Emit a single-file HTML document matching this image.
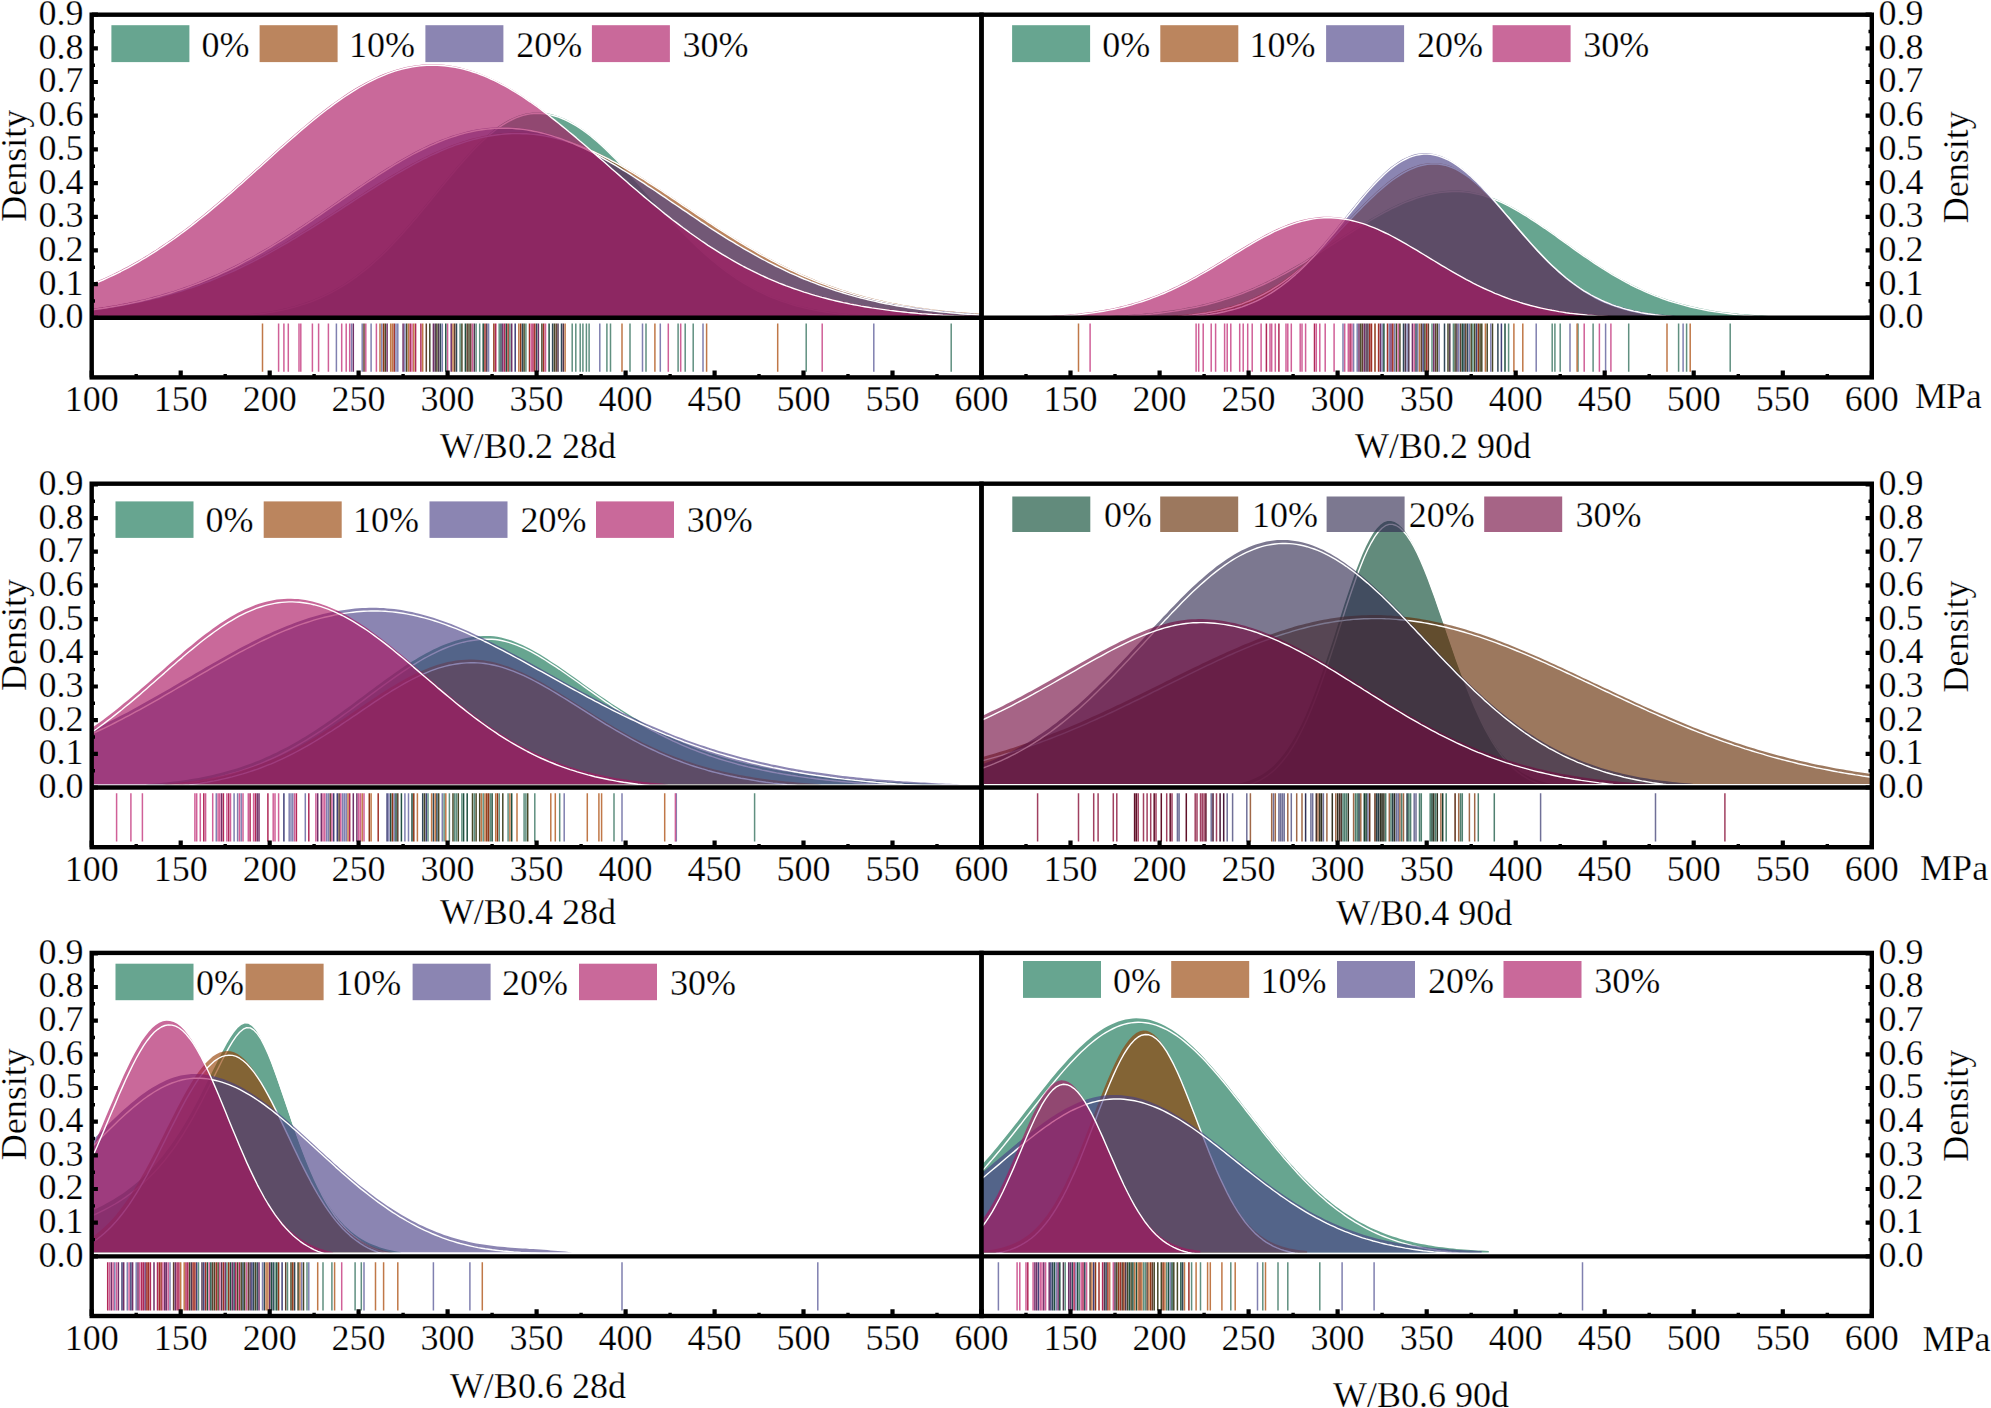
<!DOCTYPE html>
<html lang="en"><head><meta charset="utf-8"><title>Density distributions</title>
<style>html,body{margin:0;padding:0;background:#fff;}svg{display:block;}text{font-family:"Liberation Serif",serif;font-size:36px;fill:#000;stroke:#fff;stroke-width:0.25px;}</style>
</head><body>
<svg width="1991" height="1408" viewBox="0 0 1991 1408">
<rect x="0" y="0" width="1991" height="1408" fill="#fff"/>
<g id="panel1">
<clipPath id="cp0"><rect x="91.7" y="14.7" width="889.8" height="304.1"/></clipPath>
<g clip-path="url(#cp0)" stroke-linejoin="round">
<path d="M216.3 316.8L216.3 316.4L219.8 316.2L223.4 316.1L226.9 315.9L230.5 315.6L234.1 315.4L237.6 315.1L241.2 314.8L244.7 314.5L248.3 314.2L251.9 313.8L255.4 313.4L259 312.9L262.5 312.5L266.1 311.9L269.7 311.4L273.2 310.7L276.8 310.1L280.3 309.4L283.9 308.6L287.5 307.7L291 306.8L294.6 305.9L298.1 304.8L301.7 303.7L305.3 302.6L308.8 301.3L312.4 300L315.9 298.5L319.5 297L323 295.4L326.6 293.7L330.2 291.9L333.7 290L337.3 288L340.8 285.9L344.4 283.7L348 281.3L351.5 278.9L355.1 276.4L358.6 273.7L362.2 270.9L365.8 268.1L369.3 265.1L372.9 262L376.4 258.7L380 255.4L383.6 252L387.1 248.4L390.7 244.8L394.2 241.1L397.8 237.2L401.4 233.3L404.9 229.3L408.5 225.3L412 221.1L415.6 217L419.1 212.7L422.7 208.4L426.3 204.1L429.8 199.7L433.4 195.4L436.9 191L440.5 186.6L444.1 182.3L447.6 178L451.2 173.7L454.7 169.5L458.3 165.3L461.9 161.2L465.4 157.2L469 153.3L472.5 149.5L476.1 145.8L479.7 142.3L483.2 138.9L486.8 135.7L490.3 132.7L493.9 129.8L497.4 127.1L501 124.6L504.6 122.3L508.1 120.3L511.7 118.5L515.2 116.9L518.8 115.5L522.4 114.4L525.9 113.5L529.5 112.9L533 112.5L536.6 112.4L540.2 112.5L543.7 112.8L547.3 113.3L550.8 114.1L554.4 115L558 116.2L561.5 117.5L565.1 119.1L568.6 120.8L572.2 122.8L575.8 124.9L579.3 127.2L582.9 129.6L586.4 132.3L590 135L593.5 138L597.1 141L600.7 144.2L604.2 147.5L607.8 151L611.3 154.5L614.9 158.1L618.5 161.8L622 165.6L625.6 169.4L629.1 173.3L632.7 177.2L636.3 181.2L639.8 185.2L643.4 189.2L646.9 193.2L650.5 197.2L654.1 201.2L657.6 205.2L661.2 209.2L664.7 213.1L668.3 217L671.8 220.9L675.4 224.7L679 228.4L682.5 232.1L686.1 235.7L689.6 239.3L693.2 242.8L696.8 246.2L700.3 249.5L703.9 252.7L707.4 255.8L711 258.9L714.6 261.8L718.1 264.7L721.7 267.5L725.2 270.2L728.8 272.7L732.4 275.2L735.9 277.6L739.5 279.9L743 282.1L746.6 284.2L750.2 286.2L753.7 288.2L757.3 290L760.8 291.7L764.4 293.4L767.9 295L771.5 296.5L775.1 297.9L778.6 299.3L782.2 300.5L785.7 301.7L789.3 302.9L792.9 304L796.4 305L800 305.9L803.5 306.8L807.1 307.6L810.7 308.4L814.2 309.1L817.8 309.8L821.3 310.4L824.9 311L828.5 311.6L832 312.1L835.6 312.6L839.1 313L842.7 313.4L846.3 313.8L849.8 314.1L853.4 314.5L856.9 314.8L860.5 315L864 315.3L867.6 315.5L871.2 315.7L874.7 315.9L878.3 316.1L881.8 316.3L885.4 316.4L885.4 316.8Z" fill="#0f704f" opacity="0.63"/>
<path d="M216.9 317.8L216.9 317.4L220.4 317.2L224 317.1L227.5 316.9L231.1 316.6L234.7 316.4L238.2 316.1L241.8 315.8L245.3 315.5L248.9 315.2L252.5 314.8L256 314.4L259.6 313.9L263.1 313.5L266.7 312.9L270.3 312.4L273.8 311.7L277.4 311.1L280.9 310.4L284.5 309.6L288.1 308.7L291.6 307.8L295.2 306.9L298.7 305.8L302.3 304.7L305.9 303.6L309.4 302.3L313 301L316.5 299.5L320.1 298L323.6 296.4L327.2 294.7L330.8 292.9L334.3 291L337.9 289L341.4 286.9L345 284.7L348.6 282.3L352.1 279.9L355.7 277.4L359.2 274.7L362.8 271.9L366.4 269.1L369.9 266.1L373.5 263L377 259.7L380.6 256.4L384.2 253L387.7 249.4L391.3 245.8L394.8 242.1L398.4 238.2L402 234.3L405.5 230.3L409.1 226.3L412.6 222.1L416.2 218L419.7 213.7L423.3 209.4L426.9 205.1L430.4 200.7L434 196.4L437.5 192L441.1 187.6L444.7 183.3L448.2 179L451.8 174.7L455.3 170.5L458.9 166.3L462.5 162.2L466 158.2L469.6 154.3L473.1 150.5L476.7 146.8L480.3 143.3L483.8 139.9L487.4 136.7L490.9 133.7L494.5 130.8L498 128.1L501.6 125.6L505.2 123.3L508.7 121.3L512.3 119.5L515.8 117.9L519.4 116.5L523 115.4L526.5 114.5L530.1 113.9L533.6 113.5L537.2 113.4L540.8 113.5L544.3 113.8L547.9 114.3L551.4 115.1L555 116L558.6 117.2L562.1 118.5L565.7 120.1L569.2 121.8L572.8 123.8L576.4 125.9L579.9 128.2L583.5 130.6L587 133.3L590.6 136L594.1 139L597.7 142L601.3 145.2L604.8 148.5L608.4 152L611.9 155.5L615.5 159.1L619.1 162.8L622.6 166.6L626.2 170.4L629.7 174.3L633.3 178.2L636.9 182.2L640.4 186.2L644 190.2L647.5 194.2L651.1 198.2L654.7 202.2L658.2 206.2L661.8 210.2L665.3 214.1L668.9 218L672.4 221.9L676 225.7L679.6 229.4L683.1 233.1L686.7 236.7L690.2 240.3L693.8 243.8L697.4 247.2L700.9 250.5L704.5 253.7L708 256.8L711.6 259.9L715.2 262.8L718.7 265.7L722.3 268.5L725.8 271.2L729.4 273.7L733 276.2L736.5 278.6L740.1 280.9L743.6 283.1L747.2 285.2L750.8 287.2L754.3 289.2L757.9 291L761.4 292.7L765 294.4L768.5 296L772.1 297.5L775.7 298.9L779.2 300.3L782.8 301.5L786.3 302.7L789.9 303.9L793.5 305L797 306L800.6 306.9L804.1 307.8L807.7 308.6L811.3 309.4L814.8 310.1L818.4 310.8L821.9 311.4L825.5 312L829.1 312.6L832.6 313.1L836.2 313.6L839.7 314L843.3 314.4L846.9 314.8L850.4 315.1L854 315.5L857.5 315.8L861.1 316L864.6 316.3L868.2 316.5L871.8 316.7L875.3 316.9L878.9 317.1L882.4 317.3L886 317.4L886 317.8" fill="none" stroke="#fff" stroke-width="1.4"/>
<path d="M73.9 316.8L73.9 310.9L77.5 310.6L81 310.2L84.6 309.8L88.1 309.3L91.7 308.9L95.3 308.4L98.8 308L102.4 307.5L105.9 306.9L109.5 306.4L113.1 305.8L116.6 305.2L120.2 304.6L123.7 304L127.3 303.3L130.9 302.6L134.4 301.9L138 301.2L141.5 300.4L145.1 299.6L148.6 298.8L152.2 297.9L155.8 297.1L159.3 296.2L162.9 295.2L166.4 294.2L170 293.2L173.6 292.2L177.1 291.1L180.7 290L184.2 288.9L187.8 287.7L191.4 286.5L194.9 285.3L198.5 284.1L202 282.7L205.6 281.4L209.2 280L212.7 278.6L216.3 277.2L219.8 275.7L223.4 274.2L226.9 272.7L230.5 271.1L234.1 269.5L237.6 267.8L241.2 266.1L244.7 264.4L248.3 262.7L251.9 260.9L255.4 259L259 257.2L262.5 255.3L266.1 253.4L269.7 251.5L273.2 249.5L276.8 247.5L280.3 245.4L283.9 243.4L287.5 241.3L291 239.2L294.6 237.1L298.1 234.9L301.7 232.7L305.3 230.5L308.8 228.3L312.4 226.1L315.9 223.8L319.5 221.6L323 219.3L326.6 217L330.2 214.7L333.7 212.4L337.3 210.1L340.8 207.8L344.4 205.4L348 203.1L351.5 200.8L355.1 198.5L358.6 196.2L362.2 193.9L365.8 191.6L369.3 189.3L372.9 187.1L376.4 184.8L380 182.6L383.6 180.4L387.1 178.2L390.7 176.1L394.2 174L397.8 171.9L401.4 169.8L404.9 167.8L408.5 165.8L412 163.8L415.6 161.9L419.1 160.1L422.7 158.2L426.3 156.5L429.8 154.7L433.4 153.1L436.9 151.5L440.5 149.9L444.1 148.4L447.6 146.9L451.2 145.6L454.7 144.2L458.3 143L461.9 141.8L465.4 140.7L469 139.6L472.5 138.6L476.1 137.7L479.7 136.9L483.2 136.1L486.8 135.4L490.3 134.8L493.9 134.2L497.4 133.7L501 133.4L504.6 133L508.1 132.8L511.7 132.6L515.2 132.6L518.8 132.6L522.4 132.7L525.9 132.8L529.5 133.1L533 133.4L536.6 133.8L540.2 134.3L543.7 134.9L547.3 135.6L550.8 136.3L554.4 137.1L558 138L561.5 139L565.1 140L568.6 141.2L572.2 142.4L575.8 143.6L579.3 145L582.9 146.4L586.4 147.8L590 149.4L593.5 151L597.1 152.6L600.7 154.3L604.2 156.1L607.8 157.9L611.3 159.8L614.9 161.7L618.5 163.7L622 165.7L625.6 167.7L629.1 169.8L632.7 172L636.3 174.1L639.8 176.3L643.4 178.5L646.9 180.8L650.5 183.1L654.1 185.4L657.6 187.7L661.2 190L664.7 192.4L668.3 194.7L671.8 197.1L675.4 199.5L679 201.9L682.5 204.3L686.1 206.6L689.6 209L693.2 211.4L696.8 213.8L700.3 216.2L703.9 218.5L707.4 220.9L711 223.2L714.6 225.6L718.1 227.9L721.7 230.2L725.2 232.4L728.8 234.7L732.4 236.9L735.9 239.1L739.5 241.3L743 243.4L746.6 245.6L750.2 247.7L753.7 249.7L757.3 251.8L760.8 253.8L764.4 255.7L767.9 257.7L771.5 259.6L775.1 261.4L778.6 263.3L782.2 265.1L785.7 266.8L789.3 268.5L792.9 270.2L796.4 271.9L800 273.5L803.5 275.1L807.1 276.6L810.7 278.1L814.2 279.6L817.8 281L821.3 282.4L824.9 283.7L828.5 285.1L832 286.3L835.6 287.6L839.1 288.8L842.7 290L846.3 291.1L849.8 292.2L853.4 293.3L856.9 294.3L860.5 295.3L864 296.3L867.6 297.2L871.2 298.1L874.7 299L878.3 299.8L881.8 300.6L885.4 301.4L889 302.2L892.5 302.9L896.1 303.6L899.6 304.3L903.2 304.9L906.8 305.5L910.3 306.1L913.9 306.7L917.4 307.2L921 307.8L924.6 308.3L928.1 308.8L931.7 309.2L935.2 309.7L938.8 310.1L942.3 310.5L945.9 310.9L949.5 311.2L953 311.6L956.6 311.9L960.1 312.3L963.7 312.6L967.3 312.8L970.8 313.1L974.4 313.4L977.9 313.6L981.5 313.9L985.1 314.1L988.6 314.3L992.2 314.5L995.7 314.7L999.3 314.9L999.3 316.8Z" fill="#933d00" opacity="0.63"/>
<path d="M74.5 317.8L74.5 311.9L78.1 311.6L81.6 311.2L85.2 310.8L88.7 310.3L92.3 309.9L95.9 309.4L99.4 309L103 308.5L106.5 307.9L110.1 307.4L113.7 306.8L117.2 306.2L120.8 305.6L124.3 305L127.9 304.3L131.5 303.6L135 302.9L138.6 302.2L142.1 301.4L145.7 300.6L149.2 299.8L152.8 298.9L156.4 298.1L159.9 297.2L163.5 296.2L167 295.2L170.6 294.2L174.2 293.2L177.7 292.1L181.3 291L184.8 289.9L188.4 288.7L192 287.5L195.5 286.3L199.1 285.1L202.6 283.7L206.2 282.4L209.8 281L213.3 279.6L216.9 278.2L220.4 276.7L224 275.2L227.5 273.7L231.1 272.1L234.7 270.5L238.2 268.8L241.8 267.1L245.3 265.4L248.9 263.7L252.5 261.9L256 260L259.6 258.2L263.1 256.3L266.7 254.4L270.3 252.5L273.8 250.5L277.4 248.5L280.9 246.4L284.5 244.4L288.1 242.3L291.6 240.2L295.2 238.1L298.7 235.9L302.3 233.7L305.9 231.5L309.4 229.3L313 227.1L316.5 224.8L320.1 222.6L323.6 220.3L327.2 218L330.8 215.7L334.3 213.4L337.9 211.1L341.4 208.8L345 206.4L348.6 204.1L352.1 201.8L355.7 199.5L359.2 197.2L362.8 194.9L366.4 192.6L369.9 190.3L373.5 188.1L377 185.8L380.6 183.6L384.2 181.4L387.7 179.2L391.3 177.1L394.8 175L398.4 172.9L402 170.8L405.5 168.8L409.1 166.8L412.6 164.8L416.2 162.9L419.7 161.1L423.3 159.2L426.9 157.5L430.4 155.7L434 154.1L437.5 152.5L441.1 150.9L444.7 149.4L448.2 147.9L451.8 146.6L455.3 145.2L458.9 144L462.5 142.8L466 141.7L469.6 140.6L473.1 139.6L476.7 138.7L480.3 137.9L483.8 137.1L487.4 136.4L490.9 135.8L494.5 135.2L498 134.7L501.6 134.4L505.2 134L508.7 133.8L512.3 133.6L515.8 133.6L519.4 133.6L523 133.7L526.5 133.8L530.1 134.1L533.6 134.4L537.2 134.8L540.8 135.3L544.3 135.9L547.9 136.6L551.4 137.3L555 138.1L558.6 139L562.1 140L565.7 141L569.2 142.2L572.8 143.4L576.4 144.6L579.9 146L583.5 147.4L587 148.8L590.6 150.4L594.1 152L597.7 153.6L601.3 155.3L604.8 157.1L608.4 158.9L611.9 160.8L615.5 162.7L619.1 164.7L622.6 166.7L626.2 168.7L629.7 170.8L633.3 173L636.9 175.1L640.4 177.3L644 179.5L647.5 181.8L651.1 184.1L654.7 186.4L658.2 188.7L661.8 191L665.3 193.4L668.9 195.7L672.4 198.1L676 200.5L679.6 202.9L683.1 205.3L686.7 207.6L690.2 210L693.8 212.4L697.4 214.8L700.9 217.2L704.5 219.5L708 221.9L711.6 224.2L715.2 226.6L718.7 228.9L722.3 231.2L725.8 233.4L729.4 235.7L733 237.9L736.5 240.1L740.1 242.3L743.6 244.4L747.2 246.6L750.8 248.7L754.3 250.7L757.9 252.8L761.4 254.8L765 256.7L768.5 258.7L772.1 260.6L775.7 262.4L779.2 264.3L782.8 266.1L786.3 267.8L789.9 269.5L793.5 271.2L797 272.9L800.6 274.5L804.1 276.1L807.7 277.6L811.3 279.1L814.8 280.6L818.4 282L821.9 283.4L825.5 284.7L829.1 286.1L832.6 287.3L836.2 288.6L839.7 289.8L843.3 291L846.9 292.1L850.4 293.2L854 294.3L857.5 295.3L861.1 296.3L864.6 297.3L868.2 298.2L871.8 299.1L875.3 300L878.9 300.8L882.4 301.6L886 302.4L889.6 303.2L893.1 303.9L896.7 304.6L900.2 305.3L903.8 305.9L907.4 306.5L910.9 307.1L914.5 307.7L918 308.2L921.6 308.8L925.2 309.3L928.7 309.8L932.3 310.2L935.8 310.7L939.4 311.1L942.9 311.5L946.5 311.9L950.1 312.2L953.6 312.6L957.2 312.9L960.7 313.3L964.3 313.6L967.9 313.8L971.4 314.1L975 314.4L978.5 314.6L982.1 314.9L985.7 315.1L989.2 315.3L992.8 315.5L996.3 315.7L999.9 315.9L999.9 317.8" fill="none" stroke="#fff" stroke-width="1.4"/>
<path d="M73.9 316.8L73.9 310.9L77.5 310.5L81 310.1L84.6 309.7L88.1 309.3L91.7 308.8L95.3 308.3L98.8 307.8L102.4 307.3L105.9 306.7L109.5 306.1L113.1 305.5L116.6 304.9L120.2 304.2L123.7 303.6L127.3 302.9L130.9 302.1L134.4 301.4L138 300.6L141.5 299.7L145.1 298.9L148.6 298L152.2 297.1L155.8 296.1L159.3 295.2L162.9 294.1L166.4 293.1L170 292L173.6 290.9L177.1 289.7L180.7 288.5L184.2 287.3L187.8 286L191.4 284.7L194.9 283.4L198.5 282L202 280.6L205.6 279.1L209.2 277.6L212.7 276.1L216.3 274.5L219.8 272.9L223.4 271.2L226.9 269.6L230.5 267.8L234.1 266.1L237.6 264.3L241.2 262.4L244.7 260.5L248.3 258.6L251.9 256.7L255.4 254.7L259 252.6L262.5 250.6L266.1 248.5L269.7 246.4L273.2 244.2L276.8 242L280.3 239.8L283.9 237.6L287.5 235.3L291 233L294.6 230.7L298.1 228.3L301.7 226L305.3 223.6L308.8 221.2L312.4 218.8L315.9 216.3L319.5 213.9L323 211.4L326.6 209L330.2 206.5L333.7 204L337.3 201.6L340.8 199.1L344.4 196.6L348 194.2L351.5 191.7L355.1 189.2L358.6 186.8L362.2 184.4L365.8 182L369.3 179.6L372.9 177.3L376.4 174.9L380 172.6L383.6 170.3L387.1 168.1L390.7 165.9L394.2 163.7L397.8 161.6L401.4 159.5L404.9 157.5L408.5 155.5L412 153.5L415.6 151.6L419.1 149.8L422.7 148L426.3 146.3L429.8 144.6L433.4 143.1L436.9 141.5L440.5 140.1L444.1 138.7L447.6 137.4L451.2 136.1L454.7 135L458.3 133.9L461.9 132.9L465.4 131.9L469 131.1L472.5 130.3L476.1 129.6L479.7 129L483.2 128.5L486.8 128.1L490.3 127.7L493.9 127.4L497.4 127.3L501 127.2L504.6 127.2L508.1 127.3L511.7 127.4L515.2 127.7L518.8 128L522.4 128.4L525.9 128.9L529.5 129.5L533 130.2L536.6 130.9L540.2 131.7L543.7 132.6L547.3 133.6L550.8 134.6L554.4 135.8L558 137L561.5 138.2L565.1 139.6L568.6 141L572.2 142.4L575.8 144L579.3 145.5L582.9 147.2L586.4 148.9L590 150.7L593.5 152.5L597.1 154.4L600.7 156.3L604.2 158.3L607.8 160.3L611.3 162.3L614.9 164.4L618.5 166.6L622 168.8L625.6 171L629.1 173.2L632.7 175.5L636.3 177.8L639.8 180.1L643.4 182.4L646.9 184.8L650.5 187.1L654.1 189.5L657.6 191.9L661.2 194.3L664.7 196.7L668.3 199.2L671.8 201.6L675.4 204L679 206.4L682.5 208.8L686.1 211.2L689.6 213.6L693.2 216L696.8 218.4L700.3 220.8L703.9 223.1L707.4 225.5L711 227.8L714.6 230.1L718.1 232.4L721.7 234.6L725.2 236.9L728.8 239.1L732.4 241.2L735.9 243.4L739.5 245.5L743 247.6L746.6 249.7L750.2 251.7L753.7 253.7L757.3 255.7L760.8 257.6L764.4 259.5L767.9 261.4L771.5 263.2L775.1 265L778.6 266.7L782.2 268.4L785.7 270.1L789.3 271.8L792.9 273.4L796.4 274.9L800 276.5L803.5 278L807.1 279.4L810.7 280.9L814.2 282.2L817.8 283.6L821.3 284.9L824.9 286.2L828.5 287.4L832 288.6L835.6 289.8L839.1 290.9L842.7 292L846.3 293.1L849.8 294.1L853.4 295.1L856.9 296.1L860.5 297L864 297.9L867.6 298.8L871.2 299.6L874.7 300.4L878.3 301.2L881.8 302L885.4 302.7L889 303.4L892.5 304.1L896.1 304.7L899.6 305.3L903.2 305.9L906.8 306.5L910.3 307L913.9 307.6L917.4 308.1L921 308.6L924.6 309L928.1 309.5L931.7 309.9L935.2 310.3L938.8 310.7L942.3 311.1L945.9 311.4L949.5 311.8L953 312.1L956.6 312.4L960.1 312.7L963.7 313L967.3 313.2L970.8 313.5L974.4 313.7L977.9 314L981.5 314.2L985.1 314.4L988.6 314.6L992.2 314.8L995.7 315L999.3 315.1L999.3 316.8Z" fill="#483d85" opacity="0.63"/>
<path d="M74.5 317.8L74.5 311.9L78.1 311.5L81.6 311.1L85.2 310.7L88.7 310.3L92.3 309.8L95.9 309.3L99.4 308.8L103 308.3L106.5 307.7L110.1 307.1L113.7 306.5L117.2 305.9L120.8 305.2L124.3 304.6L127.9 303.9L131.5 303.1L135 302.4L138.6 301.6L142.1 300.7L145.7 299.9L149.2 299L152.8 298.1L156.4 297.1L159.9 296.2L163.5 295.1L167 294.1L170.6 293L174.2 291.9L177.7 290.7L181.3 289.5L184.8 288.3L188.4 287L192 285.7L195.5 284.4L199.1 283L202.6 281.6L206.2 280.1L209.8 278.6L213.3 277.1L216.9 275.5L220.4 273.9L224 272.2L227.5 270.6L231.1 268.8L234.7 267.1L238.2 265.3L241.8 263.4L245.3 261.5L248.9 259.6L252.5 257.7L256 255.7L259.6 253.6L263.1 251.6L266.7 249.5L270.3 247.4L273.8 245.2L277.4 243L280.9 240.8L284.5 238.6L288.1 236.3L291.6 234L295.2 231.7L298.7 229.3L302.3 227L305.9 224.6L309.4 222.2L313 219.8L316.5 217.3L320.1 214.9L323.6 212.4L327.2 210L330.8 207.5L334.3 205L337.9 202.6L341.4 200.1L345 197.6L348.6 195.2L352.1 192.7L355.7 190.2L359.2 187.8L362.8 185.4L366.4 183L369.9 180.6L373.5 178.3L377 175.9L380.6 173.6L384.2 171.3L387.7 169.1L391.3 166.9L394.8 164.7L398.4 162.6L402 160.5L405.5 158.5L409.1 156.5L412.6 154.5L416.2 152.6L419.7 150.8L423.3 149L426.9 147.3L430.4 145.6L434 144.1L437.5 142.5L441.1 141.1L444.7 139.7L448.2 138.4L451.8 137.1L455.3 136L458.9 134.9L462.5 133.9L466 132.9L469.6 132.1L473.1 131.3L476.7 130.6L480.3 130L483.8 129.5L487.4 129.1L490.9 128.7L494.5 128.4L498 128.3L501.6 128.2L505.2 128.2L508.7 128.3L512.3 128.4L515.8 128.7L519.4 129L523 129.4L526.5 129.9L530.1 130.5L533.6 131.2L537.2 131.9L540.8 132.7L544.3 133.6L547.9 134.6L551.4 135.6L555 136.8L558.6 138L562.1 139.2L565.7 140.6L569.2 142L572.8 143.4L576.4 145L579.9 146.5L583.5 148.2L587 149.9L590.6 151.7L594.1 153.5L597.7 155.4L601.3 157.3L604.8 159.3L608.4 161.3L611.9 163.3L615.5 165.4L619.1 167.6L622.6 169.8L626.2 172L629.7 174.2L633.3 176.5L636.9 178.8L640.4 181.1L644 183.4L647.5 185.8L651.1 188.1L654.7 190.5L658.2 192.9L661.8 195.3L665.3 197.7L668.9 200.2L672.4 202.6L676 205L679.6 207.4L683.1 209.8L686.7 212.2L690.2 214.6L693.8 217L697.4 219.4L700.9 221.8L704.5 224.1L708 226.5L711.6 228.8L715.2 231.1L718.7 233.4L722.3 235.6L725.8 237.9L729.4 240.1L733 242.2L736.5 244.4L740.1 246.5L743.6 248.6L747.2 250.7L750.8 252.7L754.3 254.7L757.9 256.7L761.4 258.6L765 260.5L768.5 262.4L772.1 264.2L775.7 266L779.2 267.7L782.8 269.4L786.3 271.1L789.9 272.8L793.5 274.4L797 275.9L800.6 277.5L804.1 279L807.7 280.4L811.3 281.9L814.8 283.2L818.4 284.6L821.9 285.9L825.5 287.2L829.1 288.4L832.6 289.6L836.2 290.8L839.7 291.9L843.3 293L846.9 294.1L850.4 295.1L854 296.1L857.5 297.1L861.1 298L864.6 298.9L868.2 299.8L871.8 300.6L875.3 301.4L878.9 302.2L882.4 303L886 303.7L889.6 304.4L893.1 305.1L896.7 305.7L900.2 306.3L903.8 306.9L907.4 307.5L910.9 308L914.5 308.6L918 309.1L921.6 309.6L925.2 310L928.7 310.5L932.3 310.9L935.8 311.3L939.4 311.7L942.9 312.1L946.5 312.4L950.1 312.8L953.6 313.1L957.2 313.4L960.7 313.7L964.3 314L967.9 314.2L971.4 314.5L975 314.7L978.5 315L982.1 315.2L985.7 315.4L989.2 315.6L992.8 315.8L996.3 316L999.9 316.1L999.9 317.8" fill="none" stroke="#fff" stroke-width="1.4"/>
<path d="M73.9 316.8L73.9 290.1L77.5 288.9L81 287.6L84.6 286.3L88.1 284.9L91.7 283.5L95.3 282L98.8 280.5L102.4 279L105.9 277.4L109.5 275.7L113.1 274L116.6 272.3L120.2 270.5L123.7 268.6L127.3 266.8L130.9 264.8L134.4 262.8L138 260.8L141.5 258.7L145.1 256.6L148.6 254.4L152.2 252.1L155.8 249.9L159.3 247.5L162.9 245.1L166.4 242.7L170 240.2L173.6 237.7L177.1 235.1L180.7 232.5L184.2 229.9L187.8 227.2L191.4 224.4L194.9 221.6L198.5 218.8L202 216L205.6 213.1L209.2 210.1L212.7 207.1L216.3 204.1L219.8 201.1L223.4 198.1L226.9 195L230.5 191.9L234.1 188.7L237.6 185.6L241.2 182.4L244.7 179.2L248.3 176L251.9 172.8L255.4 169.6L259 166.4L262.5 163.2L266.1 160L269.7 156.7L273.2 153.5L276.8 150.3L280.3 147.1L283.9 144L287.5 140.8L291 137.7L294.6 134.6L298.1 131.5L301.7 128.4L305.3 125.4L308.8 122.5L312.4 119.5L315.9 116.6L319.5 113.8L323 111L326.6 108.3L330.2 105.6L333.7 102.9L337.3 100.4L340.8 97.9L344.4 95.5L348 93.1L351.5 90.8L355.1 88.6L358.6 86.5L362.2 84.5L365.8 82.5L369.3 80.7L372.9 78.9L376.4 77.2L380 75.6L383.6 74.1L387.1 72.7L390.7 71.4L394.2 70.2L397.8 69.2L401.4 68.2L404.9 67.3L408.5 66.5L412 65.9L415.6 65.3L419.1 64.9L422.7 64.5L426.3 64.3L429.8 64.2L433.4 64.2L436.9 64.3L440.5 64.5L444.1 64.8L447.6 65.2L451.2 65.8L454.7 66.4L458.3 67.1L461.9 67.9L465.4 68.9L469 69.9L472.5 71L476.1 72.2L479.7 73.5L483.2 74.9L486.8 76.4L490.3 78L493.9 79.7L497.4 81.5L501 83.3L504.6 85.2L508.1 87.2L511.7 89.3L515.2 91.5L518.8 93.7L522.4 96L525.9 98.4L529.5 100.8L533 103.3L536.6 105.8L540.2 108.4L543.7 111.1L547.3 113.8L550.8 116.6L554.4 119.4L558 122.2L561.5 125.1L565.1 128L568.6 131L572.2 133.9L575.8 136.9L579.3 140L582.9 143L586.4 146.1L590 149.2L593.5 152.3L597.1 155.4L600.7 158.5L604.2 161.6L607.8 164.8L611.3 167.9L614.9 171L618.5 174.1L622 177.2L625.6 180.3L629.1 183.4L632.7 186.5L636.3 189.5L639.8 192.5L643.4 195.6L646.9 198.5L650.5 201.5L654.1 204.4L657.6 207.3L661.2 210.2L664.7 213.1L668.3 215.9L671.8 218.7L675.4 221.4L679 224.1L682.5 226.8L686.1 229.4L689.6 232L693.2 234.5L696.8 237L700.3 239.5L703.9 241.9L707.4 244.3L711 246.6L714.6 248.9L718.1 251.1L721.7 253.3L725.2 255.4L728.8 257.5L732.4 259.6L735.9 261.6L739.5 263.6L743 265.5L746.6 267.3L750.2 269.2L753.7 270.9L757.3 272.7L760.8 274.3L764.4 276L767.9 277.6L771.5 279.1L775.1 280.6L778.6 282.1L782.2 283.5L785.7 284.9L789.3 286.2L792.9 287.5L796.4 288.7L800 289.9L803.5 291.1L807.1 292.2L810.7 293.3L814.2 294.4L817.8 295.4L821.3 296.4L824.9 297.3L828.5 298.2L832 299.1L835.6 300L839.1 300.8L842.7 301.6L846.3 302.3L849.8 303.1L853.4 303.8L856.9 304.4L860.5 305.1L864 305.7L867.6 306.3L871.2 306.9L874.7 307.4L878.3 307.9L881.8 308.4L885.4 308.9L889 309.4L892.5 309.8L896.1 310.2L899.6 310.6L903.2 311L906.8 311.4L910.3 311.7L913.9 312L917.4 312.4L921 312.7L924.6 312.9L928.1 313.2L931.7 313.5L935.2 313.7L938.8 313.9L942.3 314.2L945.9 314.4L949.5 314.6L953 314.8L956.6 314.9L960.1 315.1L963.7 315.3L967.3 315.4L970.8 315.6L974.4 315.7L977.9 315.8L981.5 315.9L985.1 316.1L988.6 316.2L992.2 316.3L995.7 316.4L995.7 316.8Z" fill="#a9115f" opacity="0.63"/>
<path d="M74.5 317.8L74.5 291.1L78.1 289.9L81.6 288.6L85.2 287.3L88.7 285.9L92.3 284.5L95.9 283L99.4 281.5L103 280L106.5 278.4L110.1 276.7L113.7 275L117.2 273.3L120.8 271.5L124.3 269.6L127.9 267.8L131.5 265.8L135 263.8L138.6 261.8L142.1 259.7L145.7 257.6L149.2 255.4L152.8 253.1L156.4 250.9L159.9 248.5L163.5 246.1L167 243.7L170.6 241.2L174.2 238.7L177.7 236.1L181.3 233.5L184.8 230.9L188.4 228.2L192 225.4L195.5 222.6L199.1 219.8L202.6 217L206.2 214.1L209.8 211.1L213.3 208.1L216.9 205.1L220.4 202.1L224 199.1L227.5 196L231.1 192.9L234.7 189.7L238.2 186.6L241.8 183.4L245.3 180.2L248.9 177L252.5 173.8L256 170.6L259.6 167.4L263.1 164.2L266.7 161L270.3 157.7L273.8 154.5L277.4 151.3L280.9 148.1L284.5 145L288.1 141.8L291.6 138.7L295.2 135.6L298.7 132.5L302.3 129.4L305.9 126.4L309.4 123.5L313 120.5L316.5 117.6L320.1 114.8L323.6 112L327.2 109.3L330.8 106.6L334.3 103.9L337.9 101.4L341.4 98.9L345 96.5L348.6 94.1L352.1 91.8L355.7 89.6L359.2 87.5L362.8 85.5L366.4 83.5L369.9 81.7L373.5 79.9L377 78.2L380.6 76.6L384.2 75.1L387.7 73.7L391.3 72.4L394.8 71.2L398.4 70.2L402 69.2L405.5 68.3L409.1 67.5L412.6 66.9L416.2 66.3L419.7 65.9L423.3 65.5L426.9 65.3L430.4 65.2L434 65.2L437.5 65.3L441.1 65.5L444.7 65.8L448.2 66.2L451.8 66.8L455.3 67.4L458.9 68.1L462.5 68.9L466 69.9L469.6 70.9L473.1 72L476.7 73.2L480.3 74.5L483.8 75.9L487.4 77.4L490.9 79L494.5 80.7L498 82.5L501.6 84.3L505.2 86.2L508.7 88.2L512.3 90.3L515.8 92.5L519.4 94.7L523 97L526.5 99.4L530.1 101.8L533.6 104.3L537.2 106.8L540.8 109.4L544.3 112.1L547.9 114.8L551.4 117.6L555 120.4L558.6 123.2L562.1 126.1L565.7 129L569.2 132L572.8 134.9L576.4 137.9L579.9 141L583.5 144L587 147.1L590.6 150.2L594.1 153.3L597.7 156.4L601.3 159.5L604.8 162.6L608.4 165.8L611.9 168.9L615.5 172L619.1 175.1L622.6 178.2L626.2 181.3L629.7 184.4L633.3 187.5L636.9 190.5L640.4 193.5L644 196.6L647.5 199.5L651.1 202.5L654.7 205.4L658.2 208.3L661.8 211.2L665.3 214.1L668.9 216.9L672.4 219.7L676 222.4L679.6 225.1L683.1 227.8L686.7 230.4L690.2 233L693.8 235.5L697.4 238L700.9 240.5L704.5 242.9L708 245.3L711.6 247.6L715.2 249.9L718.7 252.1L722.3 254.3L725.8 256.4L729.4 258.5L733 260.6L736.5 262.6L740.1 264.6L743.6 266.5L747.2 268.3L750.8 270.2L754.3 271.9L757.9 273.7L761.4 275.3L765 277L768.5 278.6L772.1 280.1L775.7 281.6L779.2 283.1L782.8 284.5L786.3 285.9L789.9 287.2L793.5 288.5L797 289.7L800.6 290.9L804.1 292.1L807.7 293.2L811.3 294.3L814.8 295.4L818.4 296.4L821.9 297.4L825.5 298.3L829.1 299.2L832.6 300.1L836.2 301L839.7 301.8L843.3 302.6L846.9 303.3L850.4 304.1L854 304.8L857.5 305.4L861.1 306.1L864.6 306.7L868.2 307.3L871.8 307.9L875.3 308.4L878.9 308.9L882.4 309.4L886 309.9L889.6 310.4L893.1 310.8L896.7 311.2L900.2 311.6L903.8 312L907.4 312.4L910.9 312.7L914.5 313L918 313.4L921.6 313.7L925.2 313.9L928.7 314.2L932.3 314.5L935.8 314.7L939.4 314.9L942.9 315.2L946.5 315.4L950.1 315.6L953.6 315.8L957.2 315.9L960.7 316.1L964.3 316.3L967.9 316.4L971.4 316.6L975 316.7L978.5 316.8L982.1 316.9L985.7 317.1L989.2 317.2L992.8 317.3L996.3 317.4L996.3 317.8" fill="none" stroke="#fff" stroke-width="1.4"/>
</g>
<g stroke-width="1.5" fill="none">
<path d="M445.8 323.6V371.8M465.4 323.6V371.8M483.2 323.6V371.8M506.3 323.6V371.8M549.1 323.6V371.8" stroke="#205040"/>
<path d="M440.5 323.6V371.8M456.5 323.6V371.8M501 323.6V371.8M522.4 323.6V371.8M536.6 323.6V371.8M552.6 323.6V371.8M561.5 323.6V371.8" stroke="#304858"/>
<path d="M515.2 323.6V371.8" stroke="#404078"/>
<path d="M385.3 323.6V371.8M406.7 323.6V371.8M429.8 323.6V371.8M436.9 323.6V371.8M461.9 323.6V371.8M469 323.6V371.8M524.1 323.6V371.8M541.9 323.6V371.8M554.4 323.6V371.8" stroke="#484828"/>
<path d="M435.2 323.6V371.8M438.7 323.6V371.8M474.3 323.6V371.8M486.8 323.6V371.8M558 323.6V371.8M563.3 323.6V371.8" stroke="#503850"/>
<path d="M364 323.6V371.8M426.3 323.6V371.8M454.7 323.6V371.8M467.2 323.6V371.8M470.8 323.6V371.8M556.2 323.6V371.8" stroke="#604030"/>
<path d="M460.1 323.6V371.8M476.1 323.6V371.8M479.7 323.6V371.8M499.2 323.6V371.8M509.9 323.6V371.8M525.9 323.6V371.8M572.2 323.6V371.8M575.8 323.6V371.8M580.2 323.6V371.8M582.9 323.6V371.8M586.4 323.6V371.8M589.1 323.6V371.8M606.9 323.6V371.8M610.5 323.6V371.8M630 323.6V371.8M646 323.6V371.8M678.1 323.6V371.8M685.2 323.6V371.8M693.2 323.6V371.8M806.2 323.6V371.8M951.2 323.6V371.8" stroke="#609080"/>
<path d="M353.3 323.6V371.8M387.1 323.6V371.8M403.1 323.6V371.8M433.4 323.6V371.8M451.2 323.6V371.8M502.8 323.6V371.8M511.7 323.6V371.8M538.4 323.6V371.8" stroke="#703068"/>
<path d="M336.4 323.6V371.8M351.5 323.6V371.8M362.2 323.6V371.8M371.1 323.6V371.8M381.8 323.6V371.8M396 323.6V371.8M397.8 323.6V371.8M404.9 323.6V371.8M442.3 323.6V371.8M488.6 323.6V371.8M599.8 323.6V371.8M642.5 323.6V371.8M660.3 323.6V371.8M703 323.6V371.8M873.8 323.6V371.8" stroke="#8080b0"/>
<path d="M383.6 323.6V371.8M493.9 323.6V371.8M520.6 323.6V371.8" stroke="#903818"/>
<path d="M394.2 323.6V371.8M485 323.6V371.8M508.1 323.6V371.8M529.5 323.6V371.8M534.8 323.6V371.8M543.7 323.6V371.8" stroke="#a03028"/>
<path d="M410.2 323.6V371.8M415.6 323.6V371.8M420.9 323.6V371.8M495.7 323.6V371.8M504.6 323.6V371.8M533 323.6V371.8" stroke="#b02858"/>
<path d="M262.5 323.6V371.8M380 323.6V371.8M390.7 323.6V371.8M392.5 323.6V371.8M408.5 323.6V371.8M413.8 323.6V371.8M422.7 323.6V371.8M453 323.6V371.8M518.8 323.6V371.8M565.1 323.6V371.8M622 323.6V371.8M654.9 323.6V371.8M706.6 323.6V371.8M777.7 323.6V371.8" stroke="#c07848"/>
<path d="M278.6 323.6V371.8M283.9 323.6V371.8M288.3 323.6V371.8M299 323.6V371.8M300.8 323.6V371.8M312.4 323.6V371.8M318.6 323.6V371.8M328.4 323.6V371.8M341.7 323.6V371.8M346.2 323.6V371.8M349.7 323.6V371.8M365.8 323.6V371.8M376.4 323.6V371.8M412 323.6V371.8M447.6 323.6V371.8M472.5 323.6V371.8M531.3 323.6V371.8M545.5 323.6V371.8M668.3 323.6V371.8M680.7 323.6V371.8M822.2 323.6V371.8" stroke="#d06098"/>
</g>
<g stroke="#000" fill="none">
<rect x="91.7" y="14.7" width="889.8" height="362.7" stroke-width="4.4"/>
<path d="M91.7 317.8H981.5" stroke-width="4.4"/>
<path d="M91.7 317.8h6.2M91.7 284.1h6.2M91.7 250.4h6.2M91.7 216.8h6.2M91.7 183.1h6.2M91.7 149.4h6.2M91.7 115.7h6.2M91.7 82h6.2M91.7 48.4h6.2M91.7 14.7h6.2M91.7 377.4v-6.8M180.7 377.4v-6.8M269.7 377.4v-6.8M358.6 377.4v-6.8M447.6 377.4v-6.8M536.6 377.4v-6.8M625.6 377.4v-6.8M714.6 377.4v-6.8M803.5 377.4v-6.8M892.5 377.4v-6.8M981.5 377.4v-6.8" stroke-width="4.2"/>
<path d="M91.7 301h3.3M91.7 267.3h3.3M91.7 233.6h3.3M91.7 199.9h3.3M91.7 166.2h3.3M91.7 132.6h3.3M91.7 98.9h3.3M91.7 65.2h3.3M91.7 31.5h3.3M136.2 377.4v-3.3M225.2 377.4v-3.3M314.1 377.4v-3.3M403.1 377.4v-3.3M492.1 377.4v-3.3M581.1 377.4v-3.3M670.1 377.4v-3.3M759 377.4v-3.3M848 377.4v-3.3M937 377.4v-3.3" stroke-width="3.4"/>
</g>
<g>
<text x="83.6" y="328.2" text-anchor="end">0.0</text>
<text x="83.6" y="294.5" text-anchor="end">0.1</text>
<text x="83.6" y="260.8" text-anchor="end">0.2</text>
<text x="83.6" y="227.2" text-anchor="end">0.3</text>
<text x="83.6" y="193.5" text-anchor="end">0.4</text>
<text x="83.6" y="159.8" text-anchor="end">0.5</text>
<text x="83.6" y="126.1" text-anchor="end">0.6</text>
<text x="83.6" y="92.4" text-anchor="end">0.7</text>
<text x="83.6" y="58.8" text-anchor="end">0.8</text>
<text x="83.6" y="25.1" text-anchor="end">0.9</text>
<text x="91.7" y="411.4" text-anchor="middle">100</text>
<text x="180.7" y="411.4" text-anchor="middle">150</text>
<text x="269.7" y="411.4" text-anchor="middle">200</text>
<text x="358.6" y="411.4" text-anchor="middle">250</text>
<text x="447.6" y="411.4" text-anchor="middle">300</text>
<text x="536.6" y="411.4" text-anchor="middle">350</text>
<text x="625.6" y="411.4" text-anchor="middle">400</text>
<text x="714.6" y="411.4" text-anchor="middle">450</text>
<text x="803.5" y="411.4" text-anchor="middle">500</text>
<text x="892.5" y="411.4" text-anchor="middle">550</text>
<text x="981.5" y="411.4" text-anchor="middle">600</text>
<text transform="translate(26.2 165.8) rotate(-90)" text-anchor="middle">Density</text>
<text x="527.9" y="458" text-anchor="middle">W/B0.2 28d</text>
</g>
<g>
<rect x="111.4" y="25.2" width="78" height="36.9" fill="#0f704f" opacity="0.63"/>
<text x="201.5" y="56.7">0%</text>
<rect x="259.6" y="25.2" width="78" height="36.9" fill="#933d00" opacity="0.63"/>
<text x="348.9" y="56.7">10%</text>
<rect x="425.4" y="25.2" width="78" height="36.9" fill="#483d85" opacity="0.63"/>
<text x="516.3" y="56.7">20%</text>
<rect x="591.9" y="25.2" width="78" height="36.9" fill="#a9115f" opacity="0.63"/>
<text x="682.6" y="56.7">30%</text>
</g>
</g>
<g id="panel2">
<clipPath id="cp1"><rect x="981.5" y="14.7" width="890.3" height="304.1"/></clipPath>
<g clip-path="url(#cp1)" stroke-linejoin="round">
<path d="M1099 316.8L1099 316.4L1102.6 316.2L1106.1 316.1L1109.7 315.9L1113.3 315.8L1116.8 315.6L1120.4 315.4L1123.9 315.2L1127.5 315L1131.1 314.7L1134.6 314.5L1138.2 314.2L1141.8 313.9L1145.3 313.6L1148.9 313.2L1152.4 312.9L1156 312.5L1159.6 312L1163.1 311.6L1166.7 311.1L1170.2 310.6L1173.8 310.1L1177.4 309.5L1180.9 308.9L1184.5 308.3L1188 307.6L1191.6 306.9L1195.2 306.2L1198.7 305.4L1202.3 304.6L1205.9 303.7L1209.4 302.8L1213 301.9L1216.5 300.9L1220.1 299.8L1223.7 298.7L1227.2 297.6L1230.8 296.4L1234.3 295.2L1237.9 293.9L1241.5 292.6L1245 291.2L1248.6 289.7L1252.2 288.3L1255.7 286.7L1259.3 285.1L1262.8 283.5L1266.4 281.8L1270 280L1273.5 278.3L1277.1 276.4L1280.6 274.5L1284.2 272.6L1287.8 270.6L1291.3 268.6L1294.9 266.6L1298.4 264.5L1302 262.4L1305.6 260.2L1309.1 258L1312.7 255.8L1316.3 253.5L1319.8 251.3L1323.4 249L1326.9 246.7L1330.5 244.4L1334.1 242.1L1337.6 239.8L1341.2 237.5L1344.7 235.2L1348.3 232.9L1351.9 230.6L1355.4 228.3L1359 226.1L1362.5 223.9L1366.1 221.7L1369.7 219.5L1373.2 217.4L1376.8 215.4L1380.4 213.4L1383.9 211.4L1387.5 209.6L1391 207.7L1394.6 206L1398.2 204.3L1401.7 202.7L1405.3 201.2L1408.8 199.8L1412.4 198.5L1416 197.2L1419.5 196.1L1423.1 195L1426.7 194.1L1430.2 193.3L1433.8 192.5L1437.3 191.9L1440.9 191.4L1444.5 191L1448 190.7L1451.6 190.5L1455.1 190.5L1458.7 190.6L1462.3 190.8L1465.8 191.1L1469.4 191.6L1472.9 192.2L1476.5 193L1480.1 193.9L1483.6 194.9L1487.2 196L1490.8 197.3L1494.3 198.6L1497.9 200.1L1501.4 201.7L1505 203.4L1508.6 205.2L1512.1 207.1L1515.7 209.1L1519.2 211.1L1522.8 213.3L1526.4 215.5L1529.9 217.8L1533.5 220.1L1537 222.4L1540.6 224.9L1544.2 227.3L1547.7 229.8L1551.3 232.3L1554.9 234.8L1558.4 237.4L1562 239.9L1565.5 242.5L1569.1 245L1572.7 247.6L1576.2 250.1L1579.8 252.6L1583.3 255.1L1586.9 257.5L1590.5 260L1594 262.3L1597.6 264.7L1601.1 267L1604.7 269.2L1608.3 271.4L1611.8 273.6L1615.4 275.7L1619 277.7L1622.5 279.7L1626.1 281.6L1629.6 283.5L1633.2 285.3L1636.8 287.1L1640.3 288.7L1643.9 290.4L1647.4 291.9L1651 293.4L1654.6 294.9L1658.1 296.2L1661.7 297.5L1665.3 298.8L1668.8 300L1672.4 301.1L1675.9 302.2L1679.5 303.2L1683.1 304.2L1686.6 305.1L1690.2 306L1693.7 306.8L1697.3 307.6L1700.9 308.4L1704.4 309L1708 309.7L1711.5 310.3L1715.1 310.9L1718.7 311.4L1722.2 311.9L1725.8 312.4L1729.4 312.8L1732.9 313.2L1736.5 313.6L1740 313.9L1743.6 314.3L1747.2 314.6L1750.7 314.8L1754.3 315.1L1757.8 315.3L1761.4 315.6L1765 315.8L1768.5 315.9L1772.1 316.1L1775.6 316.3L1779.2 316.4L1779.2 316.8Z" fill="#0f704f" opacity="0.63"/>
<path d="M1099.6 317.8L1099.6 317.4L1103.2 317.2L1106.7 317.1L1110.3 316.9L1113.9 316.8L1117.4 316.6L1121 316.4L1124.5 316.2L1128.1 316L1131.7 315.7L1135.2 315.5L1138.8 315.2L1142.4 314.9L1145.9 314.6L1149.5 314.2L1153 313.9L1156.6 313.5L1160.2 313L1163.7 312.6L1167.3 312.1L1170.8 311.6L1174.4 311.1L1178 310.5L1181.5 309.9L1185.1 309.3L1188.6 308.6L1192.2 307.9L1195.8 307.2L1199.3 306.4L1202.9 305.6L1206.5 304.7L1210 303.8L1213.6 302.9L1217.1 301.9L1220.7 300.8L1224.3 299.7L1227.8 298.6L1231.4 297.4L1234.9 296.2L1238.5 294.9L1242.1 293.6L1245.6 292.2L1249.2 290.7L1252.8 289.3L1256.3 287.7L1259.9 286.1L1263.4 284.5L1267 282.8L1270.6 281L1274.1 279.3L1277.7 277.4L1281.2 275.5L1284.8 273.6L1288.4 271.6L1291.9 269.6L1295.5 267.6L1299 265.5L1302.6 263.4L1306.2 261.2L1309.7 259L1313.3 256.8L1316.9 254.5L1320.4 252.3L1324 250L1327.5 247.7L1331.1 245.4L1334.7 243.1L1338.2 240.8L1341.8 238.5L1345.3 236.2L1348.9 233.9L1352.5 231.6L1356 229.3L1359.6 227.1L1363.1 224.9L1366.7 222.7L1370.3 220.5L1373.8 218.4L1377.4 216.4L1381 214.4L1384.5 212.4L1388.1 210.6L1391.6 208.7L1395.2 207L1398.8 205.3L1402.3 203.7L1405.9 202.2L1409.4 200.8L1413 199.5L1416.6 198.2L1420.1 197.1L1423.7 196L1427.2 195.1L1430.8 194.3L1434.4 193.5L1437.9 192.9L1441.5 192.4L1445.1 192L1448.6 191.7L1452.2 191.5L1455.7 191.5L1459.3 191.6L1462.9 191.8L1466.4 192.1L1470 192.6L1473.5 193.2L1477.1 194L1480.7 194.9L1484.2 195.9L1487.8 197L1491.4 198.3L1494.9 199.6L1498.5 201.1L1502 202.7L1505.6 204.4L1509.2 206.2L1512.7 208.1L1516.3 210.1L1519.8 212.1L1523.4 214.3L1527 216.5L1530.5 218.8L1534.1 221.1L1537.6 223.4L1541.2 225.9L1544.8 228.3L1548.3 230.8L1551.9 233.3L1555.5 235.8L1559 238.4L1562.6 240.9L1566.1 243.5L1569.7 246L1573.3 248.6L1576.8 251.1L1580.4 253.6L1583.9 256.1L1587.5 258.5L1591.1 261L1594.6 263.3L1598.2 265.7L1601.7 268L1605.3 270.2L1608.9 272.4L1612.4 274.6L1616 276.7L1619.6 278.7L1623.1 280.7L1626.7 282.6L1630.2 284.5L1633.8 286.3L1637.4 288.1L1640.9 289.7L1644.5 291.4L1648 292.9L1651.6 294.4L1655.2 295.9L1658.7 297.2L1662.3 298.5L1665.9 299.8L1669.4 301L1673 302.1L1676.5 303.2L1680.1 304.2L1683.7 305.2L1687.2 306.1L1690.8 307L1694.3 307.8L1697.9 308.6L1701.5 309.4L1705 310L1708.6 310.7L1712.1 311.3L1715.7 311.9L1719.3 312.4L1722.8 312.9L1726.4 313.4L1730 313.8L1733.5 314.2L1737.1 314.6L1740.6 314.9L1744.2 315.3L1747.8 315.6L1751.3 315.8L1754.9 316.1L1758.4 316.3L1762 316.6L1765.6 316.8L1769.1 316.9L1772.7 317.1L1776.2 317.3L1779.8 317.4L1779.8 317.8" fill="none" stroke="#fff" stroke-width="1.4"/>
<path d="M1159.6 316.8L1159.6 316.5L1163.1 316.3L1166.7 316.1L1170.2 315.9L1173.8 315.6L1177.4 315.4L1180.9 315.1L1184.5 314.7L1188 314.4L1191.6 314L1195.2 313.5L1198.7 313L1202.3 312.5L1205.9 312L1209.4 311.3L1213 310.6L1216.5 309.9L1220.1 309.1L1223.7 308.2L1227.2 307.3L1230.8 306.3L1234.3 305.2L1237.9 304L1241.5 302.8L1245 301.4L1248.6 300L1252.2 298.5L1255.7 296.8L1259.3 295.1L1262.8 293.3L1266.4 291.3L1270 289.3L1273.5 287.1L1277.1 284.9L1280.6 282.5L1284.2 280L1287.8 277.4L1291.3 274.7L1294.9 271.9L1298.4 269L1302 266L1305.6 262.9L1309.1 259.7L1312.7 256.4L1316.3 253L1319.8 249.5L1323.4 246L1326.9 242.4L1330.5 238.7L1334.1 235.1L1337.6 231.3L1341.2 227.6L1344.7 223.8L1348.3 220.1L1351.9 216.3L1355.4 212.6L1359 208.9L1362.5 205.3L1366.1 201.7L1369.7 198.2L1373.2 194.9L1376.8 191.6L1380.4 188.4L1383.9 185.4L1387.5 182.5L1391 179.7L1394.6 177.2L1398.2 174.8L1401.7 172.6L1405.3 170.6L1408.8 168.8L1412.4 167.3L1416 165.9L1419.5 164.8L1423.1 164L1426.7 163.4L1430.2 163L1433.8 162.9L1437.3 163L1440.9 163.5L1444.5 164.2L1448 165.3L1451.6 166.6L1455.1 168.2L1458.7 170.1L1462.3 172.3L1465.8 174.7L1469.4 177.3L1472.9 180.2L1476.5 183.2L1480.1 186.5L1483.6 189.9L1487.2 193.5L1490.8 197.2L1494.3 201L1497.9 205L1501.4 209L1505 213.1L1508.6 217.2L1512.1 221.3L1515.7 225.5L1519.2 229.6L1522.8 233.8L1526.4 237.9L1529.9 241.9L1533.5 245.9L1537 249.8L1540.6 253.6L1544.2 257.3L1547.7 260.9L1551.3 264.4L1554.9 267.8L1558.4 271.1L1562 274.2L1565.5 277.2L1569.1 280.1L1572.7 282.8L1576.2 285.4L1579.8 287.9L1583.3 290.2L1586.9 292.4L1590.5 294.5L1594 296.5L1597.6 298.3L1601.1 300L1604.7 301.6L1608.3 303L1611.8 304.4L1615.4 305.7L1619 306.8L1622.5 307.9L1626.1 308.9L1629.6 309.8L1633.2 310.6L1636.8 311.4L1640.3 312L1643.9 312.7L1647.4 313.2L1651 313.7L1654.6 314.2L1658.1 314.6L1661.7 315L1665.3 315.3L1668.8 315.6L1672.4 315.9L1675.9 316.1L1679.5 316.3L1679.5 316.8Z" fill="#933d00" opacity="0.63"/>
<path d="M1160.2 317.8L1160.2 317.5L1163.7 317.3L1167.3 317.1L1170.8 316.9L1174.4 316.6L1178 316.4L1181.5 316.1L1185.1 315.7L1188.6 315.4L1192.2 315L1195.8 314.5L1199.3 314L1202.9 313.5L1206.5 313L1210 312.3L1213.6 311.6L1217.1 310.9L1220.7 310.1L1224.3 309.2L1227.8 308.3L1231.4 307.3L1234.9 306.2L1238.5 305L1242.1 303.8L1245.6 302.4L1249.2 301L1252.8 299.5L1256.3 297.8L1259.9 296.1L1263.4 294.3L1267 292.3L1270.6 290.3L1274.1 288.1L1277.7 285.9L1281.2 283.5L1284.8 281L1288.4 278.4L1291.9 275.7L1295.5 272.9L1299 270L1302.6 267L1306.2 263.9L1309.7 260.7L1313.3 257.4L1316.9 254L1320.4 250.5L1324 247L1327.5 243.4L1331.1 239.7L1334.7 236.1L1338.2 232.3L1341.8 228.6L1345.3 224.8L1348.9 221.1L1352.5 217.3L1356 213.6L1359.6 209.9L1363.1 206.3L1366.7 202.7L1370.3 199.2L1373.8 195.9L1377.4 192.6L1381 189.4L1384.5 186.4L1388.1 183.5L1391.6 180.7L1395.2 178.2L1398.8 175.8L1402.3 173.6L1405.9 171.6L1409.4 169.8L1413 168.3L1416.6 166.9L1420.1 165.8L1423.7 165L1427.2 164.4L1430.8 164L1434.4 163.9L1437.9 164L1441.5 164.5L1445.1 165.2L1448.6 166.3L1452.2 167.6L1455.7 169.2L1459.3 171.1L1462.9 173.3L1466.4 175.7L1470 178.3L1473.5 181.2L1477.1 184.2L1480.7 187.5L1484.2 190.9L1487.8 194.5L1491.4 198.2L1494.9 202L1498.5 206L1502 210L1505.6 214.1L1509.2 218.2L1512.7 222.3L1516.3 226.5L1519.8 230.6L1523.4 234.8L1527 238.9L1530.5 242.9L1534.1 246.9L1537.6 250.8L1541.2 254.6L1544.8 258.3L1548.3 261.9L1551.9 265.4L1555.5 268.8L1559 272.1L1562.6 275.2L1566.1 278.2L1569.7 281.1L1573.3 283.8L1576.8 286.4L1580.4 288.9L1583.9 291.2L1587.5 293.4L1591.1 295.5L1594.6 297.5L1598.2 299.3L1601.7 301L1605.3 302.6L1608.9 304L1612.4 305.4L1616 306.7L1619.6 307.8L1623.1 308.9L1626.7 309.9L1630.2 310.8L1633.8 311.6L1637.4 312.4L1640.9 313L1644.5 313.7L1648 314.2L1651.6 314.7L1655.2 315.2L1658.7 315.6L1662.3 316L1665.9 316.3L1669.4 316.6L1673 316.9L1676.5 317.1L1680.1 317.3L1680.1 317.8" fill="none" stroke="#fff" stroke-width="1.4"/>
<path d="M1177.4 316.8L1177.4 316.4L1180.9 316.2L1184.5 316L1188 315.7L1191.6 315.4L1195.2 315.1L1198.7 314.7L1202.3 314.3L1205.9 313.9L1209.4 313.4L1213 312.8L1216.5 312.2L1220.1 311.5L1223.7 310.8L1227.2 309.9L1230.8 309L1234.3 308.1L1237.9 307L1241.5 305.8L1245 304.5L1248.6 303.2L1252.2 301.7L1255.7 300.1L1259.3 298.3L1262.8 296.5L1266.4 294.5L1270 292.4L1273.5 290.1L1277.1 287.7L1280.6 285.2L1284.2 282.5L1287.8 279.7L1291.3 276.7L1294.9 273.6L1298.4 270.4L1302 267L1305.6 263.4L1309.1 259.8L1312.7 256L1316.3 252.1L1319.8 248.1L1323.4 244L1326.9 239.8L1330.5 235.5L1334.1 231.2L1337.6 226.8L1341.2 222.3L1344.7 217.9L1348.3 213.5L1351.9 209.1L1355.4 204.7L1359 200.3L1362.5 196.1L1366.1 191.9L1369.7 187.9L1373.2 184L1376.8 180.2L1380.4 176.7L1383.9 173.3L1387.5 170.1L1391 167.1L1394.6 164.4L1398.2 162L1401.7 159.8L1405.3 158L1408.8 156.4L1412.4 155.1L1416 154.1L1419.5 153.5L1423.1 153.1L1426.7 153.1L1430.2 153.4L1433.8 154L1437.3 154.9L1440.9 156.1L1444.5 157.5L1448 159.2L1451.6 161.2L1455.1 163.4L1458.7 165.9L1462.3 168.6L1465.8 171.5L1469.4 174.6L1472.9 177.9L1476.5 181.3L1480.1 184.9L1483.6 188.7L1487.2 192.5L1490.8 196.5L1494.3 200.6L1497.9 204.7L1501.4 208.9L1505 213.1L1508.6 217.3L1512.1 221.5L1515.7 225.7L1519.2 229.9L1522.8 234L1526.4 238.1L1529.9 242.1L1533.5 246.1L1537 250L1540.6 253.7L1544.2 257.4L1547.7 261L1551.3 264.4L1554.9 267.7L1558.4 270.9L1562 274L1565.5 277L1569.1 279.8L1572.7 282.5L1576.2 285L1579.8 287.5L1583.3 289.8L1586.9 291.9L1590.5 294L1594 295.9L1597.6 297.7L1601.1 299.4L1604.7 301L1608.3 302.4L1611.8 303.8L1615.4 305.1L1619 306.2L1622.5 307.3L1626.1 308.3L1629.6 309.2L1633.2 310.1L1636.8 310.8L1640.3 311.6L1643.9 312.2L1647.4 312.8L1651 313.3L1654.6 313.8L1658.1 314.2L1661.7 314.6L1665.3 315L1668.8 315.3L1672.4 315.6L1675.9 315.9L1679.5 316.1L1683.1 316.3L1683.1 316.8Z" fill="#483d85" opacity="0.63"/>
<path d="M1178 317.8L1178 317.4L1181.5 317.2L1185.1 317L1188.6 316.7L1192.2 316.4L1195.8 316.1L1199.3 315.7L1202.9 315.3L1206.5 314.9L1210 314.4L1213.6 313.8L1217.1 313.2L1220.7 312.5L1224.3 311.8L1227.8 310.9L1231.4 310L1234.9 309.1L1238.5 308L1242.1 306.8L1245.6 305.5L1249.2 304.2L1252.8 302.7L1256.3 301.1L1259.9 299.3L1263.4 297.5L1267 295.5L1270.6 293.4L1274.1 291.1L1277.7 288.7L1281.2 286.2L1284.8 283.5L1288.4 280.7L1291.9 277.7L1295.5 274.6L1299 271.4L1302.6 268L1306.2 264.4L1309.7 260.8L1313.3 257L1316.9 253.1L1320.4 249.1L1324 245L1327.5 240.8L1331.1 236.5L1334.7 232.2L1338.2 227.8L1341.8 223.3L1345.3 218.9L1348.9 214.5L1352.5 210.1L1356 205.7L1359.6 201.3L1363.1 197.1L1366.7 192.9L1370.3 188.9L1373.8 185L1377.4 181.2L1381 177.7L1384.5 174.3L1388.1 171.1L1391.6 168.1L1395.2 165.4L1398.8 163L1402.3 160.8L1405.9 159L1409.4 157.4L1413 156.1L1416.6 155.1L1420.1 154.5L1423.7 154.1L1427.2 154.1L1430.8 154.4L1434.4 155L1437.9 155.9L1441.5 157.1L1445.1 158.5L1448.6 160.2L1452.2 162.2L1455.7 164.4L1459.3 166.9L1462.9 169.6L1466.4 172.5L1470 175.6L1473.5 178.9L1477.1 182.3L1480.7 185.9L1484.2 189.7L1487.8 193.5L1491.4 197.5L1494.9 201.6L1498.5 205.7L1502 209.9L1505.6 214.1L1509.2 218.3L1512.7 222.5L1516.3 226.7L1519.8 230.9L1523.4 235L1527 239.1L1530.5 243.1L1534.1 247.1L1537.6 251L1541.2 254.7L1544.8 258.4L1548.3 262L1551.9 265.4L1555.5 268.7L1559 271.9L1562.6 275L1566.1 278L1569.7 280.8L1573.3 283.5L1576.8 286L1580.4 288.5L1583.9 290.8L1587.5 292.9L1591.1 295L1594.6 296.9L1598.2 298.7L1601.7 300.4L1605.3 302L1608.9 303.4L1612.4 304.8L1616 306.1L1619.6 307.2L1623.1 308.3L1626.7 309.3L1630.2 310.2L1633.8 311.1L1637.4 311.8L1640.9 312.6L1644.5 313.2L1648 313.8L1651.6 314.3L1655.2 314.8L1658.7 315.2L1662.3 315.6L1665.9 316L1669.4 316.3L1673 316.6L1676.5 316.9L1680.1 317.1L1683.7 317.3L1683.7 317.8" fill="none" stroke="#fff" stroke-width="1.4"/>
<path d="M1038.5 316.8L1038.5 316.4L1042 316.2L1045.6 316.1L1049.2 315.9L1052.7 315.7L1056.3 315.5L1059.8 315.2L1063.4 315L1067 314.7L1070.5 314.4L1074.1 314L1077.7 313.7L1081.2 313.3L1084.8 312.8L1088.3 312.4L1091.9 311.9L1095.5 311.4L1099 310.8L1102.6 310.2L1106.1 309.6L1109.7 308.9L1113.3 308.2L1116.8 307.4L1120.4 306.6L1123.9 305.7L1127.5 304.8L1131.1 303.8L1134.6 302.7L1138.2 301.7L1141.8 300.5L1145.3 299.3L1148.9 298.1L1152.4 296.7L1156 295.4L1159.6 293.9L1163.1 292.5L1166.7 290.9L1170.2 289.3L1173.8 287.6L1177.4 285.9L1180.9 284.1L1184.5 282.3L1188 280.5L1191.6 278.5L1195.2 276.6L1198.7 274.5L1202.3 272.5L1205.9 270.4L1209.4 268.3L1213 266.2L1216.5 264L1220.1 261.8L1223.7 259.6L1227.2 257.4L1230.8 255.2L1234.3 253L1237.9 250.8L1241.5 248.6L1245 246.5L1248.6 244.3L1252.2 242.2L1255.7 240.2L1259.3 238.2L1262.8 236.2L1266.4 234.3L1270 232.5L1273.5 230.7L1277.1 229.1L1280.6 227.5L1284.2 226L1287.8 224.6L1291.3 223.3L1294.9 222.1L1298.4 221L1302 220.1L1305.6 219.2L1309.1 218.5L1312.7 217.9L1316.3 217.4L1319.8 217.1L1323.4 216.8L1326.9 216.8L1330.5 216.8L1334.1 217L1337.6 217.3L1341.2 217.7L1344.7 218.2L1348.3 218.9L1351.9 219.7L1355.4 220.6L1359 221.6L1362.5 222.7L1366.1 223.9L1369.7 225.3L1373.2 226.7L1376.8 228.2L1380.4 229.8L1383.9 231.5L1387.5 233.2L1391 235L1394.6 236.9L1398.2 238.9L1401.7 240.9L1405.3 242.9L1408.8 245L1412.4 247.1L1416 249.2L1419.5 251.3L1423.1 253.5L1426.7 255.6L1430.2 257.8L1433.8 260L1437.3 262.1L1440.9 264.3L1444.5 266.4L1448 268.5L1451.6 270.6L1455.1 272.6L1458.7 274.6L1462.3 276.6L1465.8 278.6L1469.4 280.4L1472.9 282.3L1476.5 284.1L1480.1 285.8L1483.6 287.5L1487.2 289.1L1490.8 290.7L1494.3 292.3L1497.9 293.7L1501.4 295.1L1505 296.5L1508.6 297.8L1512.1 299.1L1515.7 300.2L1519.2 301.4L1522.8 302.5L1526.4 303.5L1529.9 304.5L1533.5 305.4L1537 306.3L1540.6 307.1L1544.2 307.9L1547.7 308.6L1551.3 309.3L1554.9 309.9L1558.4 310.6L1562 311.1L1565.5 311.7L1569.1 312.2L1572.7 312.6L1576.2 313L1579.8 313.4L1583.3 313.8L1586.9 314.2L1590.5 314.5L1594 314.8L1597.6 315.1L1601.1 315.3L1604.7 315.5L1608.3 315.7L1611.8 315.9L1615.4 316.1L1619 316.3L1622.5 316.4L1622.5 316.8Z" fill="#a9115f" opacity="0.63"/>
<path d="M1039.1 317.8L1039.1 317.4L1042.6 317.2L1046.2 317.1L1049.8 316.9L1053.3 316.7L1056.9 316.5L1060.4 316.2L1064 316L1067.6 315.7L1071.1 315.4L1074.7 315L1078.3 314.7L1081.8 314.3L1085.4 313.8L1088.9 313.4L1092.5 312.9L1096.1 312.4L1099.6 311.8L1103.2 311.2L1106.7 310.6L1110.3 309.9L1113.9 309.2L1117.4 308.4L1121 307.6L1124.5 306.7L1128.1 305.8L1131.7 304.8L1135.2 303.7L1138.8 302.7L1142.4 301.5L1145.9 300.3L1149.5 299.1L1153 297.7L1156.6 296.4L1160.2 294.9L1163.7 293.5L1167.3 291.9L1170.8 290.3L1174.4 288.6L1178 286.9L1181.5 285.1L1185.1 283.3L1188.6 281.5L1192.2 279.5L1195.8 277.6L1199.3 275.5L1202.9 273.5L1206.5 271.4L1210 269.3L1213.6 267.2L1217.1 265L1220.7 262.8L1224.3 260.6L1227.8 258.4L1231.4 256.2L1234.9 254L1238.5 251.8L1242.1 249.6L1245.6 247.5L1249.2 245.3L1252.8 243.2L1256.3 241.2L1259.9 239.2L1263.4 237.2L1267 235.3L1270.6 233.5L1274.1 231.7L1277.7 230.1L1281.2 228.5L1284.8 227L1288.4 225.6L1291.9 224.3L1295.5 223.1L1299 222L1302.6 221.1L1306.2 220.2L1309.7 219.5L1313.3 218.9L1316.9 218.4L1320.4 218.1L1324 217.8L1327.5 217.8L1331.1 217.8L1334.7 218L1338.2 218.3L1341.8 218.7L1345.3 219.2L1348.9 219.9L1352.5 220.7L1356 221.6L1359.6 222.6L1363.1 223.7L1366.7 224.9L1370.3 226.3L1373.8 227.7L1377.4 229.2L1381 230.8L1384.5 232.5L1388.1 234.2L1391.6 236L1395.2 237.9L1398.8 239.9L1402.3 241.9L1405.9 243.9L1409.4 246L1413 248.1L1416.6 250.2L1420.1 252.3L1423.7 254.5L1427.2 256.6L1430.8 258.8L1434.4 261L1437.9 263.1L1441.5 265.3L1445.1 267.4L1448.6 269.5L1452.2 271.6L1455.7 273.6L1459.3 275.6L1462.9 277.6L1466.4 279.6L1470 281.4L1473.5 283.3L1477.1 285.1L1480.7 286.8L1484.2 288.5L1487.8 290.1L1491.4 291.7L1494.9 293.3L1498.5 294.7L1502 296.1L1505.6 297.5L1509.2 298.8L1512.7 300.1L1516.3 301.2L1519.8 302.4L1523.4 303.5L1527 304.5L1530.5 305.5L1534.1 306.4L1537.6 307.3L1541.2 308.1L1544.8 308.9L1548.3 309.6L1551.9 310.3L1555.5 310.9L1559 311.6L1562.6 312.1L1566.1 312.7L1569.7 313.2L1573.3 313.6L1576.8 314L1580.4 314.4L1583.9 314.8L1587.5 315.2L1591.1 315.5L1594.6 315.8L1598.2 316.1L1601.7 316.3L1605.3 316.5L1608.9 316.7L1612.4 316.9L1616 317.1L1619.6 317.3L1623.1 317.4L1623.1 317.8" fill="none" stroke="#fff" stroke-width="1.4"/>
</g>
<g stroke-width="1.5" fill="none">
<path d="M1383.9 323.6V371.8M1462.3 323.6V371.8M1505 323.6V371.8" stroke="#205040"/>
<path d="M1403.5 323.6V371.8M1416 323.6V371.8M1444.5 323.6V371.8M1464 323.6V371.8M1467.6 323.6V371.8M1497.9 323.6V371.8" stroke="#304858"/>
<path d="M1423.1 323.6V371.8M1476.5 323.6V371.8M1501.4 323.6V371.8" stroke="#404078"/>
<path d="M1360.8 323.6V371.8M1396.4 323.6V371.8M1399.9 323.6V371.8M1424.9 323.6V371.8M1437.3 323.6V371.8M1448 323.6V371.8M1455.1 323.6V371.8M1471.2 323.6V371.8M1474.7 323.6V371.8M1480.1 323.6V371.8M1481.8 323.6V371.8M1487.2 323.6V371.8M1492.5 323.6V371.8" stroke="#484828"/>
<path d="M1366.1 323.6V371.8M1367.9 323.6V371.8M1405.3 323.6V371.8M1408.8 323.6V371.8M1449.8 323.6V371.8M1456.9 323.6V371.8" stroke="#503850"/>
<path d="M1362.5 323.6V371.8M1421.3 323.6V371.8M1428.4 323.6V371.8M1435.6 323.6V371.8M1460.5 323.6V371.8M1465.8 323.6V371.8" stroke="#604030"/>
<path d="M1432 323.6V371.8M1453.4 323.6V371.8M1472.9 323.6V371.8M1508.6 323.6V371.8M1552.2 323.6V371.8M1554.9 323.6V371.8M1560.2 323.6V371.8M1578 323.6V371.8M1593.1 323.6V371.8M1628.7 323.6V371.8M1678.6 323.6V371.8M1686.6 323.6V371.8M1730.2 323.6V371.8" stroke="#609080"/>
<path d="M1359 323.6V371.8M1364.3 323.6V371.8M1380.4 323.6V371.8M1391 323.6V371.8M1412.4 323.6V371.8M1433.8 323.6V371.8" stroke="#703068"/>
<path d="M1343 323.6V371.8M1353.6 323.6V371.8M1357.2 323.6V371.8M1382.1 323.6V371.8M1389.3 323.6V371.8M1394.6 323.6V371.8M1407.1 323.6V371.8M1417.7 323.6V371.8M1439.1 323.6V371.8M1458.7 323.6V371.8M1469.4 323.6V371.8M1490.8 323.6V371.8M1536.2 323.6V371.8M1570 323.6V371.8M1605.6 323.6V371.8M1683.1 323.6V371.8" stroke="#8080b0"/>
<path d="M1375 323.6V371.8M1478.3 323.6V371.8" stroke="#903818"/>
<path d="M1369.7 323.6V371.8M1371.5 323.6V371.8M1378.6 323.6V371.8M1387.5 323.6V371.8M1392.8 323.6V371.8M1426.7 323.6V371.8" stroke="#a03028"/>
<path d="M1266.4 323.6V371.8M1278.9 323.6V371.8M1314.5 323.6V371.8M1350.1 323.6V371.8" stroke="#b02858"/>
<path d="M1078.5 323.6V371.8M1419.5 323.6V371.8M1485.4 323.6V371.8M1513.9 323.6V371.8M1522.8 323.6V371.8M1577.1 323.6V371.8M1667 323.6V371.8M1690.2 323.6V371.8" stroke="#c07848"/>
<path d="M1090.1 323.6V371.8M1196.1 323.6V371.8M1198.7 323.6V371.8M1203.2 323.6V371.8M1211.2 323.6V371.8M1215.6 323.6V371.8M1224.6 323.6V371.8M1227.2 323.6V371.8M1230.8 323.6V371.8M1239.7 323.6V371.8M1243.2 323.6V371.8M1247.7 323.6V371.8M1252.2 323.6V371.8M1261.1 323.6V371.8M1270 323.6V371.8M1271.7 323.6V371.8M1275.3 323.6V371.8M1286 323.6V371.8M1287.8 323.6V371.8M1291.3 323.6V371.8M1300.2 323.6V371.8M1302 323.6V371.8M1305.6 323.6V371.8M1316.3 323.6V371.8M1319.8 323.6V371.8M1325.2 323.6V371.8M1334.1 323.6V371.8M1344.7 323.6V371.8M1348.3 323.6V371.8M1351.9 323.6V371.8M1398.2 323.6V371.8M1414.2 323.6V371.8M1584.2 323.6V371.8M1599.4 323.6V371.8M1610.9 323.6V371.8" stroke="#d06098"/>
</g>
<g stroke="#000" fill="none">
<rect x="981.5" y="14.7" width="890.3" height="362.7" stroke-width="4.4"/>
<path d="M981.5 317.8H1871.8" stroke-width="4.4"/>
<path d="M1871.8 317.8h-6.2M1871.8 284.1h-6.2M1871.8 250.4h-6.2M1871.8 216.8h-6.2M1871.8 183.1h-6.2M1871.8 149.4h-6.2M1871.8 115.7h-6.2M1871.8 82h-6.2M1871.8 48.4h-6.2M1871.8 14.7h-6.2M981.5 377.4v-6.8M1070.5 377.4v-6.8M1159.6 377.4v-6.8M1248.6 377.4v-6.8M1337.6 377.4v-6.8M1426.7 377.4v-6.8M1515.7 377.4v-6.8M1604.7 377.4v-6.8M1693.7 377.4v-6.8M1782.8 377.4v-6.8M1871.8 377.4v-6.8" stroke-width="4.2"/>
<path d="M1871.8 301h-3.3M1871.8 267.3h-3.3M1871.8 233.6h-3.3M1871.8 199.9h-3.3M1871.8 166.2h-3.3M1871.8 132.6h-3.3M1871.8 98.9h-3.3M1871.8 65.2h-3.3M1871.8 31.5h-3.3M1026 377.4v-3.3M1115 377.4v-3.3M1204.1 377.4v-3.3M1293.1 377.4v-3.3M1382.1 377.4v-3.3M1471.2 377.4v-3.3M1560.2 377.4v-3.3M1649.2 377.4v-3.3M1738.3 377.4v-3.3M1827.3 377.4v-3.3" stroke-width="3.4"/>
</g>
<g>
<text x="1878.4" y="328.2">0.0</text>
<text x="1878.4" y="294.5">0.1</text>
<text x="1878.4" y="260.8">0.2</text>
<text x="1878.4" y="227.2">0.3</text>
<text x="1878.4" y="193.5">0.4</text>
<text x="1878.4" y="159.8">0.5</text>
<text x="1878.4" y="126.1">0.6</text>
<text x="1878.4" y="92.4">0.7</text>
<text x="1878.4" y="58.8">0.8</text>
<text x="1878.4" y="25.1">0.9</text>
<text x="1070.5" y="411.4" text-anchor="middle">150</text>
<text x="1159.6" y="411.4" text-anchor="middle">200</text>
<text x="1248.6" y="411.4" text-anchor="middle">250</text>
<text x="1337.6" y="411.4" text-anchor="middle">300</text>
<text x="1426.7" y="411.4" text-anchor="middle">350</text>
<text x="1515.7" y="411.4" text-anchor="middle">400</text>
<text x="1604.7" y="411.4" text-anchor="middle">450</text>
<text x="1693.7" y="411.4" text-anchor="middle">500</text>
<text x="1782.8" y="411.4" text-anchor="middle">550</text>
<text x="1871.8" y="411.4" text-anchor="middle">600</text>
<text x="1914.9" y="408.4" style="font-size:35.4px">MPa</text>
<text transform="translate(1968.2 167.2) rotate(-90)" text-anchor="middle">Density</text>
<text x="1443.1" y="458" text-anchor="middle">W/B0.2 90d</text>
</g>
<g>
<rect x="1012.1" y="25.2" width="78" height="36.9" fill="#0f704f" opacity="0.63"/>
<text x="1102.2" y="56.7">0%</text>
<rect x="1160.3" y="25.2" width="78" height="36.9" fill="#933d00" opacity="0.63"/>
<text x="1249.6" y="56.7">10%</text>
<rect x="1326.1" y="25.2" width="78" height="36.9" fill="#483d85" opacity="0.63"/>
<text x="1417" y="56.7">20%</text>
<rect x="1492.6" y="25.2" width="78" height="36.9" fill="#a9115f" opacity="0.63"/>
<text x="1583.3" y="56.7">30%</text>
</g>
</g>
<g id="panel3">
<clipPath id="cp2"><rect x="91.7" y="483.7" width="889.8" height="304.8"/></clipPath>
<g clip-path="url(#cp2)" stroke-linejoin="round">
<path d="M109.5 784.3L109.5 784.3L113.1 784.3L116.6 784.3L120.2 784.3L123.7 784.3L127.3 784.3L130.9 784.3L134.4 784.3L138 784.3L141.5 784.3L145.1 784.3L148.6 784.1L152.2 783.8L155.8 783.5L159.3 783.2L162.9 782.8L166.4 782.5L170 782.1L173.6 781.6L177.1 781.2L180.7 780.7L184.2 780.2L187.8 779.7L191.4 779.1L194.9 778.5L198.5 777.9L202 777.2L205.6 776.5L209.2 775.7L212.7 774.9L216.3 774.1L219.8 773.2L223.4 772.3L226.9 771.3L230.5 770.3L234.1 769.3L237.6 768.2L241.2 767L244.7 765.8L248.3 764.5L251.9 763.2L255.4 761.8L259 760.4L262.5 758.9L266.1 757.3L269.7 755.8L273.2 754.1L276.8 752.4L280.3 750.6L283.9 748.8L287.5 746.9L291 745L294.6 743L298.1 740.9L301.7 738.8L305.3 736.7L308.8 734.5L312.4 732.2L315.9 729.9L319.5 727.6L323 725.2L326.6 722.8L330.2 720.3L333.7 717.8L337.3 715.3L340.8 712.7L344.4 710.1L348 707.5L351.5 704.9L355.1 702.2L358.6 699.6L362.2 696.9L365.8 694.2L369.3 691.6L372.9 688.9L376.4 686.3L380 683.7L383.6 681L387.1 678.5L390.7 675.9L394.2 673.4L397.8 670.9L401.4 668.5L404.9 666.1L408.5 663.8L412 661.6L415.6 659.4L419.1 657.3L422.7 655.2L426.3 653.3L429.8 651.4L433.4 649.6L436.9 647.9L440.5 646.3L444.1 644.8L447.6 643.5L451.2 642.2L454.7 641L458.3 640L461.9 639L465.4 638.2L469 637.5L472.5 637L476.1 636.5L479.7 636.2L483.2 636L486.8 635.9L490.3 636L493.9 636.3L497.4 636.8L501 637.5L504.6 638.4L508.1 639.4L511.7 640.6L515.2 641.9L518.8 643.4L522.4 645L525.9 646.7L529.5 648.5L533 650.5L536.6 652.5L540.2 654.6L543.7 656.8L547.3 659.1L550.8 661.4L554.4 663.7L558 666.1L561.5 668.6L565.1 671.1L568.6 673.6L572.2 676.1L575.8 678.6L579.3 681.1L582.9 683.7L586.4 686.2L590 688.7L593.5 691.2L597.1 693.7L600.7 696.2L604.2 698.6L607.8 701L611.3 703.4L614.9 705.7L618.5 708.1L622 710.3L625.6 712.6L629.1 714.8L632.7 717L636.3 719.1L639.8 721.2L643.4 723.2L646.9 725.2L650.5 727.1L654.1 729L657.6 730.9L661.2 732.7L664.7 734.5L668.3 736.2L671.8 737.9L675.4 739.5L679 741.1L682.5 742.6L686.1 744.1L689.6 745.6L693.2 747L696.8 748.4L700.3 749.7L703.9 751L707.4 752.3L711 753.5L714.6 754.6L718.1 755.8L721.7 756.9L725.2 758L728.8 759L732.4 760L735.9 761L739.5 761.9L743 762.8L746.6 763.7L750.2 764.5L753.7 765.3L757.3 766.1L760.8 766.9L764.4 767.6L767.9 768.3L771.5 769L775.1 769.7L778.6 770.3L782.2 770.9L785.7 771.5L789.3 772.1L792.9 772.6L796.4 773.2L800 773.7L803.5 774.2L807.1 774.7L810.7 775.1L814.2 775.6L817.8 776L821.3 776.4L824.9 776.8L828.5 777.2L832 777.6L835.6 777.9L839.1 778.3L842.7 778.6L846.3 778.9L849.8 779.2L853.4 779.5L856.9 779.8L860.5 780.1L864 780.3L867.6 780.6L871.2 780.8L874.7 781.1L878.3 781.3L881.8 781.5L885.4 781.7L889 781.9L892.5 782.1L896.1 782.3L899.6 782.5L903.2 782.7L906.8 782.9L910.3 783L913.9 783.2L917.4 783.3L921 783.5L924.6 783.6L928.1 783.7L931.7 783.9L935.2 784L938.8 784.1L942.3 784.2L945.9 784.3L949.5 784.3L953 784.3L956.6 784.3L960.1 784.3L963.7 784.3L967.3 784.3L970.8 784.3L974.4 784.3L977.9 784.3L981.5 784.3L985.1 784.3L988.6 784.3L992.2 784.3L995.7 784.3L999.3 784.3L999.3 784.3Z" fill="#0f704f" opacity="0.63"/>
<path d="M111 787.5L111 787.5L114.6 787.5L118.1 787.5L121.7 787.5L125.2 787.5L128.8 787.5L132.4 787.5L135.9 787.5L139.5 787.5L143 787.5L146.6 787.5L150.1 787.3L153.7 787L157.3 786.7L160.8 786.4L164.4 786L167.9 785.7L171.5 785.3L175.1 784.8L178.6 784.4L182.2 783.9L185.7 783.4L189.3 782.9L192.9 782.3L196.4 781.7L200 781.1L203.5 780.4L207.1 779.7L210.7 778.9L214.2 778.1L217.8 777.3L221.3 776.4L224.9 775.5L228.4 774.5L232 773.5L235.6 772.5L239.1 771.4L242.7 770.2L246.2 769L249.8 767.7L253.4 766.4L256.9 765L260.5 763.6L264 762.1L267.6 760.5L271.2 759L274.7 757.3L278.3 755.6L281.8 753.8L285.4 752L289 750.1L292.5 748.2L296.1 746.2L299.6 744.1L303.2 742L306.8 739.9L310.3 737.7L313.9 735.4L317.4 733.1L321 730.8L324.5 728.4L328.1 726L331.7 723.5L335.2 721L338.8 718.5L342.3 715.9L345.9 713.3L349.5 710.7L353 708.1L356.6 705.4L360.1 702.8L363.7 700.1L367.3 697.4L370.8 694.8L374.4 692.1L377.9 689.5L381.5 686.9L385.1 684.2L388.6 681.7L392.2 679.1L395.7 676.6L399.3 674.1L402.9 671.7L406.4 669.3L410 667L413.5 664.8L417.1 662.6L420.6 660.5L424.2 658.4L427.8 656.5L431.3 654.6L434.9 652.8L438.4 651.1L442 649.5L445.6 648L449.1 646.7L452.7 645.4L456.2 644.2L459.8 643.2L463.4 642.2L466.9 641.4L470.5 640.7L474 640.2L477.6 639.7L481.2 639.4L484.7 639.2L488.3 639.1L491.8 639.2L495.4 639.5L498.9 640L502.5 640.7L506.1 641.6L509.6 642.6L513.2 643.8L516.7 645.1L520.3 646.6L523.9 648.2L527.4 649.9L531 651.7L534.5 653.7L538.1 655.7L541.7 657.8L545.2 660L548.8 662.3L552.3 664.6L555.9 666.9L559.5 669.3L563 671.8L566.6 674.3L570.1 676.8L573.7 679.3L577.3 681.8L580.8 684.3L584.4 686.9L587.9 689.4L591.5 691.9L595 694.4L598.6 696.9L602.2 699.4L605.7 701.8L609.3 704.2L612.8 706.6L616.4 708.9L620 711.3L623.5 713.5L627.1 715.8L630.6 718L634.2 720.2L637.8 722.3L641.3 724.4L644.9 726.4L648.4 728.4L652 730.3L655.6 732.2L659.1 734.1L662.7 735.9L666.2 737.7L669.8 739.4L673.3 741.1L676.9 742.7L680.5 744.3L684 745.8L687.6 747.3L691.1 748.8L694.7 750.2L698.3 751.6L701.8 752.9L705.4 754.2L708.9 755.5L712.5 756.7L716.1 757.8L719.6 759L723.2 760.1L726.7 761.2L730.3 762.2L733.9 763.2L737.4 764.2L741 765.1L744.5 766L748.1 766.9L751.7 767.7L755.2 768.5L758.8 769.3L762.3 770.1L765.9 770.8L769.4 771.5L773 772.2L776.6 772.9L780.1 773.5L783.7 774.1L787.2 774.7L790.8 775.3L794.4 775.8L797.9 776.4L801.5 776.9L805 777.4L808.6 777.9L812.2 778.3L815.7 778.8L819.3 779.2L822.8 779.6L826.4 780L830 780.4L833.5 780.8L837.1 781.1L840.6 781.5L844.2 781.8L847.8 782.1L851.3 782.4L854.9 782.7L858.4 783L862 783.3L865.5 783.5L869.1 783.8L872.7 784L876.2 784.3L879.8 784.5L883.3 784.7L886.9 784.9L890.5 785.1L894 785.3L897.6 785.5L901.1 785.7L904.7 785.9L908.3 786.1L911.8 786.2L915.4 786.4L918.9 786.5L922.5 786.7L926.1 786.8L929.6 786.9L933.2 787.1L936.7 787.2L940.3 787.3L943.8 787.4L947.4 787.5L951 787.5L954.5 787.5L958.1 787.5L961.6 787.5L965.2 787.5L968.8 787.5L972.3 787.5L975.9 787.5L979.4 787.5L983 787.5L986.6 787.5L990.1 787.5L993.7 787.5L997.2 787.5L1000.8 787.5L1000.8 787.5" fill="none" stroke="#fff" stroke-width="1.4"/>
<path d="M127.3 784.3L127.3 784.3L130.9 784.3L134.4 784.3L138 784.3L141.5 784.3L145.1 784.3L148.6 784.3L152.2 784.3L155.8 784.3L159.3 784.3L162.9 784.2L166.4 783.9L170 783.6L173.6 783.2L177.1 782.9L180.7 782.5L184.2 782.1L187.8 781.7L191.4 781.2L194.9 780.7L198.5 780.2L202 779.6L205.6 779L209.2 778.3L212.7 777.7L216.3 777L219.8 776.2L223.4 775.4L226.9 774.6L230.5 773.7L234.1 772.7L237.6 771.7L241.2 770.7L244.7 769.6L248.3 768.5L251.9 767.3L255.4 766.1L259 764.8L262.5 763.4L266.1 762L269.7 760.6L273.2 759.1L276.8 757.5L280.3 755.9L283.9 754.2L287.5 752.4L291 750.7L294.6 748.8L298.1 746.9L301.7 745L305.3 743L308.8 740.9L312.4 738.8L315.9 736.7L319.5 734.5L323 732.3L326.6 730L330.2 727.8L333.7 725.4L337.3 723.1L340.8 720.7L344.4 718.3L348 715.9L351.5 713.5L355.1 711.1L358.6 708.7L362.2 706.2L365.8 703.8L369.3 701.4L372.9 699L376.4 696.7L380 694.3L383.6 692L387.1 689.8L390.7 687.5L394.2 685.4L397.8 683.3L401.4 681.2L404.9 679.2L408.5 677.3L412 675.4L415.6 673.7L419.1 672L422.7 670.4L426.3 668.9L429.8 667.5L433.4 666.2L436.9 665L440.5 664L444.1 663L447.6 662.1L451.2 661.4L454.7 660.8L458.3 660.3L461.9 659.9L465.4 659.7L469 659.5L472.5 659.5L476.1 659.7L479.7 659.9L483.2 660.3L486.8 660.9L490.3 661.5L493.9 662.3L497.4 663.2L501 664.2L504.6 665.4L508.1 666.6L511.7 667.9L515.2 669.4L518.8 670.9L522.4 672.5L525.9 674.2L529.5 675.9L533 677.8L536.6 679.7L540.2 681.6L543.7 683.6L547.3 685.7L550.8 687.8L554.4 689.9L558 692.1L561.5 694.3L565.1 696.5L568.6 698.7L572.2 701L575.8 703.2L579.3 705.5L582.9 707.7L586.4 710L590 712.2L593.5 714.5L597.1 716.7L600.7 718.9L604.2 721.1L607.8 723.2L611.3 725.3L614.9 727.4L618.5 729.5L622 731.5L625.6 733.5L629.1 735.5L632.7 737.4L636.3 739.3L639.8 741.1L643.4 742.9L646.9 744.6L650.5 746.3L654.1 748L657.6 749.6L661.2 751.2L664.7 752.7L668.3 754.2L671.8 755.6L675.4 757L679 758.3L682.5 759.6L686.1 760.9L689.6 762.1L693.2 763.3L696.8 764.4L700.3 765.5L703.9 766.5L707.4 767.6L711 768.5L714.6 769.4L718.1 770.3L721.7 771.2L725.2 772L728.8 772.8L732.4 773.5L735.9 774.3L739.5 775L743 775.6L746.6 776.2L750.2 776.8L753.7 777.4L757.3 778L760.8 778.5L764.4 779L767.9 779.4L771.5 779.9L775.1 780.3L778.6 780.7L782.2 781.1L785.7 781.5L789.3 781.8L792.9 782.1L796.4 782.4L800 782.7L803.5 783L807.1 783.3L810.7 783.5L814.2 783.8L817.8 784L821.3 784.2L824.9 784.3L828.5 784.3L832 784.3L835.6 784.3L839.1 784.3L842.7 784.3L846.3 784.3L849.8 784.3L853.4 784.3L856.9 784.3L860.5 784.3L864 784.3L867.6 784.3L867.6 784.3Z" fill="#933d00" opacity="0.63"/>
<path d="M128.8 787.5L128.8 787.5L132.4 787.5L135.9 787.5L139.5 787.5L143 787.5L146.6 787.5L150.1 787.5L153.7 787.5L157.3 787.5L160.8 787.5L164.4 787.4L167.9 787.1L171.5 786.8L175.1 786.4L178.6 786.1L182.2 785.7L185.7 785.3L189.3 784.9L192.9 784.4L196.4 783.9L200 783.4L203.5 782.8L207.1 782.2L210.7 781.5L214.2 780.9L217.8 780.2L221.3 779.4L224.9 778.6L228.4 777.8L232 776.9L235.6 775.9L239.1 774.9L242.7 773.9L246.2 772.8L249.8 771.7L253.4 770.5L256.9 769.3L260.5 768L264 766.6L267.6 765.2L271.2 763.8L274.7 762.3L278.3 760.7L281.8 759.1L285.4 757.4L289 755.6L292.5 753.9L296.1 752L299.6 750.1L303.2 748.2L306.8 746.2L310.3 744.1L313.9 742L317.4 739.9L321 737.7L324.5 735.5L328.1 733.2L331.7 731L335.2 728.6L338.8 726.3L342.3 723.9L345.9 721.5L349.5 719.1L353 716.7L356.6 714.3L360.1 711.9L363.7 709.4L367.3 707L370.8 704.6L374.4 702.2L377.9 699.9L381.5 697.5L385.1 695.2L388.6 693L392.2 690.7L395.7 688.6L399.3 686.5L402.9 684.4L406.4 682.4L410 680.5L413.5 678.6L417.1 676.9L420.6 675.2L424.2 673.6L427.8 672.1L431.3 670.7L434.9 669.4L438.4 668.2L442 667.2L445.6 666.2L449.1 665.3L452.7 664.6L456.2 664L459.8 663.5L463.4 663.1L466.9 662.9L470.5 662.7L474 662.7L477.6 662.9L481.2 663.1L484.7 663.5L488.3 664.1L491.8 664.7L495.4 665.5L498.9 666.4L502.5 667.4L506.1 668.6L509.6 669.8L513.2 671.1L516.7 672.6L520.3 674.1L523.9 675.7L527.4 677.4L531 679.1L534.5 681L538.1 682.9L541.7 684.8L545.2 686.8L548.8 688.9L552.3 691L555.9 693.1L559.5 695.3L563 697.5L566.6 699.7L570.1 701.9L573.7 704.2L577.3 706.4L580.8 708.7L584.4 710.9L587.9 713.2L591.5 715.4L595 717.7L598.6 719.9L602.2 722.1L605.7 724.3L609.3 726.4L612.8 728.5L616.4 730.6L620 732.7L623.5 734.7L627.1 736.7L630.6 738.7L634.2 740.6L637.8 742.5L641.3 744.3L644.9 746.1L648.4 747.8L652 749.5L655.6 751.2L659.1 752.8L662.7 754.4L666.2 755.9L669.8 757.4L673.3 758.8L676.9 760.2L680.5 761.5L684 762.8L687.6 764.1L691.1 765.3L694.7 766.5L698.3 767.6L701.8 768.7L705.4 769.7L708.9 770.8L712.5 771.7L716.1 772.6L719.6 773.5L723.2 774.4L726.7 775.2L730.3 776L733.9 776.7L737.4 777.5L741 778.2L744.5 778.8L748.1 779.4L751.7 780L755.2 780.6L758.8 781.2L762.3 781.7L765.9 782.2L769.4 782.6L773 783.1L776.6 783.5L780.1 783.9L783.7 784.3L787.2 784.7L790.8 785L794.4 785.3L797.9 785.6L801.5 785.9L805 786.2L808.6 786.5L812.2 786.7L815.7 787L819.3 787.2L822.8 787.4L826.4 787.5L830 787.5L833.5 787.5L837.1 787.5L840.6 787.5L844.2 787.5L847.8 787.5L851.3 787.5L854.9 787.5L858.4 787.5L862 787.5L865.5 787.5L869.1 787.5L869.1 787.5" fill="none" stroke="#fff" stroke-width="1.4"/>
<path d="M73.9 784.3L73.9 738.1L77.5 736.6L81 735L84.6 733.5L88.1 731.8L91.7 730.2L95.3 728.5L98.8 726.8L102.4 725.1L105.9 723.4L109.5 721.6L113.1 719.8L116.6 718L120.2 716.1L123.7 714.2L127.3 712.4L130.9 710.4L134.4 708.5L138 706.6L141.5 704.6L145.1 702.6L148.6 700.6L152.2 698.6L155.8 696.6L159.3 694.6L162.9 692.5L166.4 690.4L170 688.4L173.6 686.3L177.1 684.2L180.7 682.1L184.2 680.1L187.8 678L191.4 675.9L194.9 673.8L198.5 671.7L202 669.7L205.6 667.6L209.2 665.5L212.7 663.5L216.3 661.4L219.8 659.4L223.4 657.4L226.9 655.4L230.5 653.4L234.1 651.5L237.6 649.5L241.2 647.6L244.7 645.8L248.3 643.9L251.9 642.1L255.4 640.3L259 638.5L262.5 636.8L266.1 635.1L269.7 633.4L273.2 631.8L276.8 630.2L280.3 628.7L283.9 627.2L287.5 625.8L291 624.4L294.6 623L298.1 621.7L301.7 620.5L305.3 619.3L308.8 618.1L312.4 617L315.9 616L319.5 615L323 614.1L326.6 613.3L330.2 612.5L333.7 611.7L337.3 611L340.8 610.4L344.4 609.9L348 609.4L351.5 609L355.1 608.6L358.6 608.3L362.2 608.1L365.8 607.9L369.3 607.8L372.9 607.8L376.4 607.8L380 607.9L383.6 608.1L387.1 608.4L390.7 608.7L394.2 609.1L397.8 609.6L401.4 610.1L404.9 610.7L408.5 611.4L412 612.1L415.6 612.9L419.1 613.8L422.7 614.7L426.3 615.7L429.8 616.7L433.4 617.8L436.9 619L440.5 620.2L444.1 621.5L447.6 622.8L451.2 624.1L454.7 625.5L458.3 627L461.9 628.5L465.4 630L469 631.6L472.5 633.2L476.1 634.9L479.7 636.5L483.2 638.3L486.8 640L490.3 641.8L493.9 643.6L497.4 645.4L501 647.2L504.6 649.1L508.1 651L511.7 652.9L515.2 654.8L518.8 656.7L522.4 658.7L525.9 660.6L529.5 662.6L533 664.6L536.6 666.6L540.2 668.5L543.7 670.5L547.3 672.5L550.8 674.5L554.4 676.5L558 678.5L561.5 680.5L565.1 682.4L568.6 684.4L572.2 686.4L575.8 688.3L579.3 690.2L582.9 692.2L586.4 694.1L590 696L593.5 697.9L597.1 699.7L600.7 701.6L604.2 703.4L607.8 705.3L611.3 707.1L614.9 708.9L618.5 710.6L622 712.4L625.6 714.1L629.1 715.8L632.7 717.5L636.3 719.1L639.8 720.8L643.4 722.4L646.9 724L650.5 725.6L654.1 727.1L657.6 728.6L661.2 730.1L664.7 731.6L668.3 733L671.8 734.5L675.4 735.9L679 737.2L682.5 738.6L686.1 739.9L689.6 741.2L693.2 742.5L696.8 743.7L700.3 744.9L703.9 746.1L707.4 747.3L711 748.4L714.6 749.6L718.1 750.7L721.7 751.7L725.2 752.8L728.8 753.8L732.4 754.8L735.9 755.8L739.5 756.7L743 757.7L746.6 758.6L750.2 759.5L753.7 760.3L757.3 761.2L760.8 762L764.4 762.8L767.9 763.6L771.5 764.4L775.1 765.1L778.6 765.8L782.2 766.5L785.7 767.2L789.3 767.9L792.9 768.5L796.4 769.2L800 769.8L803.5 770.4L807.1 771L810.7 771.5L814.2 772.1L817.8 772.6L821.3 773.1L824.9 773.6L828.5 774.1L832 774.5L835.6 775L839.1 775.4L842.7 775.9L846.3 776.3L849.8 776.7L853.4 777.1L856.9 777.4L860.5 777.8L864 778.2L867.6 778.5L871.2 778.8L874.7 779.2L878.3 779.5L881.8 779.8L885.4 780.1L889 780.3L892.5 780.6L896.1 780.9L899.6 781.1L903.2 781.4L906.8 781.6L910.3 781.8L913.9 782L917.4 782.2L921 782.4L924.6 782.6L928.1 782.8L931.7 783L935.2 783.2L938.8 783.4L942.3 783.5L945.9 783.7L949.5 783.8L953 784L956.6 784.1L960.1 784.3L963.7 784.3L967.3 784.3L970.8 784.3L974.4 784.3L977.9 784.3L981.5 784.3L985.1 784.3L988.6 784.3L992.2 784.3L995.7 784.3L999.3 784.3L999.3 784.3Z" fill="#483d85" opacity="0.63"/>
<path d="M75.4 787.5L75.4 741.3L79 739.8L82.5 738.2L86.1 736.7L89.6 735L93.2 733.4L96.8 731.7L100.3 730L103.9 728.3L107.4 726.6L111 724.8L114.6 723L118.1 721.2L121.7 719.3L125.2 717.4L128.8 715.6L132.4 713.6L135.9 711.7L139.5 709.8L143 707.8L146.6 705.8L150.1 703.8L153.7 701.8L157.3 699.8L160.8 697.8L164.4 695.7L167.9 693.6L171.5 691.6L175.1 689.5L178.6 687.4L182.2 685.3L185.7 683.3L189.3 681.2L192.9 679.1L196.4 677L200 674.9L203.5 672.9L207.1 670.8L210.7 668.7L214.2 666.7L217.8 664.6L221.3 662.6L224.9 660.6L228.4 658.6L232 656.6L235.6 654.7L239.1 652.7L242.7 650.8L246.2 649L249.8 647.1L253.4 645.3L256.9 643.5L260.5 641.7L264 640L267.6 638.3L271.2 636.6L274.7 635L278.3 633.4L281.8 631.9L285.4 630.4L289 629L292.5 627.6L296.1 626.2L299.6 624.9L303.2 623.7L306.8 622.5L310.3 621.3L313.9 620.2L317.4 619.2L321 618.2L324.5 617.3L328.1 616.5L331.7 615.7L335.2 614.9L338.8 614.2L342.3 613.6L345.9 613.1L349.5 612.6L353 612.2L356.6 611.8L360.1 611.5L363.7 611.3L367.3 611.1L370.8 611L374.4 611L377.9 611L381.5 611.1L385.1 611.3L388.6 611.6L392.2 611.9L395.7 612.3L399.3 612.8L402.9 613.3L406.4 613.9L410 614.6L413.5 615.3L417.1 616.1L420.6 617L424.2 617.9L427.8 618.9L431.3 619.9L434.9 621L438.4 622.2L442 623.4L445.6 624.7L449.1 626L452.7 627.3L456.2 628.7L459.8 630.2L463.4 631.7L466.9 633.2L470.5 634.8L474 636.4L477.6 638.1L481.2 639.7L484.7 641.5L488.3 643.2L491.8 645L495.4 646.8L498.9 648.6L502.5 650.4L506.1 652.3L509.6 654.2L513.2 656.1L516.7 658L520.3 659.9L523.9 661.9L527.4 663.8L531 665.8L534.5 667.8L538.1 669.8L541.7 671.7L545.2 673.7L548.8 675.7L552.3 677.7L555.9 679.7L559.5 681.7L563 683.7L566.6 685.6L570.1 687.6L573.7 689.6L577.3 691.5L580.8 693.4L584.4 695.4L587.9 697.3L591.5 699.2L595 701.1L598.6 702.9L602.2 704.8L605.7 706.6L609.3 708.5L612.8 710.3L616.4 712.1L620 713.8L623.5 715.6L627.1 717.3L630.6 719L634.2 720.7L637.8 722.3L641.3 724L644.9 725.6L648.4 727.2L652 728.8L655.6 730.3L659.1 731.8L662.7 733.3L666.2 734.8L669.8 736.2L673.3 737.7L676.9 739.1L680.5 740.4L684 741.8L687.6 743.1L691.1 744.4L694.7 745.7L698.3 746.9L701.8 748.1L705.4 749.3L708.9 750.5L712.5 751.6L716.1 752.8L719.6 753.9L723.2 754.9L726.7 756L730.3 757L733.9 758L737.4 759L741 759.9L744.5 760.9L748.1 761.8L751.7 762.7L755.2 763.5L758.8 764.4L762.3 765.2L765.9 766L769.4 766.8L773 767.6L776.6 768.3L780.1 769L783.7 769.7L787.2 770.4L790.8 771.1L794.4 771.7L797.9 772.4L801.5 773L805 773.6L808.6 774.2L812.2 774.7L815.7 775.3L819.3 775.8L822.8 776.3L826.4 776.8L830 777.3L833.5 777.7L837.1 778.2L840.6 778.6L844.2 779.1L847.8 779.5L851.3 779.9L854.9 780.3L858.4 780.6L862 781L865.5 781.4L869.1 781.7L872.7 782L876.2 782.4L879.8 782.7L883.3 783L886.9 783.3L890.5 783.5L894 783.8L897.6 784.1L901.1 784.3L904.7 784.6L908.3 784.8L911.8 785L915.4 785.2L918.9 785.4L922.5 785.6L926.1 785.8L929.6 786L933.2 786.2L936.7 786.4L940.3 786.6L943.8 786.7L947.4 786.9L951 787L954.5 787.2L958.1 787.3L961.6 787.5L965.2 787.5L968.8 787.5L972.3 787.5L975.9 787.5L979.4 787.5L983 787.5L986.6 787.5L990.1 787.5L993.7 787.5L997.2 787.5L1000.8 787.5L1000.8 787.5" fill="none" stroke="#fff" stroke-width="1.4"/>
<path d="M73.9 784.3L73.9 739.7L77.5 737.5L81 735.2L84.6 732.9L88.1 730.5L91.7 728.1L95.3 725.6L98.8 723L102.4 720.4L105.9 717.7L109.5 715L113.1 712.2L116.6 709.4L120.2 706.6L123.7 703.6L127.3 700.7L130.9 697.7L134.4 694.7L138 691.7L141.5 688.6L145.1 685.5L148.6 682.4L152.2 679.3L155.8 676.1L159.3 673L162.9 669.9L166.4 666.7L170 663.6L173.6 660.5L177.1 657.4L180.7 654.4L184.2 651.3L187.8 648.3L191.4 645.4L194.9 642.5L198.5 639.6L202 636.8L205.6 634.1L209.2 631.4L212.7 628.8L216.3 626.3L219.8 623.8L223.4 621.5L226.9 619.2L230.5 617.1L234.1 615L237.6 613L241.2 611.2L244.7 609.5L248.3 607.9L251.9 606.4L255.4 605L259 603.8L262.5 602.7L266.1 601.7L269.7 600.9L273.2 600.2L276.8 599.6L280.3 599.2L283.9 598.9L287.5 598.7L291 598.7L294.6 598.9L298.1 599.1L301.7 599.5L305.3 600.1L308.8 600.7L312.4 601.5L315.9 602.5L319.5 603.5L323 604.7L326.6 606L330.2 607.4L333.7 608.9L337.3 610.6L340.8 612.3L344.4 614.2L348 616.1L351.5 618.2L355.1 620.4L358.6 622.6L362.2 624.9L365.8 627.3L369.3 629.8L372.9 632.4L376.4 635L380 637.7L383.6 640.4L387.1 643.2L390.7 646.1L394.2 649L397.8 651.9L401.4 654.8L404.9 657.8L408.5 660.8L412 663.9L415.6 666.9L419.1 669.9L422.7 673L426.3 676.1L429.8 679.1L433.4 682.1L436.9 685.2L440.5 688.2L444.1 691.2L447.6 694.1L451.2 697.1L454.7 700L458.3 702.9L461.9 705.7L465.4 708.5L469 711.3L472.5 714L476.1 716.7L479.7 719.3L483.2 721.8L486.8 724.4L490.3 726.8L493.9 729.2L497.4 731.6L501 733.9L504.6 736.1L508.1 738.3L511.7 740.4L515.2 742.5L518.8 744.5L522.4 746.4L525.9 748.3L529.5 750.1L533 751.9L536.6 753.6L540.2 755.3L543.7 756.8L547.3 758.4L550.8 759.8L554.4 761.3L558 762.6L561.5 763.9L565.1 765.2L568.6 766.4L572.2 767.5L575.8 768.7L579.3 769.7L582.9 770.7L586.4 771.7L590 772.6L593.5 773.5L597.1 774.3L600.7 775.1L604.2 775.8L607.8 776.6L611.3 777.2L614.9 777.9L618.5 778.5L622 779.1L625.6 779.6L629.1 780.1L632.7 780.6L636.3 781.1L639.8 781.5L643.4 781.9L646.9 782.3L650.5 782.7L654.1 783L657.6 783.3L661.2 783.6L664.7 783.9L668.3 784.2L671.8 784.3L675.4 784.3L679 784.3L682.5 784.3L686.1 784.3L689.6 784.3L693.2 784.3L696.8 784.3L700.3 784.3L703.9 784.3L707.4 784.3L707.4 784.3Z" fill="#a9115f" opacity="0.63"/>
<path d="M75.4 787.5L75.4 742.9L79 740.7L82.5 738.4L86.1 736.1L89.6 733.7L93.2 731.3L96.8 728.8L100.3 726.2L103.9 723.6L107.4 720.9L111 718.2L114.6 715.4L118.1 712.6L121.7 709.8L125.2 706.8L128.8 703.9L132.4 700.9L135.9 697.9L139.5 694.9L143 691.8L146.6 688.7L150.1 685.6L153.7 682.5L157.3 679.3L160.8 676.2L164.4 673.1L167.9 669.9L171.5 666.8L175.1 663.7L178.6 660.6L182.2 657.6L185.7 654.5L189.3 651.5L192.9 648.6L196.4 645.7L200 642.8L203.5 640L207.1 637.3L210.7 634.6L214.2 632L217.8 629.5L221.3 627L224.9 624.7L228.4 622.4L232 620.3L235.6 618.2L239.1 616.2L242.7 614.4L246.2 612.7L249.8 611.1L253.4 609.6L256.9 608.2L260.5 607L264 605.9L267.6 604.9L271.2 604.1L274.7 603.4L278.3 602.8L281.8 602.4L285.4 602.1L289 601.9L292.5 601.9L296.1 602.1L299.6 602.3L303.2 602.7L306.8 603.3L310.3 603.9L313.9 604.7L317.4 605.7L321 606.7L324.5 607.9L328.1 609.2L331.7 610.6L335.2 612.1L338.8 613.8L342.3 615.5L345.9 617.4L349.5 619.3L353 621.4L356.6 623.6L360.1 625.8L363.7 628.1L367.3 630.5L370.8 633L374.4 635.6L377.9 638.2L381.5 640.9L385.1 643.6L388.6 646.4L392.2 649.3L395.7 652.2L399.3 655.1L402.9 658L406.4 661L410 664L413.5 667.1L417.1 670.1L420.6 673.1L424.2 676.2L427.8 679.3L431.3 682.3L434.9 685.3L438.4 688.4L442 691.4L445.6 694.4L449.1 697.3L452.7 700.3L456.2 703.2L459.8 706.1L463.4 708.9L466.9 711.7L470.5 714.5L474 717.2L477.6 719.9L481.2 722.5L484.7 725L488.3 727.6L491.8 730L495.4 732.4L498.9 734.8L502.5 737.1L506.1 739.3L509.6 741.5L513.2 743.6L516.7 745.7L520.3 747.7L523.9 749.6L527.4 751.5L531 753.3L534.5 755.1L538.1 756.8L541.7 758.5L545.2 760L548.8 761.6L552.3 763L555.9 764.5L559.5 765.8L563 767.1L566.6 768.4L570.1 769.6L573.7 770.7L577.3 771.9L580.8 772.9L584.4 773.9L587.9 774.9L591.5 775.8L595 776.7L598.6 777.5L602.2 778.3L605.7 779L609.3 779.8L612.8 780.4L616.4 781.1L620 781.7L623.5 782.3L627.1 782.8L630.6 783.3L634.2 783.8L637.8 784.3L641.3 784.7L644.9 785.1L648.4 785.5L652 785.9L655.6 786.2L659.1 786.5L662.7 786.8L666.2 787.1L669.8 787.4L673.3 787.5L676.9 787.5L680.5 787.5L684 787.5L687.6 787.5L691.1 787.5L694.7 787.5L698.3 787.5L701.8 787.5L705.4 787.5L708.9 787.5L708.9 787.5" fill="none" stroke="#fff" stroke-width="1.4"/>
</g>
<g stroke-width="1.5" fill="none">
<path d="M390.7 793.3V841.6M396 793.3V841.6M401.4 793.3V841.6M412 793.3V841.6M463.6 793.3V841.6M467.2 793.3V841.6M492.1 793.3V841.6M511.7 793.3V841.6" stroke="#205040"/>
<path d="M422.7 793.3V841.6M433.4 793.3V841.6M436.9 793.3V841.6" stroke="#304858"/>
<path d="M283.9 793.3V841.6M333.7 793.3V841.6M337.3 793.3V841.6M387.1 793.3V841.6M426.3 793.3V841.6" stroke="#404078"/>
<path d="M424.5 793.3V841.6M438.7 793.3V841.6M453 793.3V841.6M458.3 793.3V841.6M472.5 793.3V841.6M476.1 793.3V841.6M479.7 793.3V841.6M502.8 793.3V841.6M527.7 793.3V841.6" stroke="#484828"/>
<path d="M330.2 793.3V841.6M339.1 793.3V841.6M397.8 793.3V841.6" stroke="#604030"/>
<path d="M428 793.3V841.6M444.1 793.3V841.6M449.4 793.3V841.6M454.7 793.3V841.6M456.5 793.3V841.6M461.9 793.3V841.6M474.3 793.3V841.6M483.2 793.3V841.6M490.3 793.3V841.6M499.2 793.3V841.6M508.1 793.3V841.6M524.1 793.3V841.6M525.9 793.3V841.6M534.8 793.3V841.6M559.7 793.3V841.6M614 793.3V841.6M754.6 793.3V841.6" stroke="#609080"/>
<path d="M221.6 793.3V841.6M257.2 793.3V841.6M259 793.3V841.6M317.7 793.3V841.6M321.3 793.3V841.6M353.3 793.3V841.6M356.9 793.3V841.6" stroke="#703068"/>
<path d="M216.3 793.3V841.6M234.1 793.3V841.6M237.6 793.3V841.6M241.2 793.3V841.6M289.2 793.3V841.6M291 793.3V841.6M292.8 793.3V841.6M305.3 793.3V841.6M326.6 793.3V841.6M328.4 793.3V841.6M342.6 793.3V841.6M344.4 793.3V841.6M346.2 793.3V841.6M388.9 793.3V841.6M394.2 793.3V841.6M404.9 793.3V841.6M408.5 793.3V841.6M442.3 793.3V841.6M564.2 793.3V841.6M622 793.3V841.6M676.3 793.3V841.6" stroke="#8080b0"/>
<path d="M369.3 793.3V841.6M392.5 793.3V841.6M413.8 793.3V841.6M486.8 793.3V841.6M488.6 793.3V841.6M497.4 793.3V841.6" stroke="#903818"/>
<path d="M378.2 793.3V841.6" stroke="#a03028"/>
<path d="M203.8 793.3V841.6M223.4 793.3V841.6M228.7 793.3V841.6M250.1 793.3V841.6M255.4 793.3V841.6M267.9 793.3V841.6M296.4 793.3V841.6M308.8 793.3V841.6M349.7 793.3V841.6" stroke="#b02858"/>
<path d="M348 793.3V841.6M362.2 793.3V841.6M371.1 793.3V841.6M417.4 793.3V841.6M431.6 793.3V841.6M435.2 793.3V841.6M445.8 793.3V841.6M481.4 793.3V841.6M485 793.3V841.6M495.7 793.3V841.6M509.9 793.3V841.6M517 793.3V841.6M550.8 793.3V841.6M555.3 793.3V841.6M587.3 793.3V841.6M598.9 793.3V841.6M601.6 793.3V841.6M664.7 793.3V841.6" stroke="#c07848"/>
<path d="M116.6 793.3V841.6M130.9 793.3V841.6M142.4 793.3V841.6M194.9 793.3V841.6M196.7 793.3V841.6M200.3 793.3V841.6M205.6 793.3V841.6M212.7 793.3V841.6M218.1 793.3V841.6M219.8 793.3V841.6M226.9 793.3V841.6M230.5 793.3V841.6M239.4 793.3V841.6M243 793.3V841.6M248.3 793.3V841.6M253.6 793.3V841.6M273.2 793.3V841.6M275 793.3V841.6M278.6 793.3V841.6M294.6 793.3V841.6M315.9 793.3V841.6M323 793.3V841.6M324.8 793.3V841.6M331.9 793.3V841.6M340.8 793.3V841.6M358.6 793.3V841.6M360.4 793.3V841.6M364 793.3V841.6M675.4 793.3V841.6" stroke="#d06098"/>
</g>
<g stroke="#000" fill="none">
<rect x="91.7" y="483.7" width="889.8" height="363.5" stroke-width="4.4"/>
<path d="M91.7 787.5H981.5" stroke-width="4.4"/>
<path d="M91.7 787.5h6.2M91.7 753.8h6.2M91.7 720.1h6.2M91.7 686.5h6.2M91.7 652.8h6.2M91.7 619.1h6.2M91.7 585.4h6.2M91.7 551.7h6.2M91.7 518.1h6.2M91.7 484.4h6.2M91.7 847.2v-6.8M180.7 847.2v-6.8M269.7 847.2v-6.8M358.6 847.2v-6.8M447.6 847.2v-6.8M536.6 847.2v-6.8M625.6 847.2v-6.8M714.6 847.2v-6.8M803.5 847.2v-6.8M892.5 847.2v-6.8M981.5 847.2v-6.8" stroke-width="4.2"/>
<path d="M91.7 770.7h3.3M91.7 737h3.3M91.7 703.3h3.3M91.7 669.6h3.3M91.7 635.9h3.3M91.7 602.3h3.3M91.7 568.6h3.3M91.7 534.9h3.3M91.7 501.2h3.3M136.2 847.2v-3.3M225.2 847.2v-3.3M314.1 847.2v-3.3M403.1 847.2v-3.3M492.1 847.2v-3.3M581.1 847.2v-3.3M670.1 847.2v-3.3M759 847.2v-3.3M848 847.2v-3.3M937 847.2v-3.3" stroke-width="3.4"/>
</g>
<g>
<text x="83.6" y="797.9" text-anchor="end">0.0</text>
<text x="83.6" y="764.2" text-anchor="end">0.1</text>
<text x="83.6" y="730.5" text-anchor="end">0.2</text>
<text x="83.6" y="696.9" text-anchor="end">0.3</text>
<text x="83.6" y="663.2" text-anchor="end">0.4</text>
<text x="83.6" y="629.5" text-anchor="end">0.5</text>
<text x="83.6" y="595.8" text-anchor="end">0.6</text>
<text x="83.6" y="562.1" text-anchor="end">0.7</text>
<text x="83.6" y="528.5" text-anchor="end">0.8</text>
<text x="83.6" y="494.8" text-anchor="end">0.9</text>
<text x="91.7" y="881.2" text-anchor="middle">100</text>
<text x="180.7" y="881.2" text-anchor="middle">150</text>
<text x="269.7" y="881.2" text-anchor="middle">200</text>
<text x="358.6" y="881.2" text-anchor="middle">250</text>
<text x="447.6" y="881.2" text-anchor="middle">300</text>
<text x="536.6" y="881.2" text-anchor="middle">350</text>
<text x="625.6" y="881.2" text-anchor="middle">400</text>
<text x="714.6" y="881.2" text-anchor="middle">450</text>
<text x="803.5" y="881.2" text-anchor="middle">500</text>
<text x="892.5" y="881.2" text-anchor="middle">550</text>
<text x="981.5" y="881.2" text-anchor="middle">600</text>
<text transform="translate(26.2 635.1) rotate(-90)" text-anchor="middle">Density</text>
<text x="527.9" y="924" text-anchor="middle">W/B0.4 28d</text>
</g>
<g>
<rect x="115.5" y="501.4" width="78" height="36.5" fill="#0f704f" opacity="0.63"/>
<text x="205.6" y="532.1">0%</text>
<rect x="263.7" y="501.4" width="78" height="36.5" fill="#933d00" opacity="0.63"/>
<text x="353" y="532.1">10%</text>
<rect x="429.5" y="501.4" width="78" height="36.5" fill="#483d85" opacity="0.63"/>
<text x="520.4" y="532.1">20%</text>
<rect x="596" y="501.4" width="78" height="36.5" fill="#a9115f" opacity="0.63"/>
<text x="686.7" y="532.1">30%</text>
</g>
</g>
<g id="panel4">
<clipPath id="cp3"><rect x="981.5" y="483.7" width="890.3" height="304.8"/></clipPath>
<g clip-path="url(#cp3)" stroke-linejoin="round">
<path d="M1223.7 784L1223.7 784L1227.2 784L1230.8 784L1234.3 784L1237.9 783.9L1241.5 783.1L1245 782.1L1248.6 781L1252.2 779.6L1255.7 778.1L1259.3 776.3L1262.8 774.2L1266.4 771.8L1270 769L1273.5 765.9L1277.1 762.3L1280.6 758.3L1284.2 753.8L1287.8 748.8L1291.3 743.3L1294.9 737.3L1298.4 730.7L1302 723.5L1305.6 715.8L1309.1 707.5L1312.7 698.6L1316.3 689.3L1319.8 679.5L1323.4 669.3L1326.9 658.7L1330.5 647.9L1334.1 636.9L1337.6 625.7L1341.2 614.6L1344.7 603.5L1348.3 592.7L1351.9 582.3L1355.4 572.3L1359 562.9L1362.5 554.2L1366.1 546.3L1369.7 539.3L1373.2 533.3L1376.8 528.4L1380.4 524.7L1383.9 522.2L1387.5 520.9L1391 520.9L1394.6 522L1398.2 524.2L1401.7 527.5L1405.3 531.8L1408.8 537L1412.4 543.2L1416 550.2L1419.5 558L1423.1 566.4L1426.7 575.4L1430.2 584.9L1433.8 594.8L1437.3 605L1440.9 615.3L1444.5 625.7L1448 636.1L1451.6 646.5L1455.1 656.7L1458.7 666.6L1462.3 676.3L1465.8 685.6L1469.4 694.5L1472.9 703L1476.5 711L1480.1 718.6L1483.6 725.6L1487.2 732.2L1490.8 738.3L1494.3 743.9L1497.9 749L1501.4 753.7L1505 757.9L1508.6 761.7L1512.1 765.1L1515.7 768.1L1519.2 770.8L1522.8 773.2L1526.4 775.3L1529.9 777.1L1533.5 778.7L1537 780.1L1540.6 781.3L1544.2 782.3L1547.7 783.2L1551.3 783.9L1554.9 784L1558.4 784L1562 784L1565.5 784L1565.5 784Z" fill="#06482f" opacity="0.63"/>
<path d="M1225.2 787.5L1225.2 787.5L1228.7 787.5L1232.3 787.5L1235.8 787.5L1239.4 787.4L1243 786.6L1246.5 785.6L1250.1 784.5L1253.7 783.1L1257.2 781.6L1260.8 779.8L1264.3 777.7L1267.9 775.3L1271.5 772.5L1275 769.4L1278.6 765.8L1282.1 761.8L1285.7 757.3L1289.3 752.3L1292.8 746.8L1296.4 740.8L1299.9 734.2L1303.5 727L1307.1 719.3L1310.6 711L1314.2 702.1L1317.8 692.8L1321.3 683L1324.9 672.8L1328.4 662.2L1332 651.4L1335.6 640.4L1339.1 629.2L1342.7 618.1L1346.2 607L1349.8 596.2L1353.4 585.8L1356.9 575.8L1360.5 566.4L1364 557.7L1367.6 549.8L1371.2 542.8L1374.7 536.8L1378.3 531.9L1381.9 528.2L1385.4 525.7L1389 524.4L1392.5 524.4L1396.1 525.5L1399.7 527.7L1403.2 531L1406.8 535.3L1410.3 540.5L1413.9 546.7L1417.5 553.7L1421 561.5L1424.6 569.9L1428.2 578.9L1431.7 588.4L1435.3 598.3L1438.8 608.5L1442.4 618.8L1446 629.2L1449.5 639.6L1453.1 650L1456.6 660.2L1460.2 670.1L1463.8 679.8L1467.3 689.1L1470.9 698L1474.4 706.5L1478 714.5L1481.6 722.1L1485.1 729.1L1488.7 735.7L1492.3 741.8L1495.8 747.4L1499.4 752.5L1502.9 757.2L1506.5 761.4L1510.1 765.2L1513.6 768.6L1517.2 771.6L1520.7 774.3L1524.3 776.7L1527.9 778.8L1531.4 780.6L1535 782.2L1538.5 783.6L1542.1 784.8L1545.7 785.8L1549.2 786.7L1552.8 787.4L1556.4 787.5L1559.9 787.5L1563.5 787.5L1567 787.5L1567 787.5" fill="none" stroke="#fff" stroke-width="1.4"/>
<path d="M963.7 784L963.7 761.7L967.3 760.8L970.8 760L974.4 759L977.9 758.1L981.5 757.2L985.1 756.2L988.6 755.2L992.2 754.2L995.7 753.2L999.3 752.1L1002.9 751L1006.4 749.9L1010 748.8L1013.6 747.7L1017.1 746.5L1020.7 745.3L1024.2 744.1L1027.8 742.9L1031.4 741.6L1034.9 740.3L1038.5 739L1042 737.7L1045.6 736.4L1049.2 735L1052.7 733.6L1056.3 732.2L1059.8 730.8L1063.4 729.4L1067 727.9L1070.5 726.4L1074.1 724.9L1077.7 723.4L1081.2 721.9L1084.8 720.3L1088.3 718.7L1091.9 717.1L1095.5 715.5L1099 713.9L1102.6 712.3L1106.1 710.6L1109.7 709L1113.3 707.3L1116.8 705.6L1120.4 703.9L1123.9 702.2L1127.5 700.5L1131.1 698.7L1134.6 697L1138.2 695.3L1141.8 693.5L1145.3 691.8L1148.9 690L1152.4 688.2L1156 686.5L1159.6 684.7L1163.1 682.9L1166.7 681.1L1170.2 679.4L1173.8 677.6L1177.4 675.8L1180.9 674.1L1184.5 672.3L1188 670.6L1191.6 668.8L1195.2 667.1L1198.7 665.4L1202.3 663.6L1205.9 661.9L1209.4 660.3L1213 658.6L1216.5 656.9L1220.1 655.3L1223.7 653.7L1227.2 652L1230.8 650.5L1234.3 648.9L1237.9 647.4L1241.5 645.8L1245 644.3L1248.6 642.9L1252.2 641.4L1255.7 640L1259.3 638.6L1262.8 637.3L1266.4 636L1270 634.7L1273.5 633.4L1277.1 632.2L1280.6 631L1284.2 629.9L1287.8 628.8L1291.3 627.7L1294.9 626.6L1298.4 625.6L1302 624.7L1305.6 623.8L1309.1 622.9L1312.7 622.1L1316.3 621.3L1319.8 620.5L1323.4 619.8L1326.9 619.2L1330.5 618.6L1334.1 618L1337.6 617.5L1341.2 617.1L1344.7 616.6L1348.3 616.3L1351.9 615.9L1355.4 615.7L1359 615.5L1362.5 615.3L1366.1 615.2L1369.7 615.1L1373.2 615.1L1376.8 615.1L1380.4 615.1L1383.9 615.3L1387.5 615.4L1391 615.6L1394.6 615.9L1398.2 616.2L1401.7 616.5L1405.3 616.9L1408.8 617.3L1412.4 617.8L1416 618.3L1419.5 618.8L1423.1 619.4L1426.7 620L1430.2 620.7L1433.8 621.4L1437.3 622.2L1440.9 623L1444.5 623.8L1448 624.7L1451.6 625.6L1455.1 626.5L1458.7 627.5L1462.3 628.5L1465.8 629.6L1469.4 630.7L1472.9 631.8L1476.5 632.9L1480.1 634.1L1483.6 635.3L1487.2 636.6L1490.8 637.8L1494.3 639.1L1497.9 640.5L1501.4 641.8L1505 643.2L1508.6 644.6L1512.1 646L1515.7 647.5L1519.2 648.9L1522.8 650.4L1526.4 651.9L1529.9 653.4L1533.5 655L1537 656.5L1540.6 658.1L1544.2 659.7L1547.7 661.3L1551.3 662.9L1554.9 664.6L1558.4 666.2L1562 667.8L1565.5 669.5L1569.1 671.2L1572.7 672.8L1576.2 674.5L1579.8 676.2L1583.3 677.9L1586.9 679.5L1590.5 681.2L1594 682.9L1597.6 684.6L1601.1 686.3L1604.7 688L1608.3 689.6L1611.8 691.3L1615.4 693L1619 694.7L1622.5 696.3L1626.1 698L1629.6 699.6L1633.2 701.3L1636.8 702.9L1640.3 704.5L1643.9 706.2L1647.4 707.8L1651 709.3L1654.6 710.9L1658.1 712.5L1661.7 714L1665.3 715.6L1668.8 717.1L1672.4 718.6L1675.9 720.1L1679.5 721.6L1683.1 723.1L1686.6 724.5L1690.2 726L1693.7 727.4L1697.3 728.8L1700.9 730.2L1704.4 731.5L1708 732.9L1711.5 734.2L1715.1 735.5L1718.7 736.8L1722.2 738.1L1725.8 739.3L1729.4 740.5L1732.9 741.8L1736.5 742.9L1740 744.1L1743.6 745.3L1747.2 746.4L1750.7 747.5L1754.3 748.6L1757.8 749.7L1761.4 750.7L1765 751.8L1768.5 752.8L1772.1 753.8L1775.6 754.7L1779.2 755.7L1782.8 756.6L1786.3 757.5L1789.9 758.4L1793.5 759.3L1797 760.2L1800.6 761L1804.1 761.8L1807.7 762.6L1811.3 763.4L1814.8 764.2L1818.4 764.9L1821.9 765.6L1825.5 766.3L1829.1 767L1832.6 767.7L1836.2 768.4L1839.7 769L1843.3 769.6L1846.9 770.2L1850.4 770.8L1854 771.4L1857.6 771.9L1861.1 772.5L1864.7 773L1868.2 773.5L1871.8 774L1875.4 774.5L1878.9 775L1882.5 775.4L1886 775.9L1889.6 776.3L1889.6 784Z" fill="#622900" opacity="0.63"/>
<path d="M965.2 787.5L965.2 765.2L968.8 764.3L972.3 763.5L975.9 762.5L979.4 761.6L983 760.7L986.6 759.7L990.1 758.7L993.7 757.7L997.2 756.7L1000.8 755.6L1004.4 754.5L1007.9 753.4L1011.5 752.3L1015.1 751.2L1018.6 750L1022.2 748.8L1025.7 747.6L1029.3 746.4L1032.9 745.1L1036.4 743.8L1040 742.5L1043.5 741.2L1047.1 739.9L1050.7 738.5L1054.2 737.1L1057.8 735.7L1061.3 734.3L1064.9 732.9L1068.5 731.4L1072 729.9L1075.6 728.4L1079.2 726.9L1082.7 725.4L1086.3 723.8L1089.8 722.2L1093.4 720.6L1097 719L1100.5 717.4L1104.1 715.8L1107.6 714.1L1111.2 712.5L1114.8 710.8L1118.3 709.1L1121.9 707.4L1125.4 705.7L1129 704L1132.6 702.2L1136.1 700.5L1139.7 698.8L1143.3 697L1146.8 695.3L1150.4 693.5L1153.9 691.7L1157.5 690L1161.1 688.2L1164.6 686.4L1168.2 684.6L1171.7 682.9L1175.3 681.1L1178.9 679.3L1182.4 677.6L1186 675.8L1189.5 674.1L1193.1 672.3L1196.7 670.6L1200.2 668.9L1203.8 667.1L1207.4 665.4L1210.9 663.8L1214.5 662.1L1218 660.4L1221.6 658.8L1225.2 657.2L1228.7 655.5L1232.3 654L1235.8 652.4L1239.4 650.9L1243 649.3L1246.5 647.8L1250.1 646.4L1253.7 644.9L1257.2 643.5L1260.8 642.1L1264.3 640.8L1267.9 639.5L1271.5 638.2L1275 636.9L1278.6 635.7L1282.1 634.5L1285.7 633.4L1289.3 632.3L1292.8 631.2L1296.4 630.1L1299.9 629.1L1303.5 628.2L1307.1 627.3L1310.6 626.4L1314.2 625.6L1317.8 624.8L1321.3 624L1324.9 623.3L1328.4 622.7L1332 622.1L1335.6 621.5L1339.1 621L1342.7 620.6L1346.2 620.1L1349.8 619.8L1353.4 619.4L1356.9 619.2L1360.5 619L1364 618.8L1367.6 618.7L1371.2 618.6L1374.7 618.6L1378.3 618.6L1381.9 618.6L1385.4 618.8L1389 618.9L1392.5 619.1L1396.1 619.4L1399.7 619.7L1403.2 620L1406.8 620.4L1410.3 620.8L1413.9 621.3L1417.5 621.8L1421 622.3L1424.6 622.9L1428.2 623.5L1431.7 624.2L1435.3 624.9L1438.8 625.7L1442.4 626.5L1446 627.3L1449.5 628.2L1453.1 629.1L1456.6 630L1460.2 631L1463.8 632L1467.3 633.1L1470.9 634.2L1474.4 635.3L1478 636.4L1481.6 637.6L1485.1 638.8L1488.7 640.1L1492.3 641.3L1495.8 642.6L1499.4 644L1502.9 645.3L1506.5 646.7L1510.1 648.1L1513.6 649.5L1517.2 651L1520.7 652.4L1524.3 653.9L1527.9 655.4L1531.4 656.9L1535 658.5L1538.5 660L1542.1 661.6L1545.7 663.2L1549.2 664.8L1552.8 666.4L1556.4 668.1L1559.9 669.7L1563.5 671.3L1567 673L1570.6 674.7L1574.2 676.3L1577.7 678L1581.3 679.7L1584.8 681.4L1588.4 683L1592 684.7L1595.5 686.4L1599.1 688.1L1602.6 689.8L1606.2 691.5L1609.8 693.1L1613.3 694.8L1616.9 696.5L1620.5 698.2L1624 699.8L1627.6 701.5L1631.1 703.1L1634.7 704.8L1638.3 706.4L1641.8 708L1645.4 709.7L1648.9 711.3L1652.5 712.8L1656.1 714.4L1659.6 716L1663.2 717.5L1666.8 719.1L1670.3 720.6L1673.9 722.1L1677.4 723.6L1681 725.1L1684.6 726.6L1688.1 728L1691.7 729.5L1695.2 730.9L1698.8 732.3L1702.4 733.7L1705.9 735L1709.5 736.4L1713 737.7L1716.6 739L1720.2 740.3L1723.7 741.6L1727.3 742.8L1730.9 744L1734.4 745.3L1738 746.4L1741.5 747.6L1745.1 748.8L1748.7 749.9L1752.2 751L1755.8 752.1L1759.3 753.2L1762.9 754.2L1766.5 755.3L1770 756.3L1773.6 757.3L1777.1 758.2L1780.7 759.2L1784.3 760.1L1787.8 761L1791.4 761.9L1795 762.8L1798.5 763.7L1802.1 764.5L1805.6 765.3L1809.2 766.1L1812.8 766.9L1816.3 767.7L1819.9 768.4L1823.4 769.1L1827 769.8L1830.6 770.5L1834.1 771.2L1837.7 771.9L1841.2 772.5L1844.8 773.1L1848.4 773.7L1851.9 774.3L1855.5 774.9L1859.1 775.4L1862.6 776L1866.2 776.5L1869.7 777L1873.3 777.5L1876.9 778L1880.4 778.5L1884 778.9L1887.5 779.4L1891.1 779.8L1891.1 787.5" fill="none" stroke="#fff" stroke-width="1.4"/>
<path d="M963.7 784L963.7 770.3L967.3 769.3L970.8 768.2L974.4 767L977.9 765.8L981.5 764.5L985.1 763.2L988.6 761.8L992.2 760.4L995.7 758.9L999.3 757.3L1002.9 755.7L1006.4 754L1010 752.2L1013.6 750.4L1017.1 748.5L1020.7 746.5L1024.2 744.5L1027.8 742.4L1031.4 740.2L1034.9 737.9L1038.5 735.6L1042 733.2L1045.6 730.7L1049.2 728.2L1052.7 725.6L1056.3 722.9L1059.8 720.1L1063.4 717.2L1067 714.3L1070.5 711.3L1074.1 708.3L1077.7 705.2L1081.2 702L1084.8 698.7L1088.3 695.4L1091.9 692.1L1095.5 688.6L1099 685.1L1102.6 681.6L1106.1 678L1109.7 674.4L1113.3 670.7L1116.8 667L1120.4 663.3L1123.9 659.5L1127.5 655.7L1131.1 651.8L1134.6 648L1138.2 644.1L1141.8 640.3L1145.3 636.4L1148.9 632.5L1152.4 628.6L1156 624.8L1159.6 621L1163.1 617.1L1166.7 613.4L1170.2 609.6L1173.8 605.9L1177.4 602.2L1180.9 598.6L1184.5 595.1L1188 591.6L1191.6 588.1L1195.2 584.8L1198.7 581.5L1202.3 578.4L1205.9 575.3L1209.4 572.3L1213 569.4L1216.5 566.6L1220.1 564L1223.7 561.4L1227.2 559L1230.8 556.7L1234.3 554.5L1237.9 552.5L1241.5 550.6L1245 548.9L1248.6 547.3L1252.2 545.8L1255.7 544.5L1259.3 543.4L1262.8 542.4L1266.4 541.6L1270 541L1273.5 540.5L1277.1 540.1L1280.6 540L1284.2 540L1287.8 540.1L1291.3 540.4L1294.9 540.9L1298.4 541.5L1302 542.3L1305.6 543.2L1309.1 544.3L1312.7 545.5L1316.3 546.9L1319.8 548.4L1323.4 550.1L1326.9 551.9L1330.5 553.8L1334.1 555.9L1337.6 558.1L1341.2 560.4L1344.7 562.8L1348.3 565.4L1351.9 568L1355.4 570.8L1359 573.6L1362.5 576.6L1366.1 579.6L1369.7 582.8L1373.2 586L1376.8 589.3L1380.4 592.6L1383.9 596.1L1387.5 599.5L1391 603.1L1394.6 606.7L1398.2 610.3L1401.7 613.9L1405.3 617.6L1408.8 621.4L1412.4 625.1L1416 628.9L1419.5 632.6L1423.1 636.4L1426.7 640.2L1430.2 644L1433.8 647.7L1437.3 651.5L1440.9 655.2L1444.5 658.9L1448 662.6L1451.6 666.3L1455.1 669.9L1458.7 673.5L1462.3 677L1465.8 680.6L1469.4 684L1472.9 687.4L1476.5 690.8L1480.1 694.1L1483.6 697.4L1487.2 700.5L1490.8 703.7L1494.3 706.8L1497.9 709.8L1501.4 712.7L1505 715.6L1508.6 718.4L1512.1 721.1L1515.7 723.8L1519.2 726.4L1522.8 729L1526.4 731.4L1529.9 733.8L1533.5 736.1L1537 738.4L1540.6 740.6L1544.2 742.7L1547.7 744.8L1551.3 746.7L1554.9 748.7L1558.4 750.5L1562 752.3L1565.5 754L1569.1 755.7L1572.7 757.2L1576.2 758.8L1579.8 760.2L1583.3 761.7L1586.9 763L1590.5 764.3L1594 765.5L1597.6 766.7L1601.1 767.9L1604.7 769L1608.3 770L1611.8 771L1615.4 771.9L1619 772.8L1622.5 773.7L1626.1 774.5L1629.6 775.3L1633.2 776L1636.8 776.7L1640.3 777.4L1643.9 778L1647.4 778.6L1651 779.2L1654.6 779.7L1658.1 780.2L1661.7 780.7L1665.3 781.1L1668.8 781.5L1672.4 781.9L1675.9 782.3L1679.5 782.7L1683.1 783L1686.6 783.3L1690.2 783.6L1693.7 783.9L1697.3 784L1700.9 784L1704.4 784L1708 784L1711.5 784L1715.1 784L1718.7 784L1722.2 784L1725.8 784L1729.4 784L1732.9 784L1736.5 784L1736.5 784Z" fill="#2f294f" opacity="0.63"/>
<path d="M965.2 787.5L965.2 773.8L968.8 772.8L972.3 771.7L975.9 770.5L979.4 769.3L983 768L986.6 766.7L990.1 765.3L993.7 763.9L997.2 762.4L1000.8 760.8L1004.4 759.2L1007.9 757.5L1011.5 755.7L1015.1 753.9L1018.6 752L1022.2 750L1025.7 748L1029.3 745.9L1032.9 743.7L1036.4 741.4L1040 739.1L1043.5 736.7L1047.1 734.2L1050.7 731.7L1054.2 729.1L1057.8 726.4L1061.3 723.6L1064.9 720.7L1068.5 717.8L1072 714.8L1075.6 711.8L1079.2 708.7L1082.7 705.5L1086.3 702.2L1089.8 698.9L1093.4 695.6L1097 692.1L1100.5 688.6L1104.1 685.1L1107.6 681.5L1111.2 677.9L1114.8 674.2L1118.3 670.5L1121.9 666.8L1125.4 663L1129 659.2L1132.6 655.3L1136.1 651.5L1139.7 647.6L1143.3 643.8L1146.8 639.9L1150.4 636L1153.9 632.1L1157.5 628.3L1161.1 624.5L1164.6 620.6L1168.2 616.9L1171.7 613.1L1175.3 609.4L1178.9 605.7L1182.4 602.1L1186 598.6L1189.5 595.1L1193.1 591.6L1196.7 588.3L1200.2 585L1203.8 581.9L1207.4 578.8L1210.9 575.8L1214.5 572.9L1218 570.1L1221.6 567.5L1225.2 564.9L1228.7 562.5L1232.3 560.2L1235.8 558L1239.4 556L1243 554.1L1246.5 552.4L1250.1 550.8L1253.7 549.3L1257.2 548L1260.8 546.9L1264.3 545.9L1267.9 545.1L1271.5 544.5L1275 544L1278.6 543.6L1282.1 543.5L1285.7 543.5L1289.3 543.6L1292.8 543.9L1296.4 544.4L1299.9 545L1303.5 545.8L1307.1 546.7L1310.6 547.8L1314.2 549L1317.8 550.4L1321.3 551.9L1324.9 553.6L1328.4 555.4L1332 557.3L1335.6 559.4L1339.1 561.6L1342.7 563.9L1346.2 566.3L1349.8 568.9L1353.4 571.5L1356.9 574.3L1360.5 577.1L1364 580.1L1367.6 583.1L1371.2 586.3L1374.7 589.5L1378.3 592.8L1381.9 596.1L1385.4 599.6L1389 603L1392.5 606.6L1396.1 610.2L1399.7 613.8L1403.2 617.4L1406.8 621.1L1410.3 624.9L1413.9 628.6L1417.5 632.4L1421 636.1L1424.6 639.9L1428.2 643.7L1431.7 647.5L1435.3 651.2L1438.8 655L1442.4 658.7L1446 662.4L1449.5 666.1L1453.1 669.8L1456.6 673.4L1460.2 677L1463.8 680.5L1467.3 684.1L1470.9 687.5L1474.4 690.9L1478 694.3L1481.6 697.6L1485.1 700.9L1488.7 704L1492.3 707.2L1495.8 710.3L1499.4 713.3L1502.9 716.2L1506.5 719.1L1510.1 721.9L1513.6 724.6L1517.2 727.3L1520.7 729.9L1524.3 732.5L1527.9 734.9L1531.4 737.3L1535 739.6L1538.5 741.9L1542.1 744.1L1545.7 746.2L1549.2 748.3L1552.8 750.2L1556.4 752.2L1559.9 754L1563.5 755.8L1567 757.5L1570.6 759.2L1574.2 760.7L1577.7 762.3L1581.3 763.7L1584.8 765.2L1588.4 766.5L1592 767.8L1595.5 769L1599.1 770.2L1602.6 771.4L1606.2 772.5L1609.8 773.5L1613.3 774.5L1616.9 775.4L1620.5 776.3L1624 777.2L1627.6 778L1631.1 778.8L1634.7 779.5L1638.3 780.2L1641.8 780.9L1645.4 781.5L1648.9 782.1L1652.5 782.7L1656.1 783.2L1659.6 783.7L1663.2 784.2L1666.8 784.6L1670.3 785L1673.9 785.4L1677.4 785.8L1681 786.2L1684.6 786.5L1688.1 786.8L1691.7 787.1L1695.2 787.4L1698.8 787.5L1702.4 787.5L1705.9 787.5L1709.5 787.5L1713 787.5L1716.6 787.5L1720.2 787.5L1723.7 787.5L1727.3 787.5L1730.9 787.5L1734.4 787.5L1738 787.5L1738 787.5" fill="none" stroke="#fff" stroke-width="1.4"/>
<path d="M963.7 784L963.7 724L967.3 722.5L970.8 721L974.4 719.4L977.9 717.8L981.5 716.2L985.1 714.5L988.6 712.8L992.2 711.1L995.7 709.4L999.3 707.7L1002.9 705.9L1006.4 704.1L1010 702.3L1013.6 700.4L1017.1 698.5L1020.7 696.7L1024.2 694.8L1027.8 692.8L1031.4 690.9L1034.9 688.9L1038.5 687L1042 685L1045.6 683L1049.2 681L1052.7 679L1056.3 676.9L1059.8 674.9L1063.4 672.9L1067 670.8L1070.5 668.8L1074.1 666.8L1077.7 664.7L1081.2 662.7L1084.8 660.7L1088.3 658.7L1091.9 656.7L1095.5 654.7L1099 652.8L1102.6 650.8L1106.1 648.9L1109.7 647L1113.3 645.2L1116.8 643.4L1120.4 641.6L1123.9 639.9L1127.5 638.2L1131.1 636.5L1134.6 634.9L1138.2 633.4L1141.8 631.9L1145.3 630.5L1148.9 629.1L1152.4 627.8L1156 626.6L1159.6 625.5L1163.1 624.4L1166.7 623.5L1170.2 622.6L1173.8 621.8L1177.4 621.1L1180.9 620.5L1184.5 620L1188 619.6L1191.6 619.3L1195.2 619.2L1198.7 619.1L1202.3 619.1L1205.9 619.3L1209.4 619.5L1213 619.7L1216.5 620.1L1220.1 620.6L1223.7 621.1L1227.2 621.7L1230.8 622.4L1234.3 623.1L1237.9 624L1241.5 624.9L1245 625.8L1248.6 626.9L1252.2 628L1255.7 629.2L1259.3 630.5L1262.8 631.8L1266.4 633.2L1270 634.6L1273.5 636.1L1277.1 637.7L1280.6 639.3L1284.2 641L1287.8 642.7L1291.3 644.5L1294.9 646.3L1298.4 648.1L1302 650.1L1305.6 652L1309.1 654L1312.7 656L1316.3 658L1319.8 660.1L1323.4 662.2L1326.9 664.4L1330.5 666.5L1334.1 668.7L1337.6 670.9L1341.2 673.1L1344.7 675.3L1348.3 677.5L1351.9 679.8L1355.4 682L1359 684.2L1362.5 686.5L1366.1 688.7L1369.7 691L1373.2 693.2L1376.8 695.4L1380.4 697.6L1383.9 699.9L1387.5 702.1L1391 704.2L1394.6 706.4L1398.2 708.5L1401.7 710.7L1405.3 712.8L1408.8 714.9L1412.4 716.9L1416 718.9L1419.5 721L1423.1 722.9L1426.7 724.9L1430.2 726.8L1433.8 728.7L1437.3 730.6L1440.9 732.4L1444.5 734.2L1448 735.9L1451.6 737.7L1455.1 739.4L1458.7 741L1462.3 742.6L1465.8 744.2L1469.4 745.8L1472.9 747.3L1476.5 748.8L1480.1 750.2L1483.6 751.6L1487.2 753L1490.8 754.3L1494.3 755.6L1497.9 756.9L1501.4 758.1L1505 759.3L1508.6 760.4L1512.1 761.6L1515.7 762.6L1519.2 763.7L1522.8 764.7L1526.4 765.7L1529.9 766.6L1533.5 767.6L1537 768.5L1540.6 769.3L1544.2 770.1L1547.7 770.9L1551.3 771.7L1554.9 772.5L1558.4 773.2L1562 773.9L1565.5 774.5L1569.1 775.1L1572.7 775.8L1576.2 776.3L1579.8 776.9L1583.3 777.4L1586.9 777.9L1590.5 778.4L1594 778.9L1597.6 779.4L1601.1 779.8L1604.7 780.2L1608.3 780.6L1611.8 781L1615.4 781.3L1619 781.7L1622.5 782L1626.1 782.3L1629.6 782.6L1633.2 782.9L1636.8 783.1L1640.3 783.4L1643.9 783.6L1647.4 783.9L1651 784L1654.6 784L1658.1 784L1661.7 784L1665.3 784L1668.8 784L1672.4 784L1675.9 784L1679.5 784L1683.1 784L1686.6 784L1690.2 784L1693.7 784L1697.3 784L1700.9 784L1700.9 784Z" fill="#72093f" opacity="0.63"/>
<path d="M965.2 787.5L965.2 727.5L968.8 726L972.3 724.5L975.9 722.9L979.4 721.3L983 719.7L986.6 718L990.1 716.3L993.7 714.6L997.2 712.9L1000.8 711.2L1004.4 709.4L1007.9 707.6L1011.5 705.8L1015.1 703.9L1018.6 702L1022.2 700.2L1025.7 698.3L1029.3 696.3L1032.9 694.4L1036.4 692.4L1040 690.5L1043.5 688.5L1047.1 686.5L1050.7 684.5L1054.2 682.5L1057.8 680.4L1061.3 678.4L1064.9 676.4L1068.5 674.3L1072 672.3L1075.6 670.3L1079.2 668.2L1082.7 666.2L1086.3 664.2L1089.8 662.2L1093.4 660.2L1097 658.2L1100.5 656.3L1104.1 654.3L1107.6 652.4L1111.2 650.5L1114.8 648.7L1118.3 646.9L1121.9 645.1L1125.4 643.4L1129 641.7L1132.6 640L1136.1 638.4L1139.7 636.9L1143.3 635.4L1146.8 634L1150.4 632.6L1153.9 631.3L1157.5 630.1L1161.1 629L1164.6 627.9L1168.2 627L1171.7 626.1L1175.3 625.3L1178.9 624.6L1182.4 624L1186 623.5L1189.5 623.1L1193.1 622.8L1196.7 622.7L1200.2 622.6L1203.8 622.6L1207.4 622.8L1210.9 623L1214.5 623.2L1218 623.6L1221.6 624.1L1225.2 624.6L1228.7 625.2L1232.3 625.9L1235.8 626.6L1239.4 627.5L1243 628.4L1246.5 629.3L1250.1 630.4L1253.7 631.5L1257.2 632.7L1260.8 634L1264.3 635.3L1267.9 636.7L1271.5 638.1L1275 639.6L1278.6 641.2L1282.1 642.8L1285.7 644.5L1289.3 646.2L1292.8 648L1296.4 649.8L1299.9 651.6L1303.5 653.6L1307.1 655.5L1310.6 657.5L1314.2 659.5L1317.8 661.5L1321.3 663.6L1324.9 665.7L1328.4 667.9L1332 670L1335.6 672.2L1339.1 674.4L1342.7 676.6L1346.2 678.8L1349.8 681L1353.4 683.3L1356.9 685.5L1360.5 687.7L1364 690L1367.6 692.2L1371.2 694.5L1374.7 696.7L1378.3 698.9L1381.9 701.1L1385.4 703.4L1389 705.6L1392.5 707.7L1396.1 709.9L1399.7 712L1403.2 714.2L1406.8 716.3L1410.3 718.4L1413.9 720.4L1417.5 722.4L1421 724.5L1424.6 726.4L1428.2 728.4L1431.7 730.3L1435.3 732.2L1438.8 734.1L1442.4 735.9L1446 737.7L1449.5 739.4L1453.1 741.2L1456.6 742.9L1460.2 744.5L1463.8 746.1L1467.3 747.7L1470.9 749.3L1474.4 750.8L1478 752.3L1481.6 753.7L1485.1 755.1L1488.7 756.5L1492.3 757.8L1495.8 759.1L1499.4 760.4L1502.9 761.6L1506.5 762.8L1510.1 763.9L1513.6 765.1L1517.2 766.1L1520.7 767.2L1524.3 768.2L1527.9 769.2L1531.4 770.1L1535 771.1L1538.5 772L1542.1 772.8L1545.7 773.6L1549.2 774.4L1552.8 775.2L1556.4 776L1559.9 776.7L1563.5 777.4L1567 778L1570.6 778.6L1574.2 779.3L1577.7 779.8L1581.3 780.4L1584.8 780.9L1588.4 781.4L1592 781.9L1595.5 782.4L1599.1 782.9L1602.6 783.3L1606.2 783.7L1609.8 784.1L1613.3 784.5L1616.9 784.8L1620.5 785.2L1624 785.5L1627.6 785.8L1631.1 786.1L1634.7 786.4L1638.3 786.6L1641.8 786.9L1645.4 787.1L1648.9 787.4L1652.5 787.5L1656.1 787.5L1659.6 787.5L1663.2 787.5L1666.8 787.5L1670.3 787.5L1673.9 787.5L1677.4 787.5L1681 787.5L1684.6 787.5L1688.1 787.5L1691.7 787.5L1695.2 787.5L1698.8 787.5L1702.4 787.5L1702.4 787.5" fill="none" stroke="#fff" stroke-width="1.4"/>
</g>
<g stroke-width="1.5" fill="none">
<path d="M1364.3 793.3V841.6M1366.1 793.3V841.6M1432 793.3V841.6M1442.7 793.3V841.6" stroke="#184030"/>
<path d="M1359 793.3V841.6M1376.8 793.3V841.6M1378.6 793.3V841.6M1392.8 793.3V841.6M1407.1 793.3V841.6" stroke="#203840"/>
<path d="M1319.8 793.3V841.6M1321.6 793.3V841.6M1332.3 793.3V841.6M1337.6 793.3V841.6M1348.3 793.3V841.6M1380.4 793.3V841.6M1382.1 793.3V841.6M1383.9 793.3V841.6M1394.6 793.3V841.6M1433.8 793.3V841.6M1437.3 793.3V841.6" stroke="#303020"/>
<path d="M1305.6 793.3V841.6" stroke="#303058"/>
<path d="M1213 793.3V841.6M1220.1 793.3V841.6M1223.7 793.3V841.6" stroke="#481838"/>
<path d="M1316.3 793.3V841.6M1339.4 793.3V841.6M1341.2 793.3V841.6" stroke="#483028"/>
<path d="M1343 793.3V841.6M1344.7 793.3V841.6M1346.5 793.3V841.6M1355.4 793.3V841.6M1357.2 793.3V841.6M1385.7 793.3V841.6M1391 793.3V841.6M1401.7 793.3V841.6M1408.8 793.3V841.6M1410.6 793.3V841.6M1419.5 793.3V841.6M1421.3 793.3V841.6M1430.2 793.3V841.6M1435.6 793.3V841.6M1446.2 793.3V841.6M1460.5 793.3V841.6M1462.3 793.3V841.6M1478.3 793.3V841.6M1494.3 793.3V841.6" stroke="#508070"/>
<path d="M1134.6 793.3V841.6M1136.4 793.3V841.6M1154.2 793.3V841.6M1161.3 793.3V841.6M1170.2 793.3V841.6M1186.3 793.3V841.6M1205.9 793.3V841.6" stroke="#601028"/>
<path d="M1369.7 793.3V841.6M1375 793.3V841.6M1455.1 793.3V841.6" stroke="#603018"/>
<path d="M1177.4 793.3V841.6M1179.1 793.3V841.6M1211.2 793.3V841.6M1227.2 793.3V841.6M1232.6 793.3V841.6M1246.8 793.3V841.6M1273.5 793.3V841.6M1278.9 793.3V841.6M1280.6 793.3V841.6M1282.4 793.3V841.6M1284.2 793.3V841.6M1291.3 793.3V841.6M1310.9 793.3V841.6M1312.7 793.3V841.6M1323.4 793.3V841.6M1367.9 793.3V841.6M1396.4 793.3V841.6M1398.2 793.3V841.6M1414.2 793.3V841.6M1416 793.3V841.6M1540.6 793.3V841.6M1655.5 793.3V841.6" stroke="#707098"/>
<path d="M1037.6 793.3V841.6M1078.5 793.3V841.6M1093.7 793.3V841.6M1098.1 793.3V841.6M1113.3 793.3V841.6M1116.8 793.3V841.6M1138.2 793.3V841.6M1143.5 793.3V841.6M1147.1 793.3V841.6M1150.7 793.3V841.6M1156 793.3V841.6M1166.7 793.3V841.6M1172 793.3V841.6M1195.2 793.3V841.6M1197 793.3V841.6M1200.5 793.3V841.6M1202.3 793.3V841.6M1204.1 793.3V841.6M1216.5 793.3V841.6M1724.9 793.3V841.6" stroke="#a04060"/>
<path d="M1250.4 793.3V841.6M1271.7 793.3V841.6M1275.3 793.3V841.6M1287.8 793.3V841.6M1296.7 793.3V841.6M1302 793.3V841.6M1318 793.3V841.6M1326.9 793.3V841.6M1335.8 793.3V841.6M1353.6 793.3V841.6M1360.8 793.3V841.6M1389.3 793.3V841.6M1399.9 793.3V841.6M1403.5 793.3V841.6M1440.9 793.3V841.6M1458.7 793.3V841.6M1469.4 793.3V841.6M1474.7 793.3V841.6" stroke="#a06848"/>
</g>
<g stroke="#000" fill="none">
<rect x="981.5" y="483.7" width="890.3" height="363.5" stroke-width="4.4"/>
<path d="M981.5 787.5H1871.8" stroke-width="4.4"/>
<path d="M1871.8 787.5h-6.2M1871.8 753.8h-6.2M1871.8 720.1h-6.2M1871.8 686.5h-6.2M1871.8 652.8h-6.2M1871.8 619.1h-6.2M1871.8 585.4h-6.2M1871.8 551.7h-6.2M1871.8 518.1h-6.2M1871.8 484.4h-6.2M981.5 847.2v-6.8M1070.5 847.2v-6.8M1159.6 847.2v-6.8M1248.6 847.2v-6.8M1337.6 847.2v-6.8M1426.7 847.2v-6.8M1515.7 847.2v-6.8M1604.7 847.2v-6.8M1693.7 847.2v-6.8M1782.8 847.2v-6.8M1871.8 847.2v-6.8" stroke-width="4.2"/>
<path d="M1871.8 770.7h-3.3M1871.8 737h-3.3M1871.8 703.3h-3.3M1871.8 669.6h-3.3M1871.8 635.9h-3.3M1871.8 602.3h-3.3M1871.8 568.6h-3.3M1871.8 534.9h-3.3M1871.8 501.2h-3.3M1026 847.2v-3.3M1115 847.2v-3.3M1204.1 847.2v-3.3M1293.1 847.2v-3.3M1382.1 847.2v-3.3M1471.2 847.2v-3.3M1560.2 847.2v-3.3M1649.2 847.2v-3.3M1738.3 847.2v-3.3M1827.3 847.2v-3.3" stroke-width="3.4"/>
</g>
<g>
<text x="1878.4" y="797.9">0.0</text>
<text x="1878.4" y="764.2">0.1</text>
<text x="1878.4" y="730.5">0.2</text>
<text x="1878.4" y="696.9">0.3</text>
<text x="1878.4" y="663.2">0.4</text>
<text x="1878.4" y="629.5">0.5</text>
<text x="1878.4" y="595.8">0.6</text>
<text x="1878.4" y="562.1">0.7</text>
<text x="1878.4" y="528.5">0.8</text>
<text x="1878.4" y="494.8">0.9</text>
<text x="1070.5" y="881.2" text-anchor="middle">150</text>
<text x="1159.6" y="881.2" text-anchor="middle">200</text>
<text x="1248.6" y="881.2" text-anchor="middle">250</text>
<text x="1337.6" y="881.2" text-anchor="middle">300</text>
<text x="1426.7" y="881.2" text-anchor="middle">350</text>
<text x="1515.7" y="881.2" text-anchor="middle">400</text>
<text x="1604.7" y="881.2" text-anchor="middle">450</text>
<text x="1693.7" y="881.2" text-anchor="middle">500</text>
<text x="1782.8" y="881.2" text-anchor="middle">550</text>
<text x="1871.8" y="881.2" text-anchor="middle">600</text>
<text x="1920.1" y="879.6" style="font-size:36px">MPa</text>
<text transform="translate(1968.2 636.6) rotate(-90)" text-anchor="middle">Density</text>
<text x="1424.2" y="924.7" text-anchor="middle">W/B0.4 90d</text>
</g>
<g>
<rect x="1012.3" y="496.5" width="78" height="35.5" fill="#06482f" opacity="0.63"/>
<text x="1103.9" y="527.4">0%</text>
<rect x="1160.2" y="496.5" width="78" height="35.5" fill="#622900" opacity="0.63"/>
<text x="1252.1" y="527.4">10%</text>
<rect x="1326.6" y="496.5" width="78" height="35.5" fill="#2f294f" opacity="0.63"/>
<text x="1408.7" y="527.4">20%</text>
<rect x="1484.2" y="496.5" width="78" height="35.5" fill="#72093f" opacity="0.63"/>
<text x="1575.6" y="527.4">30%</text>
</g>
</g>
<g id="panel5">
<clipPath id="cp4"><rect x="91.7" y="952.9" width="889.8" height="304.5"/></clipPath>
<g clip-path="url(#cp4)" stroke-linejoin="round">
<path d="M73.9 1252.2L73.9 1217.8L77.5 1216.5L81 1215.2L84.6 1213.8L88.1 1212.3L91.7 1210.8L95.3 1209.2L98.8 1207.5L102.4 1205.7L105.9 1203.8L109.5 1201.8L113.1 1199.8L116.6 1197.6L120.2 1195.3L123.7 1192.9L127.3 1190.3L130.9 1187.6L134.4 1184.8L138 1181.8L141.5 1178.7L145.1 1175.4L148.6 1171.9L152.2 1168.2L155.8 1164.3L159.3 1160.2L162.9 1155.9L166.4 1151.3L170 1146.6L173.6 1141.6L177.1 1136.3L180.7 1130.8L184.2 1125L187.8 1119L191.4 1112.7L194.9 1106.2L198.5 1099.5L202 1092.6L205.6 1085.5L209.2 1078.3L212.7 1071.1L216.3 1063.9L219.8 1056.8L223.4 1049.9L226.9 1043.4L230.5 1037.5L234.1 1032.2L237.6 1028L241.2 1025L244.7 1023.5L248.3 1023.7L251.9 1025.9L255.4 1029.7L259 1035L262.5 1041.7L266.1 1049.6L269.7 1058.3L273.2 1067.7L276.8 1077.7L280.3 1088L283.9 1098.5L287.5 1109.1L291 1119.5L294.6 1129.7L298.1 1139.6L301.7 1149.1L305.3 1158.2L308.8 1166.8L312.4 1174.9L315.9 1182.5L319.5 1189.6L323 1196.1L326.6 1202.2L330.2 1207.7L333.7 1212.8L337.3 1217.4L340.8 1221.6L344.4 1225.4L348 1228.8L351.5 1231.9L355.1 1234.7L358.6 1237.2L362.2 1239.4L365.8 1241.4L369.3 1243.2L372.9 1244.7L376.4 1246.1L380 1247.4L383.6 1248.5L387.1 1249.4L390.7 1250.3L394.2 1251L397.8 1251.7L401.4 1252.2L404.9 1252.2L408.5 1252.2L412 1252.2L415.6 1252.2L419.1 1252.2L422.7 1252.2L426.3 1252.2L429.8 1252.2L429.8 1252.2Z" fill="#0f704f" opacity="0.63"/>
<path d="M75.9 1256.4L75.9 1222L79.5 1220.7L83 1219.4L86.6 1218L90.1 1216.5L93.7 1215L97.3 1213.4L100.8 1211.7L104.4 1209.9L107.9 1208L111.5 1206L115.1 1204L118.6 1201.8L122.2 1199.5L125.7 1197.1L129.3 1194.5L132.9 1191.8L136.4 1189L140 1186L143.5 1182.9L147.1 1179.6L150.6 1176.1L154.2 1172.4L157.8 1168.5L161.3 1164.4L164.9 1160.1L168.4 1155.5L172 1150.8L175.6 1145.8L179.1 1140.5L182.7 1135L186.2 1129.2L189.8 1123.2L193.4 1116.9L196.9 1110.4L200.5 1103.7L204 1096.8L207.6 1089.7L211.2 1082.5L214.7 1075.3L218.3 1068.1L221.8 1061L225.4 1054.1L228.9 1047.6L232.5 1041.7L236.1 1036.4L239.6 1032.2L243.2 1029.2L246.7 1027.7L250.3 1027.9L253.9 1030.1L257.4 1033.9L261 1039.2L264.5 1045.9L268.1 1053.8L271.7 1062.5L275.2 1071.9L278.8 1081.9L282.3 1092.2L285.9 1102.7L289.5 1113.3L293 1123.7L296.6 1133.9L300.1 1143.8L303.7 1153.3L307.3 1162.4L310.8 1171L314.4 1179.1L317.9 1186.7L321.5 1193.8L325 1200.3L328.6 1206.4L332.2 1211.9L335.7 1217L339.3 1221.6L342.8 1225.8L346.4 1229.6L350 1233L353.5 1236.1L357.1 1238.9L360.6 1241.4L364.2 1243.6L367.8 1245.6L371.3 1247.4L374.9 1248.9L378.4 1250.3L382 1251.6L385.6 1252.7L389.1 1253.6L392.7 1254.5L396.2 1255.2L399.8 1255.9L403.4 1256.4L406.9 1256.4L410.5 1256.4L414 1256.4L417.6 1256.4L421.1 1256.4L424.7 1256.4L428.3 1256.4L431.8 1256.4L431.8 1256.4" fill="none" stroke="#fff" stroke-width="1.4"/>
<path d="M73.9 1252.2L73.9 1246.6L77.5 1245.1L81 1243.5L84.6 1241.6L88.1 1239.6L91.7 1237.3L95.3 1234.8L98.8 1232.1L102.4 1229.1L105.9 1225.8L109.5 1222.2L113.1 1218.4L116.6 1214.3L120.2 1209.8L123.7 1205.1L127.3 1200.1L130.9 1194.7L134.4 1189.1L138 1183.3L141.5 1177.1L145.1 1170.8L148.6 1164.2L152.2 1157.4L155.8 1150.5L159.3 1143.5L162.9 1136.4L166.4 1129.3L170 1122.2L173.6 1115.2L177.1 1108.2L180.7 1101.5L184.2 1095L187.8 1088.7L191.4 1082.8L194.9 1077.2L198.5 1072.1L202 1067.4L205.6 1063.3L209.2 1059.7L212.7 1056.6L216.3 1054.3L219.8 1052.5L223.4 1051.4L226.9 1051L230.5 1051.2L234.1 1052.2L237.6 1054L241.2 1056.5L244.7 1059.6L248.3 1063.5L251.9 1067.9L255.4 1072.9L259 1078.5L262.5 1084.5L266.1 1090.9L269.7 1097.7L273.2 1104.7L276.8 1112L280.3 1119.4L283.9 1126.9L287.5 1134.4L291 1142L294.6 1149.4L298.1 1156.8L301.7 1163.9L305.3 1170.9L308.8 1177.6L312.4 1184.1L315.9 1190.3L319.5 1196.2L323 1201.7L326.6 1207L330.2 1211.9L333.7 1216.4L337.3 1220.6L340.8 1224.5L344.4 1228.1L348 1231.4L351.5 1234.3L355.1 1237L358.6 1239.4L362.2 1241.6L365.8 1243.6L369.3 1245.3L372.9 1246.8L376.4 1248.2L380 1249.3L383.6 1250.4L387.1 1251.3L390.7 1252.1L394.2 1252.2L397.8 1252.2L401.4 1252.2L404.9 1252.2L408.5 1252.2L412 1252.2L412 1252.2Z" fill="#933d00" opacity="0.63"/>
<path d="M75.9 1256.4L75.9 1250.8L79.5 1249.3L83 1247.7L86.6 1245.8L90.1 1243.8L93.7 1241.5L97.3 1239L100.8 1236.3L104.4 1233.3L107.9 1230L111.5 1226.4L115.1 1222.6L118.6 1218.5L122.2 1214L125.7 1209.3L129.3 1204.3L132.9 1198.9L136.4 1193.3L140 1187.5L143.5 1181.3L147.1 1175L150.6 1168.4L154.2 1161.6L157.8 1154.7L161.3 1147.7L164.9 1140.6L168.4 1133.5L172 1126.4L175.6 1119.4L179.1 1112.4L182.7 1105.7L186.2 1099.2L189.8 1092.9L193.4 1087L196.9 1081.4L200.5 1076.3L204 1071.6L207.6 1067.5L211.2 1063.9L214.7 1060.8L218.3 1058.5L221.8 1056.7L225.4 1055.6L228.9 1055.2L232.5 1055.4L236.1 1056.4L239.6 1058.2L243.2 1060.7L246.7 1063.8L250.3 1067.7L253.9 1072.1L257.4 1077.1L261 1082.7L264.5 1088.7L268.1 1095.1L271.7 1101.9L275.2 1108.9L278.8 1116.2L282.3 1123.6L285.9 1131.1L289.5 1138.6L293 1146.2L296.6 1153.6L300.1 1161L303.7 1168.1L307.3 1175.1L310.8 1181.8L314.4 1188.3L317.9 1194.5L321.5 1200.4L325 1205.9L328.6 1211.2L332.2 1216.1L335.7 1220.6L339.3 1224.8L342.8 1228.7L346.4 1232.3L350 1235.6L353.5 1238.5L357.1 1241.2L360.6 1243.6L364.2 1245.8L367.8 1247.8L371.3 1249.5L374.9 1251L378.4 1252.4L382 1253.5L385.6 1254.6L389.1 1255.5L392.7 1256.3L396.2 1256.4L399.8 1256.4L403.4 1256.4L406.9 1256.4L410.5 1256.4L414 1256.4L414 1256.4" fill="none" stroke="#fff" stroke-width="1.4"/>
<path d="M73.9 1252.2L73.9 1159.4L77.5 1155.8L81 1152.2L84.6 1148.5L88.1 1144.9L91.7 1141.2L95.3 1137.6L98.8 1133.9L102.4 1130.3L105.9 1126.8L109.5 1123.3L113.1 1119.8L116.6 1116.4L120.2 1113.1L123.7 1109.8L127.3 1106.7L130.9 1103.6L134.4 1100.7L138 1097.8L141.5 1095.1L145.1 1092.5L148.6 1090.1L152.2 1087.8L155.8 1085.7L159.3 1083.7L162.9 1081.9L166.4 1080.3L170 1078.8L173.6 1077.6L177.1 1076.5L180.7 1075.6L184.2 1074.9L187.8 1074.4L191.4 1074.1L194.9 1074L198.5 1074.1L202 1074.3L205.6 1074.7L209.2 1075.3L212.7 1076L216.3 1076.9L219.8 1077.9L223.4 1079.1L226.9 1080.4L230.5 1081.9L234.1 1083.5L237.6 1085.2L241.2 1087.1L244.7 1089.1L248.3 1091.2L251.9 1093.4L255.4 1095.8L259 1098.2L262.5 1100.7L266.1 1103.4L269.7 1106.1L273.2 1108.9L276.8 1111.8L280.3 1114.8L283.9 1117.8L287.5 1120.8L291 1124L294.6 1127.1L298.1 1130.3L301.7 1133.5L305.3 1136.8L308.8 1140.1L312.4 1143.3L315.9 1146.6L319.5 1149.9L323 1153.1L326.6 1156.4L330.2 1159.6L333.7 1162.9L337.3 1166L340.8 1169.2L344.4 1172.3L348 1175.4L351.5 1178.4L355.1 1181.4L358.6 1184.4L362.2 1187.2L365.8 1190.1L369.3 1192.8L372.9 1195.5L376.4 1198.2L380 1200.7L383.6 1203.2L387.1 1205.7L390.7 1208.1L394.2 1210.3L397.8 1212.6L401.4 1214.7L404.9 1216.8L408.5 1218.8L412 1220.7L415.6 1222.6L419.1 1224.4L422.7 1226.1L426.3 1227.7L429.8 1229.3L433.4 1230.8L436.9 1232.2L440.5 1233.6L444.1 1234.9L447.6 1236.1L451.2 1237.2L454.7 1238.3L458.3 1239.3L461.9 1240.2L465.4 1241.1L469 1241.9L472.5 1242.7L476.1 1243.4L479.7 1244L483.2 1244.6L486.8 1245.1L490.3 1245.6L493.9 1246L497.4 1246.4L501 1246.8L504.6 1247.1L508.1 1247.4L511.7 1247.7L515.2 1247.9L518.8 1248.2L522.4 1248.4L525.9 1248.6L529.5 1248.9L533 1249.1L536.6 1249.3L540.2 1249.6L543.7 1249.8L547.3 1250.1L550.8 1250.4L554.4 1250.7L558 1251L561.5 1251.3L565.1 1251.6L568.6 1251.9L572.2 1252.2L575.8 1252.2L579.3 1252.2L582.9 1252.2L586.4 1252.2L590 1252.2L593.5 1252.2L597.1 1252.2L600.7 1252.2L604.2 1252.2L607.8 1252.2L611.3 1252.2L611.3 1252.2Z" fill="#483d85" opacity="0.63"/>
<path d="M75.9 1256.4L75.9 1163.6L79.5 1160L83 1156.4L86.6 1152.7L90.1 1149.1L93.7 1145.4L97.3 1141.8L100.8 1138.1L104.4 1134.5L107.9 1131L111.5 1127.5L115.1 1124L118.6 1120.6L122.2 1117.3L125.7 1114L129.3 1110.9L132.9 1107.8L136.4 1104.9L140 1102L143.5 1099.3L147.1 1096.7L150.6 1094.3L154.2 1092L157.8 1089.9L161.3 1087.9L164.9 1086.1L168.4 1084.5L172 1083L175.6 1081.8L179.1 1080.7L182.7 1079.8L186.2 1079.1L189.8 1078.6L193.4 1078.3L196.9 1078.2L200.5 1078.3L204 1078.5L207.6 1078.9L211.2 1079.5L214.7 1080.2L218.3 1081.1L221.8 1082.1L225.4 1083.3L228.9 1084.6L232.5 1086.1L236.1 1087.7L239.6 1089.4L243.2 1091.3L246.7 1093.3L250.3 1095.4L253.9 1097.6L257.4 1100L261 1102.4L264.5 1104.9L268.1 1107.6L271.7 1110.3L275.2 1113.1L278.8 1116L282.3 1119L285.9 1122L289.5 1125L293 1128.2L296.6 1131.3L300.1 1134.5L303.7 1137.7L307.3 1141L310.8 1144.3L314.4 1147.5L317.9 1150.8L321.5 1154.1L325 1157.3L328.6 1160.6L332.2 1163.8L335.7 1167.1L339.3 1170.2L342.8 1173.4L346.4 1176.5L350 1179.6L353.5 1182.6L357.1 1185.6L360.6 1188.6L364.2 1191.4L367.8 1194.3L371.3 1197L374.9 1199.7L378.4 1202.4L382 1204.9L385.6 1207.4L389.1 1209.9L392.7 1212.3L396.2 1214.5L399.8 1216.8L403.4 1218.9L406.9 1221L410.5 1223L414 1224.9L417.6 1226.8L421.1 1228.6L424.7 1230.3L428.3 1231.9L431.8 1233.5L435.4 1235L438.9 1236.4L442.5 1237.8L446.1 1239.1L449.6 1240.3L453.2 1241.4L456.7 1242.5L460.3 1243.5L463.9 1244.4L467.4 1245.3L471 1246.1L474.5 1246.9L478.1 1247.6L481.7 1248.2L485.2 1248.8L488.8 1249.3L492.3 1249.8L495.9 1250.2L499.4 1250.6L503 1251L506.6 1251.3L510.1 1251.6L513.7 1251.9L517.2 1252.1L520.8 1252.4L524.4 1252.6L527.9 1252.8L531.5 1253.1L535 1253.3L538.6 1253.5L542.2 1253.8L545.7 1254L549.3 1254.3L552.8 1254.6L556.4 1254.9L560 1255.2L563.5 1255.5L567.1 1255.8L570.6 1256.1L574.2 1256.4L577.8 1256.4L581.3 1256.4L584.9 1256.4L588.4 1256.4L592 1256.4L595.5 1256.4L599.1 1256.4L602.7 1256.4L606.2 1256.4L609.8 1256.4L613.3 1256.4L613.3 1256.4" fill="none" stroke="#fff" stroke-width="1.4"/>
<path d="M73.9 1252.2L73.9 1186.2L77.5 1179.5L81 1172.5L84.6 1165.3L88.1 1157.7L91.7 1149.9L95.3 1141.8L98.8 1133.6L102.4 1125.2L105.9 1116.8L109.5 1108.3L113.1 1099.9L116.6 1091.6L120.2 1083.4L123.7 1075.5L127.3 1067.9L130.9 1060.6L134.4 1053.8L138 1047.4L141.5 1041.6L145.1 1036.5L148.6 1032L152.2 1028.1L155.8 1025.1L159.3 1022.8L162.9 1021.3L166.4 1020.7L170 1020.9L173.6 1021.9L177.1 1023.8L180.7 1026.6L184.2 1030.1L187.8 1034.5L191.4 1039.5L194.9 1045.2L198.5 1051.6L202 1058.5L205.6 1065.8L209.2 1073.6L212.7 1081.7L216.3 1090.1L219.8 1098.6L223.4 1107.3L226.9 1116L230.5 1124.7L234.1 1133.3L237.6 1141.8L241.2 1150.1L244.7 1158.2L248.3 1165.9L251.9 1173.4L255.4 1180.6L259 1187.3L262.5 1193.8L266.1 1199.8L269.7 1205.4L273.2 1210.7L276.8 1215.5L280.3 1220L283.9 1224.1L287.5 1227.9L291 1231.3L294.6 1234.3L298.1 1237.1L301.7 1239.6L305.3 1241.8L308.8 1243.8L312.4 1245.6L315.9 1247.1L319.5 1248.4L323 1249.6L326.6 1250.7L330.2 1251.5L333.7 1252.2L337.3 1252.2L340.8 1252.2L344.4 1252.2L348 1252.2L351.5 1252.2L355.1 1252.2L355.1 1252.2Z" fill="#a9115f" opacity="0.63"/>
<path d="M75.9 1256.4L75.9 1190.4L79.5 1183.7L83 1176.7L86.6 1169.5L90.1 1161.9L93.7 1154.1L97.3 1146L100.8 1137.8L104.4 1129.4L107.9 1121L111.5 1112.5L115.1 1104.1L118.6 1095.8L122.2 1087.6L125.7 1079.7L129.3 1072.1L132.9 1064.8L136.4 1058L140 1051.6L143.5 1045.8L147.1 1040.7L150.6 1036.2L154.2 1032.3L157.8 1029.3L161.3 1027L164.9 1025.5L168.4 1024.9L172 1025.1L175.6 1026.1L179.1 1028L182.7 1030.8L186.2 1034.3L189.8 1038.7L193.4 1043.7L196.9 1049.4L200.5 1055.8L204 1062.7L207.6 1070L211.2 1077.8L214.7 1085.9L218.3 1094.3L221.8 1102.8L225.4 1111.5L228.9 1120.2L232.5 1128.9L236.1 1137.5L239.6 1146L243.2 1154.3L246.7 1162.4L250.3 1170.1L253.9 1177.6L257.4 1184.8L261 1191.5L264.5 1198L268.1 1204L271.7 1209.6L275.2 1214.9L278.8 1219.7L282.3 1224.2L285.9 1228.3L289.5 1232.1L293 1235.5L296.6 1238.5L300.1 1241.3L303.7 1243.8L307.3 1246L310.8 1248L314.4 1249.8L317.9 1251.3L321.5 1252.6L325 1253.8L328.6 1254.9L332.2 1255.7L335.7 1256.4L339.3 1256.4L342.8 1256.4L346.4 1256.4L350 1256.4L353.5 1256.4L357.1 1256.4L357.1 1256.4" fill="none" stroke="#fff" stroke-width="1.4"/>
</g>
<g stroke-width="1.5" fill="none">
<path d="M207.4 1262.2V1310.4M210.9 1262.2V1310.4M230.5 1262.2V1310.4M271.4 1262.2V1310.4M276.8 1262.2V1310.4" stroke="#205040"/>
<path d="M234.1 1262.2V1310.4M243 1262.2V1310.4M253.6 1262.2V1310.4M257.2 1262.2V1310.4M264.3 1262.2V1310.4M273.2 1262.2V1310.4M294.6 1262.2V1310.4" stroke="#304858"/>
<path d="M122 1262.2V1310.4M130.9 1262.2V1310.4M196.7 1262.2V1310.4M203.8 1262.2V1310.4M251.9 1262.2V1310.4M282.1 1262.2V1310.4" stroke="#404078"/>
<path d="M189.6 1262.2V1310.4M214.5 1262.2V1310.4M218.1 1262.2V1310.4M237.6 1262.2V1310.4M241.2 1262.2V1310.4M244.7 1262.2V1310.4M255.4 1262.2V1310.4M291 1262.2V1310.4M298.1 1262.2V1310.4M303.5 1262.2V1310.4" stroke="#484828"/>
<path d="M191.4 1262.2V1310.4M202 1262.2V1310.4M221.6 1262.2V1310.4M250.1 1262.2V1310.4" stroke="#503850"/>
<path d="M173.6 1262.2V1310.4M212.7 1262.2V1310.4M248.3 1262.2V1310.4M285.7 1262.2V1310.4" stroke="#604030"/>
<path d="M198.5 1262.2V1310.4M226.9 1262.2V1310.4M275 1262.2V1310.4M287.5 1262.2V1310.4M307 1262.2V1310.4M323 1262.2V1310.4M331.9 1262.2V1310.4M355.1 1262.2V1310.4M361.3 1262.2V1310.4" stroke="#609080"/>
<path d="M111.3 1262.2V1310.4M118.4 1262.2V1310.4M123.7 1262.2V1310.4M132.6 1262.2V1310.4M138 1262.2V1310.4M145.1 1262.2V1310.4M154 1262.2V1310.4M164.7 1262.2V1310.4M166.4 1262.2V1310.4M175.3 1262.2V1310.4M225.2 1262.2V1310.4M232.3 1262.2V1310.4M259 1262.2V1310.4M269.7 1262.2V1310.4" stroke="#703068"/>
<path d="M114.8 1262.2V1310.4M127.3 1262.2V1310.4M136.2 1262.2V1310.4M170 1262.2V1310.4M262.5 1262.2V1310.4M301.7 1262.2V1310.4M308.8 1262.2V1310.4M364 1262.2V1310.4M433.4 1262.2V1310.4M469.9 1262.2V1310.4M622 1262.2V1310.4M817.8 1262.2V1310.4" stroke="#8080b0"/>
<path d="M228.7 1262.2V1310.4M278.6 1262.2V1310.4M292.8 1262.2V1310.4" stroke="#903818"/>
<path d="M146.9 1262.2V1310.4M148.6 1262.2V1310.4M159.3 1262.2V1310.4M161.1 1262.2V1310.4M193.1 1262.2V1310.4M194.9 1262.2V1310.4M205.6 1262.2V1310.4M216.3 1262.2V1310.4M223.4 1262.2V1310.4" stroke="#a03028"/>
<path d="M107.7 1262.2V1310.4M141.5 1262.2V1310.4M143.3 1262.2V1310.4M150.4 1262.2V1310.4M157.5 1262.2V1310.4M177.1 1262.2V1310.4M178.9 1262.2V1310.4M186 1262.2V1310.4M187.8 1262.2V1310.4M235.8 1262.2V1310.4M239.4 1262.2V1310.4" stroke="#b02858"/>
<path d="M180.7 1262.2V1310.4M184.2 1262.2V1310.4M266.1 1262.2V1310.4M267.9 1262.2V1310.4M299.9 1262.2V1310.4M317.7 1262.2V1310.4M334.6 1262.2V1310.4M375.5 1262.2V1310.4M383.6 1262.2V1310.4M397.8 1262.2V1310.4M482.3 1262.2V1310.4" stroke="#c07848"/>
<path d="M109.5 1262.2V1310.4M113.1 1262.2V1310.4M116.6 1262.2V1310.4M129.1 1262.2V1310.4M139.7 1262.2V1310.4M162.9 1262.2V1310.4M168.2 1262.2V1310.4M209.2 1262.2V1310.4M219.8 1262.2V1310.4M246.5 1262.2V1310.4M341.7 1262.2V1310.4" stroke="#d06098"/>
</g>
<g stroke="#000" fill="none">
<rect x="91.7" y="952.9" width="889.8" height="363.1" stroke-width="4.4"/>
<path d="M91.7 1256.4H981.5" stroke-width="4.4"/>
<path d="M91.7 1256.4h6.2M91.7 1222.7h6.2M91.7 1189h6.2M91.7 1155.4h6.2M91.7 1121.7h6.2M91.7 1088h6.2M91.7 1054.3h6.2M91.7 1020.6h6.2M91.7 987h6.2M91.7 953.3h6.2M91.7 1316v-6.8M180.7 1316v-6.8M269.7 1316v-6.8M358.6 1316v-6.8M447.6 1316v-6.8M536.6 1316v-6.8M625.6 1316v-6.8M714.6 1316v-6.8M803.5 1316v-6.8M892.5 1316v-6.8M981.5 1316v-6.8" stroke-width="4.2"/>
<path d="M91.7 1239.6h3.3M91.7 1205.9h3.3M91.7 1172.2h3.3M91.7 1138.5h3.3M91.7 1104.8h3.3M91.7 1071.2h3.3M91.7 1037.5h3.3M91.7 1003.8h3.3M91.7 970.1h3.3M136.2 1316v-3.3M225.2 1316v-3.3M314.1 1316v-3.3M403.1 1316v-3.3M492.1 1316v-3.3M581.1 1316v-3.3M670.1 1316v-3.3M759 1316v-3.3M848 1316v-3.3M937 1316v-3.3" stroke-width="3.4"/>
</g>
<g>
<text x="83.6" y="1266.8" text-anchor="end">0.0</text>
<text x="83.6" y="1233.1" text-anchor="end">0.1</text>
<text x="83.6" y="1199.4" text-anchor="end">0.2</text>
<text x="83.6" y="1165.8" text-anchor="end">0.3</text>
<text x="83.6" y="1132.1" text-anchor="end">0.4</text>
<text x="83.6" y="1098.4" text-anchor="end">0.5</text>
<text x="83.6" y="1064.7" text-anchor="end">0.6</text>
<text x="83.6" y="1031" text-anchor="end">0.7</text>
<text x="83.6" y="997.4" text-anchor="end">0.8</text>
<text x="83.6" y="963.7" text-anchor="end">0.9</text>
<text x="91.7" y="1350" text-anchor="middle">100</text>
<text x="180.7" y="1350" text-anchor="middle">150</text>
<text x="269.7" y="1350" text-anchor="middle">200</text>
<text x="358.6" y="1350" text-anchor="middle">250</text>
<text x="447.6" y="1350" text-anchor="middle">300</text>
<text x="536.6" y="1350" text-anchor="middle">350</text>
<text x="625.6" y="1350" text-anchor="middle">400</text>
<text x="714.6" y="1350" text-anchor="middle">450</text>
<text x="803.5" y="1350" text-anchor="middle">500</text>
<text x="892.5" y="1350" text-anchor="middle">550</text>
<text x="981.5" y="1350" text-anchor="middle">600</text>
<text transform="translate(26.2 1104.2) rotate(-90)" text-anchor="middle">Density</text>
<text x="537.9" y="1397.6" text-anchor="middle">W/B0.6 28d</text>
</g>
<g>
<rect x="115.5" y="963.7" width="78" height="36.5" fill="#0f704f" opacity="0.63"/>
<text x="195.9" y="995.1">0%</text>
<rect x="245.6" y="963.7" width="78" height="36.5" fill="#933d00" opacity="0.63"/>
<text x="335.2" y="995.1">10%</text>
<rect x="412.6" y="963.7" width="78" height="36.5" fill="#483d85" opacity="0.63"/>
<text x="502" y="995.1">20%</text>
<rect x="579" y="963.7" width="78" height="36.5" fill="#a9115f" opacity="0.63"/>
<text x="670" y="995.1">30%</text>
</g>
</g>
<g id="panel6">
<clipPath id="cp5"><rect x="981.5" y="952.9" width="890.3" height="304.5"/></clipPath>
<g clip-path="url(#cp5)" stroke-linejoin="round">
<path d="M961.7 1252.4L961.7 1185.8L965.3 1182.3L968.8 1178.8L972.4 1175.1L975.9 1171.4L979.5 1167.5L983.1 1163.6L986.6 1159.5L990.2 1155.4L993.7 1151.2L997.3 1147L1000.9 1142.6L1004.4 1138.2L1008 1133.8L1011.6 1129.3L1015.1 1124.8L1018.7 1120.3L1022.2 1115.7L1025.8 1111.1L1029.4 1106.5L1032.9 1102L1036.5 1097.4L1040 1092.9L1043.6 1088.4L1047.2 1084L1050.7 1079.6L1054.3 1075.3L1057.8 1071.1L1061.4 1066.9L1065 1062.9L1068.5 1059L1072.1 1055.2L1075.7 1051.5L1079.2 1048L1082.8 1044.7L1086.3 1041.5L1089.9 1038.5L1093.5 1035.6L1097 1033L1100.6 1030.5L1104.1 1028.3L1107.7 1026.3L1111.3 1024.5L1114.8 1022.9L1118.4 1021.5L1121.9 1020.4L1125.5 1019.5L1129.1 1018.9L1132.6 1018.5L1136.2 1018.3L1139.8 1018.4L1143.3 1018.7L1146.9 1019.3L1150.4 1020.1L1154 1021.2L1157.6 1022.5L1161.1 1024L1164.7 1025.7L1168.2 1027.7L1171.8 1029.8L1175.4 1032.2L1178.9 1034.8L1182.5 1037.6L1186 1040.6L1189.6 1043.7L1193.2 1047L1196.7 1050.5L1200.3 1054.1L1203.9 1057.8L1207.4 1061.7L1211 1065.7L1214.5 1069.8L1218.1 1074L1221.7 1078.3L1225.2 1082.6L1228.8 1087.1L1232.3 1091.5L1235.9 1096.1L1239.5 1100.6L1243 1105.2L1246.6 1109.7L1250.2 1114.3L1253.7 1118.9L1257.3 1123.4L1260.8 1128L1264.4 1132.5L1268 1136.9L1271.5 1141.3L1275.1 1145.7L1278.6 1149.9L1282.2 1154.2L1285.8 1158.3L1289.3 1162.4L1292.9 1166.3L1296.4 1170.2L1300 1174L1303.6 1177.7L1307.1 1181.3L1310.7 1184.8L1314.3 1188.2L1317.8 1191.4L1321.4 1194.6L1324.9 1197.7L1328.5 1200.6L1332.1 1203.5L1335.6 1206.2L1339.2 1208.8L1342.7 1211.4L1346.3 1213.8L1349.9 1216.1L1353.4 1218.3L1357 1220.4L1360.5 1222.4L1364.1 1224.3L1367.7 1226.2L1371.2 1227.9L1374.8 1229.5L1378.4 1231.1L1381.9 1232.5L1385.5 1233.9L1389 1235.2L1392.6 1236.4L1396.2 1237.6L1399.7 1238.7L1403.3 1239.7L1406.8 1240.7L1410.4 1241.6L1414 1242.4L1417.5 1243.2L1421.1 1243.9L1424.7 1244.6L1428.2 1245.2L1431.8 1245.8L1435.3 1246.4L1438.9 1246.9L1442.5 1247.3L1446 1247.8L1449.6 1248.2L1453.1 1248.5L1456.7 1248.9L1460.3 1249.2L1463.8 1249.5L1467.4 1249.8L1470.9 1250L1474.5 1250.2L1478.1 1250.4L1481.6 1250.6L1485.2 1250.8L1488.8 1250.9L1488.8 1252.4Z" fill="#0f704f" opacity="0.63"/>
<path d="M963.7 1256.4L963.7 1189.8L967.3 1186.3L970.8 1182.8L974.4 1179.1L977.9 1175.4L981.5 1171.5L985.1 1167.6L988.6 1163.5L992.2 1159.4L995.7 1155.2L999.3 1151L1002.9 1146.6L1006.4 1142.2L1010 1137.8L1013.6 1133.3L1017.1 1128.8L1020.7 1124.3L1024.2 1119.7L1027.8 1115.1L1031.4 1110.5L1034.9 1106L1038.5 1101.4L1042 1096.9L1045.6 1092.4L1049.2 1088L1052.7 1083.6L1056.3 1079.3L1059.8 1075.1L1063.4 1070.9L1067 1066.9L1070.5 1063L1074.1 1059.2L1077.7 1055.5L1081.2 1052L1084.8 1048.7L1088.3 1045.5L1091.9 1042.5L1095.5 1039.6L1099 1037L1102.6 1034.5L1106.1 1032.3L1109.7 1030.3L1113.3 1028.5L1116.8 1026.9L1120.4 1025.5L1123.9 1024.4L1127.5 1023.5L1131.1 1022.9L1134.6 1022.5L1138.2 1022.3L1141.8 1022.4L1145.3 1022.7L1148.9 1023.3L1152.4 1024.1L1156 1025.2L1159.6 1026.5L1163.1 1028L1166.7 1029.7L1170.2 1031.7L1173.8 1033.8L1177.4 1036.2L1180.9 1038.8L1184.5 1041.6L1188 1044.6L1191.6 1047.7L1195.2 1051L1198.7 1054.5L1202.3 1058.1L1205.9 1061.8L1209.4 1065.7L1213 1069.7L1216.5 1073.8L1220.1 1078L1223.7 1082.3L1227.2 1086.6L1230.8 1091.1L1234.3 1095.5L1237.9 1100.1L1241.5 1104.6L1245 1109.2L1248.6 1113.7L1252.2 1118.3L1255.7 1122.9L1259.3 1127.4L1262.8 1132L1266.4 1136.5L1270 1140.9L1273.5 1145.3L1277.1 1149.7L1280.6 1153.9L1284.2 1158.2L1287.8 1162.3L1291.3 1166.4L1294.9 1170.3L1298.4 1174.2L1302 1178L1305.6 1181.7L1309.1 1185.3L1312.7 1188.8L1316.3 1192.2L1319.8 1195.4L1323.4 1198.6L1326.9 1201.7L1330.5 1204.6L1334.1 1207.5L1337.6 1210.2L1341.2 1212.8L1344.7 1215.4L1348.3 1217.8L1351.9 1220.1L1355.4 1222.3L1359 1224.4L1362.5 1226.4L1366.1 1228.3L1369.7 1230.2L1373.2 1231.9L1376.8 1233.5L1380.4 1235.1L1383.9 1236.5L1387.5 1237.9L1391 1239.2L1394.6 1240.4L1398.2 1241.6L1401.7 1242.7L1405.3 1243.7L1408.8 1244.7L1412.4 1245.6L1416 1246.4L1419.5 1247.2L1423.1 1247.9L1426.7 1248.6L1430.2 1249.2L1433.8 1249.8L1437.3 1250.4L1440.9 1250.9L1444.5 1251.3L1448 1251.8L1451.6 1252.2L1455.1 1252.5L1458.7 1252.9L1462.3 1253.2L1465.8 1253.5L1469.4 1253.8L1472.9 1254L1476.5 1254.2L1480.1 1254.4L1483.6 1254.6L1487.2 1254.8L1490.8 1254.9L1490.8 1256.4" fill="none" stroke="#fff" stroke-width="1.4"/>
<path d="M983.1 1252.4L983.1 1250.8L986.6 1250.4L990.2 1249.9L993.7 1249.4L997.3 1248.7L1000.9 1247.9L1004.4 1246.9L1008 1245.8L1011.6 1244.5L1015.1 1243L1018.7 1241.2L1022.2 1239.2L1025.8 1236.8L1029.4 1234.2L1032.9 1231.2L1036.5 1227.8L1040 1224L1043.6 1219.8L1047.2 1215.1L1050.7 1210L1054.3 1204.4L1057.8 1198.3L1061.4 1191.8L1065 1184.8L1068.5 1177.3L1072.1 1169.4L1075.7 1161.2L1079.2 1152.5L1082.8 1143.6L1086.3 1134.5L1089.9 1125.3L1093.5 1115.9L1097 1106.6L1100.6 1097.4L1104.1 1088.4L1107.7 1079.7L1111.3 1071.4L1114.8 1063.7L1118.4 1056.5L1121.9 1050.1L1125.5 1044.5L1129.1 1039.7L1132.6 1035.9L1136.2 1033L1139.8 1031.2L1143.3 1030.5L1146.9 1030.8L1150.4 1032.2L1154 1034.6L1157.6 1038L1161.1 1042.4L1164.7 1047.7L1168.2 1053.9L1171.8 1060.7L1175.4 1068.3L1178.9 1076.3L1182.5 1084.9L1186 1093.7L1189.6 1102.9L1193.2 1112.2L1196.7 1121.5L1200.3 1130.8L1203.9 1140L1207.4 1149L1211 1157.7L1214.5 1166.2L1218.1 1174.2L1221.7 1181.8L1225.2 1189L1228.8 1195.8L1232.3 1202L1235.9 1207.8L1239.5 1213.1L1243 1218L1246.6 1222.4L1250.2 1226.3L1253.7 1229.9L1257.3 1233L1260.8 1235.8L1264.4 1238.3L1268 1240.4L1271.5 1242.3L1275.1 1243.9L1278.6 1245.3L1282.2 1246.5L1285.8 1247.5L1289.3 1248.4L1292.9 1249.1L1296.4 1249.7L1300 1250.2L1303.6 1250.6L1307.1 1251L1307.1 1252.4Z" fill="#933d00" opacity="0.63"/>
<path d="M985.1 1256.4L985.1 1254.8L988.6 1254.4L992.2 1253.9L995.7 1253.4L999.3 1252.7L1002.9 1251.9L1006.4 1250.9L1010 1249.8L1013.6 1248.5L1017.1 1247L1020.7 1245.2L1024.2 1243.2L1027.8 1240.8L1031.4 1238.2L1034.9 1235.2L1038.5 1231.8L1042 1228L1045.6 1223.8L1049.2 1219.1L1052.7 1214L1056.3 1208.4L1059.8 1202.3L1063.4 1195.8L1067 1188.8L1070.5 1181.3L1074.1 1173.4L1077.7 1165.2L1081.2 1156.5L1084.8 1147.6L1088.3 1138.5L1091.9 1129.3L1095.5 1119.9L1099 1110.6L1102.6 1101.4L1106.1 1092.4L1109.7 1083.7L1113.3 1075.4L1116.8 1067.7L1120.4 1060.5L1123.9 1054.1L1127.5 1048.5L1131.1 1043.7L1134.6 1039.9L1138.2 1037L1141.8 1035.2L1145.3 1034.5L1148.9 1034.8L1152.4 1036.2L1156 1038.6L1159.6 1042L1163.1 1046.4L1166.7 1051.7L1170.2 1057.9L1173.8 1064.7L1177.4 1072.3L1180.9 1080.3L1184.5 1088.9L1188 1097.7L1191.6 1106.9L1195.2 1116.2L1198.7 1125.5L1202.3 1134.8L1205.9 1144L1209.4 1153L1213 1161.7L1216.5 1170.2L1220.1 1178.2L1223.7 1185.8L1227.2 1193L1230.8 1199.8L1234.3 1206L1237.9 1211.8L1241.5 1217.1L1245 1222L1248.6 1226.4L1252.2 1230.3L1255.7 1233.9L1259.3 1237L1262.8 1239.8L1266.4 1242.3L1270 1244.4L1273.5 1246.3L1277.1 1247.9L1280.6 1249.3L1284.2 1250.5L1287.8 1251.5L1291.3 1252.4L1294.9 1253.1L1298.4 1253.7L1302 1254.2L1305.6 1254.6L1309.1 1255L1309.1 1256.4" fill="none" stroke="#fff" stroke-width="1.4"/>
<path d="M961.7 1252.4L961.7 1188.9L965.3 1186.2L968.8 1183.4L972.4 1180.6L975.9 1177.8L979.5 1174.9L983.1 1172L986.6 1169L990.2 1166L993.7 1163.1L997.3 1160.1L1000.9 1157L1004.4 1154L1008 1151L1011.6 1148.1L1015.1 1145.1L1018.7 1142.1L1022.2 1139.2L1025.8 1136.3L1029.4 1133.5L1032.9 1130.7L1036.5 1128L1040 1125.4L1043.6 1122.8L1047.2 1120.3L1050.7 1117.8L1054.3 1115.5L1057.8 1113.3L1061.4 1111.2L1065 1109.1L1068.5 1107.2L1072.1 1105.5L1075.7 1103.8L1079.2 1102.3L1082.8 1100.9L1086.3 1099.6L1089.9 1098.5L1093.5 1097.6L1097 1096.7L1100.6 1096.1L1104.1 1095.6L1107.7 1095.2L1111.3 1095L1114.8 1094.9L1118.4 1095L1121.9 1095.3L1125.5 1095.7L1129.1 1096.2L1132.6 1096.8L1136.2 1097.6L1139.8 1098.5L1143.3 1099.6L1146.9 1100.8L1150.4 1102.1L1154 1103.5L1157.6 1105L1161.1 1106.7L1164.7 1108.5L1168.2 1110.3L1171.8 1112.3L1175.4 1114.4L1178.9 1116.5L1182.5 1118.8L1186 1121.1L1189.6 1123.5L1193.2 1126L1196.7 1128.5L1200.3 1131.1L1203.9 1133.7L1207.4 1136.4L1211 1139.2L1214.5 1141.9L1218.1 1144.7L1221.7 1147.5L1225.2 1150.4L1228.8 1153.2L1232.3 1156L1235.9 1158.9L1239.5 1161.7L1243 1164.6L1246.6 1167.4L1250.2 1170.2L1253.7 1173L1257.3 1175.8L1260.8 1178.5L1264.4 1181.2L1268 1183.8L1271.5 1186.5L1275.1 1189L1278.6 1191.6L1282.2 1194L1285.8 1196.5L1289.3 1198.8L1292.9 1201.2L1296.4 1203.4L1300 1205.6L1303.6 1207.8L1307.1 1209.9L1310.7 1211.9L1314.3 1213.9L1317.8 1215.7L1321.4 1217.6L1324.9 1219.4L1328.5 1221.1L1332.1 1222.7L1335.6 1224.3L1339.2 1225.8L1342.7 1227.3L1346.3 1228.7L1349.9 1230.1L1353.4 1231.3L1357 1232.6L1360.5 1233.8L1364.1 1234.9L1367.7 1235.9L1371.2 1237L1374.8 1237.9L1378.4 1238.9L1381.9 1239.7L1385.5 1240.6L1389 1241.3L1392.6 1242.1L1396.2 1242.8L1399.7 1243.4L1403.3 1244.1L1406.8 1244.6L1410.4 1245.2L1414 1245.7L1417.5 1246.2L1421.1 1246.7L1424.7 1247.1L1428.2 1247.5L1431.8 1247.9L1435.3 1248.2L1438.9 1248.5L1442.5 1248.8L1446 1249.1L1449.6 1249.4L1453.1 1249.6L1456.7 1249.9L1460.3 1250.1L1463.8 1250.3L1467.4 1250.4L1470.9 1250.6L1474.5 1250.8L1478.1 1250.9L1481.6 1251L1481.6 1252.4Z" fill="#483d85" opacity="0.63"/>
<path d="M963.7 1256.4L963.7 1192.9L967.3 1190.2L970.8 1187.4L974.4 1184.6L977.9 1181.8L981.5 1178.9L985.1 1176L988.6 1173L992.2 1170L995.7 1167.1L999.3 1164.1L1002.9 1161L1006.4 1158L1010 1155L1013.6 1152.1L1017.1 1149.1L1020.7 1146.1L1024.2 1143.2L1027.8 1140.3L1031.4 1137.5L1034.9 1134.7L1038.5 1132L1042 1129.4L1045.6 1126.8L1049.2 1124.3L1052.7 1121.8L1056.3 1119.5L1059.8 1117.3L1063.4 1115.2L1067 1113.1L1070.5 1111.2L1074.1 1109.5L1077.7 1107.8L1081.2 1106.3L1084.8 1104.9L1088.3 1103.6L1091.9 1102.5L1095.5 1101.6L1099 1100.7L1102.6 1100.1L1106.1 1099.6L1109.7 1099.2L1113.3 1099L1116.8 1098.9L1120.4 1099L1123.9 1099.3L1127.5 1099.7L1131.1 1100.2L1134.6 1100.8L1138.2 1101.6L1141.8 1102.5L1145.3 1103.6L1148.9 1104.8L1152.4 1106.1L1156 1107.5L1159.6 1109L1163.1 1110.7L1166.7 1112.5L1170.2 1114.3L1173.8 1116.3L1177.4 1118.4L1180.9 1120.5L1184.5 1122.8L1188 1125.1L1191.6 1127.5L1195.2 1130L1198.7 1132.5L1202.3 1135.1L1205.9 1137.7L1209.4 1140.4L1213 1143.2L1216.5 1145.9L1220.1 1148.7L1223.7 1151.5L1227.2 1154.4L1230.8 1157.2L1234.3 1160L1237.9 1162.9L1241.5 1165.7L1245 1168.6L1248.6 1171.4L1252.2 1174.2L1255.7 1177L1259.3 1179.8L1262.8 1182.5L1266.4 1185.2L1270 1187.8L1273.5 1190.5L1277.1 1193L1280.6 1195.6L1284.2 1198L1287.8 1200.5L1291.3 1202.8L1294.9 1205.2L1298.4 1207.4L1302 1209.6L1305.6 1211.8L1309.1 1213.9L1312.7 1215.9L1316.3 1217.9L1319.8 1219.7L1323.4 1221.6L1326.9 1223.4L1330.5 1225.1L1334.1 1226.7L1337.6 1228.3L1341.2 1229.8L1344.7 1231.3L1348.3 1232.7L1351.9 1234.1L1355.4 1235.3L1359 1236.6L1362.5 1237.8L1366.1 1238.9L1369.7 1239.9L1373.2 1241L1376.8 1241.9L1380.4 1242.9L1383.9 1243.7L1387.5 1244.6L1391 1245.3L1394.6 1246.1L1398.2 1246.8L1401.7 1247.4L1405.3 1248.1L1408.8 1248.6L1412.4 1249.2L1416 1249.7L1419.5 1250.2L1423.1 1250.7L1426.7 1251.1L1430.2 1251.5L1433.8 1251.9L1437.3 1252.2L1440.9 1252.5L1444.5 1252.8L1448 1253.1L1451.6 1253.4L1455.1 1253.6L1458.7 1253.9L1462.3 1254.1L1465.8 1254.3L1469.4 1254.4L1472.9 1254.6L1476.5 1254.8L1480.1 1254.9L1483.6 1255L1483.6 1256.4" fill="none" stroke="#fff" stroke-width="1.4"/>
<path d="M961.7 1252.4L961.7 1240.1L965.3 1237.6L968.8 1234.8L972.4 1231.5L975.9 1227.7L979.5 1223.5L983.1 1218.8L986.6 1213.6L990.2 1207.9L993.7 1201.7L997.3 1195L1000.9 1187.8L1004.4 1180.2L1008 1172.3L1011.6 1164.1L1015.1 1155.7L1018.7 1147.2L1022.2 1138.7L1025.8 1130.3L1029.4 1122.2L1032.9 1114.5L1036.5 1107.3L1040 1100.7L1043.6 1094.9L1047.2 1089.9L1050.7 1085.9L1054.3 1082.9L1057.8 1081.1L1061.4 1080.3L1065 1080.7L1068.5 1082.1L1072.1 1084.6L1075.7 1088L1079.2 1092.4L1082.8 1097.6L1086.3 1103.6L1089.9 1110.2L1093.5 1117.4L1097 1125L1100.6 1132.9L1104.1 1141L1107.7 1149.2L1111.3 1157.4L1114.8 1165.5L1118.4 1173.4L1121.9 1181L1125.5 1188.3L1129.1 1195.2L1132.6 1201.7L1136.2 1207.7L1139.8 1213.2L1143.3 1218.3L1146.9 1222.9L1150.4 1227L1154 1230.7L1157.6 1234L1161.1 1236.9L1164.7 1239.4L1168.2 1241.5L1171.8 1243.4L1175.4 1245L1178.9 1246.3L1182.5 1247.5L1186 1248.4L1189.6 1249.2L1193.2 1249.8L1196.7 1250.4L1200.3 1250.8L1200.3 1252.4Z" fill="#a9115f" opacity="0.63"/>
<path d="M963.7 1256.4L963.7 1244.1L967.3 1241.6L970.8 1238.8L974.4 1235.5L977.9 1231.7L981.5 1227.5L985.1 1222.8L988.6 1217.6L992.2 1211.9L995.7 1205.7L999.3 1199L1002.9 1191.8L1006.4 1184.2L1010 1176.3L1013.6 1168.1L1017.1 1159.7L1020.7 1151.2L1024.2 1142.7L1027.8 1134.3L1031.4 1126.2L1034.9 1118.5L1038.5 1111.3L1042 1104.7L1045.6 1098.9L1049.2 1093.9L1052.7 1089.9L1056.3 1086.9L1059.8 1085.1L1063.4 1084.3L1067 1084.7L1070.5 1086.1L1074.1 1088.6L1077.7 1092L1081.2 1096.4L1084.8 1101.6L1088.3 1107.6L1091.9 1114.2L1095.5 1121.4L1099 1129L1102.6 1136.9L1106.1 1145L1109.7 1153.2L1113.3 1161.4L1116.8 1169.5L1120.4 1177.4L1123.9 1185L1127.5 1192.3L1131.1 1199.2L1134.6 1205.7L1138.2 1211.7L1141.8 1217.2L1145.3 1222.3L1148.9 1226.9L1152.4 1231L1156 1234.7L1159.6 1238L1163.1 1240.9L1166.7 1243.4L1170.2 1245.5L1173.8 1247.4L1177.4 1249L1180.9 1250.3L1184.5 1251.5L1188 1252.4L1191.6 1253.2L1195.2 1253.8L1198.7 1254.4L1202.3 1254.8L1202.3 1256.4" fill="none" stroke="#fff" stroke-width="1.4"/>
</g>
<g stroke-width="1.5" fill="none">
<path d="M1054.5 1262.2V1310.4M1059.8 1262.2V1310.4M1077.7 1262.2V1310.4M1129.3 1262.2V1310.4M1132.9 1262.2V1310.4M1136.4 1262.2V1310.4M1168.5 1262.2V1310.4M1172 1262.2V1310.4M1180.9 1262.2V1310.4" stroke="#205040"/>
<path d="M1052.7 1262.2V1310.4M1072.3 1262.2V1310.4M1084.8 1262.2V1310.4M1106.1 1262.2V1310.4M1182.7 1262.2V1310.4" stroke="#304858"/>
<path d="M1038.5 1262.2V1310.4M1050.9 1262.2V1310.4M1093.7 1262.2V1310.4" stroke="#404078"/>
<path d="M1116.8 1262.2V1310.4M1127.5 1262.2V1310.4M1131.1 1262.2V1310.4M1154.2 1262.2V1310.4M1157.8 1262.2V1310.4M1161.3 1262.2V1310.4M1173.8 1262.2V1310.4M1177.4 1262.2V1310.4" stroke="#484828"/>
<path d="M1063.4 1262.2V1310.4M1104.4 1262.2V1310.4M1115 1262.2V1310.4M1125.7 1262.2V1310.4" stroke="#503850"/>
<path d="M1090.1 1262.2V1310.4M1122.2 1262.2V1310.4M1147.1 1262.2V1310.4M1152.4 1262.2V1310.4" stroke="#604030"/>
<path d="M1065.2 1262.2V1310.4M1079.4 1262.2V1310.4M1143.5 1262.2V1310.4M1145.3 1262.2V1310.4M1166.7 1262.2V1310.4M1191.6 1262.2V1310.4M1200.5 1262.2V1310.4M1230.8 1262.2V1310.4M1262.8 1262.2V1310.4M1278 1262.2V1310.4M1287.8 1262.2V1310.4M1319.8 1262.2V1310.4" stroke="#609080"/>
<path d="M1034.9 1262.2V1310.4M1036.7 1262.2V1310.4M1043.8 1262.2V1310.4M1049.2 1262.2V1310.4M1058.1 1262.2V1310.4M1068.7 1262.2V1310.4M1070.5 1262.2V1310.4" stroke="#703068"/>
<path d="M998.4 1262.2V1310.4M1056.3 1262.2V1310.4M1075.9 1262.2V1310.4M1170.2 1262.2V1310.4M1257.5 1262.2V1310.4M1342.1 1262.2V1310.4M1374.1 1262.2V1310.4M1582.5 1262.2V1310.4" stroke="#8080b0"/>
<path d="M1095.5 1262.2V1310.4M1118.6 1262.2V1310.4M1123.9 1262.2V1310.4M1140 1262.2V1310.4M1150.7 1262.2V1310.4M1163.1 1262.2V1310.4" stroke="#903818"/>
<path d="M1099 1262.2V1310.4M1107.9 1262.2V1310.4M1120.4 1262.2V1310.4M1188.9 1262.2V1310.4" stroke="#a03028"/>
<path d="M1027.8 1262.2V1310.4M1074.1 1262.2V1310.4M1083 1262.2V1310.4M1102.6 1262.2V1310.4" stroke="#b02858"/>
<path d="M1091.9 1262.2V1310.4M1109.7 1262.2V1310.4M1134.6 1262.2V1310.4M1138.2 1262.2V1310.4M1141.8 1262.2V1310.4M1148.9 1262.2V1310.4M1164.9 1262.2V1310.4M1184.5 1262.2V1310.4M1196.1 1262.2V1310.4M1207.6 1262.2V1310.4M1210.3 1262.2V1310.4M1221.9 1262.2V1310.4M1235.2 1262.2V1310.4M1265.5 1262.2V1310.4" stroke="#c07848"/>
<path d="M1017.1 1262.2V1310.4M1019.8 1262.2V1310.4M1026 1262.2V1310.4M1033.1 1262.2V1310.4M1040.3 1262.2V1310.4M1042 1262.2V1310.4M1045.6 1262.2V1310.4M1081.2 1262.2V1310.4M1086.6 1262.2V1310.4M1113.3 1262.2V1310.4" stroke="#d06098"/>
</g>
<g stroke="#000" fill="none">
<rect x="981.5" y="952.9" width="890.3" height="363.1" stroke-width="4.4"/>
<path d="M981.5 1256.4H1871.8" stroke-width="4.4"/>
<path d="M1871.8 1256.4h-6.2M1871.8 1222.7h-6.2M1871.8 1189h-6.2M1871.8 1155.4h-6.2M1871.8 1121.7h-6.2M1871.8 1088h-6.2M1871.8 1054.3h-6.2M1871.8 1020.6h-6.2M1871.8 987h-6.2M1871.8 953.3h-6.2M981.5 1316v-6.8M1070.5 1316v-6.8M1159.6 1316v-6.8M1248.6 1316v-6.8M1337.6 1316v-6.8M1426.7 1316v-6.8M1515.7 1316v-6.8M1604.7 1316v-6.8M1693.7 1316v-6.8M1782.8 1316v-6.8M1871.8 1316v-6.8" stroke-width="4.2"/>
<path d="M1871.8 1239.6h-3.3M1871.8 1205.9h-3.3M1871.8 1172.2h-3.3M1871.8 1138.5h-3.3M1871.8 1104.8h-3.3M1871.8 1071.2h-3.3M1871.8 1037.5h-3.3M1871.8 1003.8h-3.3M1871.8 970.1h-3.3M1026 1316v-3.3M1115 1316v-3.3M1204.1 1316v-3.3M1293.1 1316v-3.3M1382.1 1316v-3.3M1471.2 1316v-3.3M1560.2 1316v-3.3M1649.2 1316v-3.3M1738.3 1316v-3.3M1827.3 1316v-3.3" stroke-width="3.4"/>
</g>
<g>
<text x="1878.4" y="1266.8">0.0</text>
<text x="1878.4" y="1233.1">0.1</text>
<text x="1878.4" y="1199.4">0.2</text>
<text x="1878.4" y="1165.8">0.3</text>
<text x="1878.4" y="1132.1">0.4</text>
<text x="1878.4" y="1098.4">0.5</text>
<text x="1878.4" y="1064.7">0.6</text>
<text x="1878.4" y="1031">0.7</text>
<text x="1878.4" y="997.4">0.8</text>
<text x="1878.4" y="963.7">0.9</text>
<text x="1070.5" y="1350" text-anchor="middle">150</text>
<text x="1159.6" y="1350" text-anchor="middle">200</text>
<text x="1248.6" y="1350" text-anchor="middle">250</text>
<text x="1337.6" y="1350" text-anchor="middle">300</text>
<text x="1426.7" y="1350" text-anchor="middle">350</text>
<text x="1515.7" y="1350" text-anchor="middle">400</text>
<text x="1604.7" y="1350" text-anchor="middle">450</text>
<text x="1693.7" y="1350" text-anchor="middle">500</text>
<text x="1782.8" y="1350" text-anchor="middle">550</text>
<text x="1871.8" y="1350" text-anchor="middle">600</text>
<text x="1922.5" y="1350.5" style="font-size:36px">MPa</text>
<text transform="translate(1968.2 1105.7) rotate(-90)" text-anchor="middle">Density</text>
<text x="1421" y="1406.5" text-anchor="middle">W/B0.6 90d</text>
</g>
<g>
<rect x="1023" y="961" width="78" height="36.9" fill="#0f704f" opacity="0.63"/>
<text x="1113.1" y="992.8">0%</text>
<rect x="1171.2" y="961" width="78" height="36.9" fill="#933d00" opacity="0.63"/>
<text x="1260.5" y="992.8">10%</text>
<rect x="1337" y="961" width="78" height="36.9" fill="#483d85" opacity="0.63"/>
<text x="1427.9" y="992.8">20%</text>
<rect x="1503.5" y="961" width="78" height="36.9" fill="#a9115f" opacity="0.63"/>
<text x="1594.2" y="992.8">30%</text>
</g>
</g>
</svg></body></html>
